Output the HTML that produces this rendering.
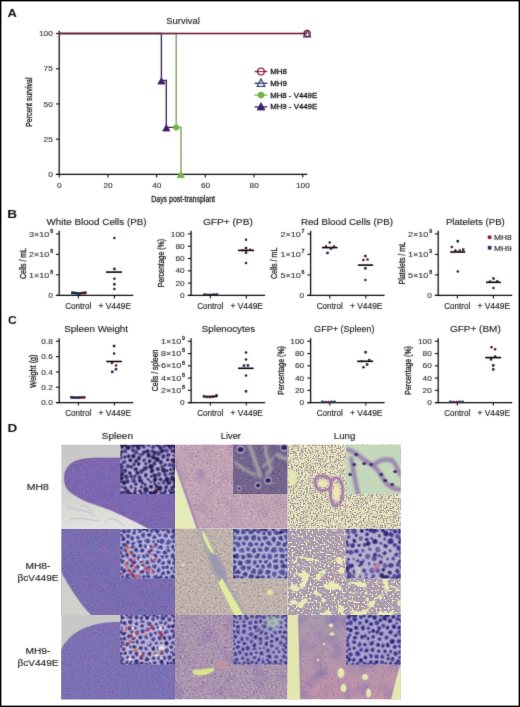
<!DOCTYPE html>
<html><head><meta charset="utf-8"><title>Figure</title>
<style>
html,body{margin:0;padding:0;background:#fff;}
body{width:520px;height:707px;overflow:hidden;}
svg{display:block;}
text{font-family:"Liberation Sans", Arial, Helvetica, sans-serif;}
</style></head><body>
<svg width="520" height="707" viewBox="0 0 520 707">
<defs>
<filter id="glob" x="0" y="0" width="520" height="707" filterUnits="userSpaceOnUse"><feConvolveMatrix order="3" kernelMatrix="0.0100 0.0800 0.0100 0.0800 0.6400 0.0800 0.0100 0.0800 0.0100" edgeMode="none"/></filter>
<clipPath id="t00"><rect x="61.2" y="444.5" width="113.80" height="84.30"/></clipPath>
<clipPath id="i00"><rect x="120.40" y="444.5" width="54.6" height="49.6"/></clipPath>
<clipPath id="t01"><rect x="175.0" y="444.5" width="112.70" height="84.30"/></clipPath>
<clipPath id="i01"><rect x="233.10" y="444.5" width="54.6" height="49.6"/></clipPath>
<clipPath id="t02"><rect x="287.7" y="444.5" width="113.10" height="84.30"/></clipPath>
<clipPath id="i02"><rect x="346.20" y="444.5" width="54.6" height="49.6"/></clipPath>
<clipPath id="t10"><rect x="61.2" y="528.8" width="113.80" height="86.20"/></clipPath>
<clipPath id="i10"><rect x="120.40" y="528.8" width="54.6" height="49.6"/></clipPath>
<clipPath id="t11"><rect x="175.0" y="528.8" width="112.70" height="86.20"/></clipPath>
<clipPath id="i11"><rect x="233.10" y="528.8" width="54.6" height="49.6"/></clipPath>
<clipPath id="t12"><rect x="287.7" y="528.8" width="113.10" height="86.20"/></clipPath>
<clipPath id="i12"><rect x="346.20" y="528.8" width="54.6" height="49.6"/></clipPath>
<clipPath id="t20"><rect x="61.2" y="615.0" width="113.80" height="84.40"/></clipPath>
<clipPath id="i20"><rect x="120.40" y="615.0" width="54.6" height="49.6"/></clipPath>
<clipPath id="t21"><rect x="175.0" y="615.0" width="112.70" height="84.40"/></clipPath>
<clipPath id="i21"><rect x="233.10" y="615.0" width="54.6" height="49.6"/></clipPath>
<clipPath id="t22"><rect x="287.7" y="615.0" width="113.10" height="84.40"/></clipPath>
<clipPath id="i22"><rect x="346.20" y="615.0" width="54.6" height="49.6"/></clipPath>
<filter id="b3" x="-10%" y="-10%" width="120%" height="120%"><feConvolveMatrix order="3" kernelMatrix="0.0064 0.0672 0.0064 0.0672 0.7056 0.0672 0.0064 0.0672 0.0064" edgeMode="duplicate"/></filter>
<filter id="b4" x="-10%" y="-10%" width="120%" height="120%"><feConvolveMatrix order="3" kernelMatrix="0.0144 0.0912 0.0144 0.0912 0.5776 0.0912 0.0144 0.0912 0.0144" edgeMode="duplicate"/></filter>
<filter id="b5" x="-10%" y="-10%" width="120%" height="120%"><feConvolveMatrix order="3" kernelMatrix="0.0256 0.1088 0.0256 0.1088 0.4624 0.1088 0.0256 0.1088 0.0256" edgeMode="duplicate"/></filter>
<filter id="b6" x="-10%" y="-10%" width="120%" height="120%"><feConvolveMatrix order="3" kernelMatrix="0.0400 0.1200 0.0400 0.1200 0.3600 0.1200 0.0400 0.1200 0.0400" edgeMode="duplicate"/></filter>
<filter id="b8" x="-10%" y="-10%" width="120%" height="120%"><feGaussianBlur stdDeviation="0.8"/></filter>
<filter id="b10" x="-10%" y="-10%" width="120%" height="120%"><feGaussianBlur stdDeviation="1.0"/></filter>
<filter id="b15" x="-10%" y="-10%" width="120%" height="120%"><feGaussianBlur stdDeviation="1.5"/></filter>
<filter id="b20" x="-10%" y="-10%" width="120%" height="120%"><feGaussianBlur stdDeviation="2.0"/></filter>
<filter id="b30" x="-10%" y="-10%" width="120%" height="120%"><feGaussianBlur stdDeviation="3.0"/></filter>
<clipPath id="tongue"><path d="M64.5,478 C64.5,470 69,464.5 75,461.5 C81,459 88,458.5 96,458.3 L176,458 L176,529 L150,529 C146,527 140,523.5 131,519.2 C124,516 118,513 111,510 C104,507.2 98,505 92,503.3 C84,500.5 76,496 70,491.5 C66,488 64.5,483 64.5,478 Z"/></clipPath>
<linearGradient id="g00" x1="0" y1="0" x2="0.3" y2="1"><stop offset="0" stop-color="#c6c6c6"/><stop offset="0.5" stop-color="#cfcfcd"/><stop offset="1" stop-color="#e2e2de"/></linearGradient>
<filter id="fin01a" x="0%" y="0%" width="100%" height="100%" color-interpolation-filters="sRGB"><feTurbulence type="fractalNoise" baseFrequency="0.4" numOctaves="2" seed="51"/><feColorMatrix type="matrix" values="0 0 0 0 0.369 0 0 0 0 0.298 0 0 0 0 0.518 2.6 0 0 0 -1.35"/><feGaussianBlur stdDeviation="0.45"/></filter>
<filter id="fin01b" x="0%" y="0%" width="100%" height="100%" color-interpolation-filters="sRGB"><feTurbulence type="fractalNoise" baseFrequency="0.4" numOctaves="2" seed="52"/><feColorMatrix type="matrix" values="0 0 0 0 0.659 0 0 0 0 0.620 0 0 0 0 0.722 1.8 0 0 0 -1.0"/><feGaussianBlur stdDeviation="0.45"/></filter>
<clipPath id="lowlung"><path d="M287,560 L300,556 L330,562 L345,552 L402,560 L402,616 L287,616 Z"/></clipPath>
<clipPath id="disc"><path d="M60,652 C63,644 69,637 77,632 C85,627 95,624 105,622.8 C111,622.2 117,622 123,621.8 L176,621.5 L176,700 L60,700 Z"/></clipPath>
<linearGradient id="g22" x1="0" y1="0" x2="0" y2="1"><stop offset="0" stop-color="#aa9aae"/><stop offset="1" stop-color="#c294aa"/></linearGradient>
<filter id="msp_p" x="0%" y="0%" width="100%" height="100%" color-interpolation-filters="sRGB"><feTurbulence type="fractalNoise" baseFrequency="0.09" numOctaves="3" seed="21"/><feColorMatrix type="matrix" values="0 0 0 0 0.565 0 0 0 0 0.439 0 0 0 0 0.690 1.6 0 0 0 -0.8"/><feGaussianBlur stdDeviation="1.0"/></filter>
<filter id="msp_b" x="0%" y="0%" width="100%" height="100%" color-interpolation-filters="sRGB"><feTurbulence type="fractalNoise" baseFrequency="0.1" numOctaves="3" seed="22"/><feColorMatrix type="matrix" values="0 0 0 0 0.416 0 0 0 0 0.455 0 0 0 0 0.737 1.6 0 0 0 -0.8"/><feGaussianBlur stdDeviation="1.0"/></filter>
<filter id="fsp_l" x="0%" y="0%" width="100%" height="100%" color-interpolation-filters="sRGB"><feTurbulence type="fractalNoise" baseFrequency="0.5" numOctaves="2" seed="41"/><feColorMatrix type="matrix" values="0 0 0 0 0.643 0 0 0 0 0.533 0 0 0 0 0.784 1.6 0 0 0 -0.9"/><feGaussianBlur stdDeviation="0.4"/></filter>
<filter id="fsp_d" x="0%" y="0%" width="100%" height="100%" color-interpolation-filters="sRGB"><feTurbulence type="fractalNoise" baseFrequency="0.5" numOctaves="2" seed="42"/><feColorMatrix type="matrix" values="0 0 0 0 0.329 0 0 0 0 0.267 0 0 0 0 0.557 1.6 0 0 0 -0.9"/><feGaussianBlur stdDeviation="0.4"/></filter>
<filter id="mliv0" x="0%" y="0%" width="100%" height="100%" color-interpolation-filters="sRGB"><feTurbulence type="fractalNoise" baseFrequency="0.07" numOctaves="3" seed="24"/><feColorMatrix type="matrix" values="0 0 0 0 0.690 0 0 0 0 0.541 0 0 0 0 0.675 2.0 0 0 0 -1.0"/><feGaussianBlur stdDeviation="1.5"/></filter>
<filter id="fliv0" x="0%" y="0%" width="100%" height="100%" color-interpolation-filters="sRGB"><feTurbulence type="fractalNoise" baseFrequency="0.45" numOctaves="2" seed="25"/><feColorMatrix type="matrix" values="0 0 0 0 0.549 0 0 0 0 0.424 0 0 0 0 0.573 1.6 0 0 0 -0.85"/><feGaussianBlur stdDeviation="0.45"/></filter>
<filter id="fliv0b" x="0%" y="0%" width="100%" height="100%" color-interpolation-filters="sRGB"><feTurbulence type="fractalNoise" baseFrequency="0.45" numOctaves="2" seed="26"/><feColorMatrix type="matrix" values="0 0 0 0 0.894 0 0 0 0 0.839 0 0 0 0 0.871 1.6 0 0 0 -0.85"/><feGaussianBlur stdDeviation="0.45"/></filter>
<filter id="fliv1" x="0%" y="0%" width="100%" height="100%" color-interpolation-filters="sRGB"><feTurbulence type="fractalNoise" baseFrequency="0.45" numOctaves="2" seed="27"/><feColorMatrix type="matrix" values="0 0 0 0 0.522 0 0 0 0 0.455 0 0 0 0 0.502 1.7 0 0 0 -0.85"/><feGaussianBlur stdDeviation="0.45"/></filter>
<filter id="fliv1b" x="0%" y="0%" width="100%" height="100%" color-interpolation-filters="sRGB"><feTurbulence type="fractalNoise" baseFrequency="0.45" numOctaves="2" seed="28"/><feColorMatrix type="matrix" values="0 0 0 0 0.902 0 0 0 0 0.871 0 0 0 0 0.831 1.6 0 0 0 -0.85"/><feGaussianBlur stdDeviation="0.45"/></filter>
<filter id="mliv2" x="0%" y="0%" width="100%" height="100%" color-interpolation-filters="sRGB"><feTurbulence type="fractalNoise" baseFrequency="0.06" numOctaves="3" seed="29"/><feColorMatrix type="matrix" values="0 0 0 0 0.541 0 0 0 0 0.447 0 0 0 0 0.690 1.8 0 0 0 -0.9"/><feGaussianBlur stdDeviation="1.5"/></filter>
<filter id="fliv2" x="0%" y="0%" width="100%" height="100%" color-interpolation-filters="sRGB"><feTurbulence type="fractalNoise" baseFrequency="0.45" numOctaves="2" seed="30"/><feColorMatrix type="matrix" values="0 0 0 0 0.431 0 0 0 0 0.353 0 0 0 0 0.533 1.7 0 0 0 -0.85"/><feGaussianBlur stdDeviation="0.45"/></filter>
<filter id="fliv2b" x="0%" y="0%" width="100%" height="100%" color-interpolation-filters="sRGB"><feTurbulence type="fractalNoise" baseFrequency="0.45" numOctaves="2" seed="31"/><feColorMatrix type="matrix" values="0 0 0 0 0.863 0 0 0 0 0.784 0 0 0 0 0.847 1.6 0 0 0 -0.85"/><feGaussianBlur stdDeviation="0.45"/></filter>
<filter id="flung0" x="0%" y="0%" width="100%" height="100%" color-interpolation-filters="sRGB"><feTurbulence type="fractalNoise" baseFrequency="0.6" numOctaves="2" seed="32"/><feColorMatrix type="matrix" values="0 0 0 0 0.675 0 0 0 0 0.612 0 0 0 0 0.643 8.0 0 0 0 -3.9"/><feGaussianBlur stdDeviation="0.35"/></filter>
<filter id="flung0b" x="0%" y="0%" width="100%" height="100%" color-interpolation-filters="sRGB"><feTurbulence type="fractalNoise" baseFrequency="0.13" numOctaves="2" seed="33"/><feColorMatrix type="matrix" values="0 0 0 0 0.706 0 0 0 0 0.627 0 0 0 0 0.659 2.0 0 0 0 -1.1"/><feGaussianBlur stdDeviation="1.0"/></filter>
<filter id="fl1a" x="0%" y="0%" width="100%" height="100%" color-interpolation-filters="sRGB"><feTurbulence type="fractalNoise" baseFrequency="0.11" numOctaves="3" seed="34"/><feColorMatrix type="matrix" values="0 0 0 0 0.910 0 0 0 0 0.918 0 0 0 0 0.706 9.0 0 0 0 -5.05"/><feGaussianBlur stdDeviation="0.5"/></filter>
<filter id="fl1b" x="0%" y="0%" width="100%" height="100%" color-interpolation-filters="sRGB"><feTurbulence type="fractalNoise" baseFrequency="0.5" numOctaves="2" seed="35"/><feColorMatrix type="matrix" values="0 0 0 0 0.925 0 0 0 0 0.922 0 0 0 0 0.753 7.0 0 0 0 -3.75"/><feGaussianBlur stdDeviation="0.35"/></filter>
<filter id="fl1c" x="0%" y="0%" width="100%" height="100%" color-interpolation-filters="sRGB"><feTurbulence type="fractalNoise" baseFrequency="0.07" numOctaves="2" seed="36"/><feColorMatrix type="matrix" values="0 0 0 0 0.722 0 0 0 0 0.565 0 0 0 0 0.659 1.6 0 0 0 -0.8"/><feGaussianBlur stdDeviation="1.5"/></filter>
<filter id="mlung2" x="0%" y="0%" width="100%" height="100%" color-interpolation-filters="sRGB"><feTurbulence type="fractalNoise" baseFrequency="0.07" numOctaves="3" seed="37"/><feColorMatrix type="matrix" values="0 0 0 0 0.541 0 0 0 0 0.471 0 0 0 0 0.690 2.4 0 0 0 -1.1"/><feGaussianBlur stdDeviation="1.5"/></filter>
<filter id="flung2" x="0%" y="0%" width="100%" height="100%" color-interpolation-filters="sRGB"><feTurbulence type="fractalNoise" baseFrequency="0.45" numOctaves="2" seed="38"/><feColorMatrix type="matrix" values="0 0 0 0 0.541 0 0 0 0 0.416 0 0 0 0 0.596 1.6 0 0 0 -0.85"/><feGaussianBlur stdDeviation="0.45"/></filter>
</defs>
<rect x="0" y="0" width="520" height="707" fill="#fff"/>
<g filter="url(#glob)">
<text x="7.41" y="17.30" font-size="11.5" textLength="9.35" lengthAdjust="spacingAndGlyphs" fill="#111" font-weight="bold">A</text>
<text x="166.35" y="24.40" font-size="9.1" textLength="33.41" lengthAdjust="spacingAndGlyphs" fill="#1e1e1e" stroke="#1e1e1e" stroke-width="0.14">Survival</text>
<line x1="59.20" y1="30.70" x2="59.20" y2="175.00" stroke="#111" stroke-width="1.3"/>
<line x1="55.90" y1="174.40" x2="307.30" y2="174.40" stroke="#111" stroke-width="1.3"/>
<line x1="55.90" y1="33.50" x2="59.20" y2="33.50" stroke="#111" stroke-width="1.1"/>
<text x="38.95" y="36.10" font-size="7.4" textLength="13.80" lengthAdjust="spacingAndGlyphs" fill="#333333" stroke="#333333" stroke-width="0.12">100</text>
<line x1="55.90" y1="68.72" x2="59.20" y2="68.72" stroke="#111" stroke-width="1.1"/>
<text x="43.55" y="71.32" font-size="7.4" textLength="9.20" lengthAdjust="spacingAndGlyphs" fill="#333333" stroke="#333333" stroke-width="0.12">75</text>
<line x1="55.90" y1="103.95" x2="59.20" y2="103.95" stroke="#111" stroke-width="1.1"/>
<text x="43.55" y="106.55" font-size="7.4" textLength="9.20" lengthAdjust="spacingAndGlyphs" fill="#333333" stroke="#333333" stroke-width="0.12">50</text>
<line x1="55.90" y1="139.18" x2="59.20" y2="139.18" stroke="#111" stroke-width="1.1"/>
<text x="43.55" y="141.78" font-size="7.4" textLength="9.20" lengthAdjust="spacingAndGlyphs" fill="#333333" stroke="#333333" stroke-width="0.12">25</text>
<line x1="55.90" y1="174.40" x2="59.20" y2="174.40" stroke="#111" stroke-width="1.1"/>
<text x="48.15" y="177.00" font-size="7.4" textLength="4.60" lengthAdjust="spacingAndGlyphs" fill="#333333" stroke="#333333" stroke-width="0.12">0</text>
<line x1="59.20" y1="174.40" x2="59.20" y2="177.40" stroke="#111" stroke-width="1.1"/>
<text x="57.10" y="188.00" font-size="7.4" textLength="4.60" lengthAdjust="spacingAndGlyphs" fill="#333333" stroke="#333333" stroke-width="0.12">0</text>
<line x1="107.90" y1="174.40" x2="107.90" y2="177.40" stroke="#111" stroke-width="1.1"/>
<text x="103.50" y="188.00" font-size="7.4" textLength="9.20" lengthAdjust="spacingAndGlyphs" fill="#333333" stroke="#333333" stroke-width="0.12">20</text>
<line x1="156.60" y1="174.40" x2="156.60" y2="177.40" stroke="#111" stroke-width="1.1"/>
<text x="152.20" y="188.00" font-size="7.4" textLength="9.20" lengthAdjust="spacingAndGlyphs" fill="#333333" stroke="#333333" stroke-width="0.12">40</text>
<line x1="205.30" y1="174.40" x2="205.30" y2="177.40" stroke="#111" stroke-width="1.1"/>
<text x="200.90" y="188.00" font-size="7.4" textLength="9.20" lengthAdjust="spacingAndGlyphs" fill="#333333" stroke="#333333" stroke-width="0.12">60</text>
<line x1="254.00" y1="174.40" x2="254.00" y2="177.40" stroke="#111" stroke-width="1.1"/>
<text x="249.60" y="188.00" font-size="7.4" textLength="9.20" lengthAdjust="spacingAndGlyphs" fill="#333333" stroke="#333333" stroke-width="0.12">80</text>
<line x1="302.70" y1="174.40" x2="302.70" y2="177.40" stroke="#111" stroke-width="1.1"/>
<text x="296.00" y="188.00" font-size="7.4" textLength="13.80" lengthAdjust="spacingAndGlyphs" fill="#333333" stroke="#333333" stroke-width="0.12">100</text>
<text x="151.26" y="201.80" font-size="9" textLength="63.80" lengthAdjust="spacingAndGlyphs" fill="#1e1e1e" stroke="#1e1e1e" stroke-width="0.3">Days post-transplant</text>
<text transform="translate(32.39,102.20) rotate(-90)" x="0" y="0" font-size="8.6" text-anchor="middle" textLength="49.29" lengthAdjust="spacingAndGlyphs" fill="#1e1e1e" stroke="#1e1e1e" stroke-width="0.3">Percent survival</text>
<polyline points="59.2,33.5 161.4,33.5 161.4,80.47 166.3,80.47 166.3,127.43 176,127.43" fill="none" stroke="#3a2858" stroke-width="1.35"/>
<polyline points="59.2,33.5 176.2,33.5 176.2,127.43 181,127.43 181,174.4" fill="none" stroke="#7ca26a" stroke-width="1.4"/>
<line x1="59.20" y1="33.50" x2="307.10" y2="33.50" stroke="#6a1530" stroke-width="1.6"/>
<polygon points="157.90,83.97 164.90,83.97 161.40,77.97" fill="#3c1e6c" stroke="#3c1e6c" stroke-width="1.0" stroke-linejoin="miter"/>
<polygon points="162.80,130.93 169.80,130.93 166.30,124.93" fill="#3c1e6c" stroke="#3c1e6c" stroke-width="1.0" stroke-linejoin="miter"/>
<circle cx="176.2" cy="127.43" r="3" fill="#74b24a"/>
<polygon points="177.30,177.60 184.30,177.60 180.80,171.60" fill="#74b24a" stroke="#74b24a" stroke-width="1.0" stroke-linejoin="miter"/>
<polygon points="303.60,37.00 310.60,37.00 307.10,30.50" fill="none" stroke="#22356a" stroke-width="1.1" stroke-linejoin="miter"/>
<circle cx="307.1" cy="33.5" r="3.1" fill="none" stroke="#861636" stroke-width="1.3"/>
<circle cx="261" cy="71.5" r="3.3" fill="#fff" stroke="#861636" stroke-width="1.3"/>
<line x1="254.60" y1="71.50" x2="267.30" y2="71.50" stroke="#861636" stroke-width="1.3"/>
<text x="270.15" y="73.90" font-size="7.5" textLength="16.75" lengthAdjust="spacingAndGlyphs" fill="#141414" stroke="#141414" stroke-width="0.28">MH8</text>
<polygon points="257.20,86.30 264.80,86.30 261.00,79.10" fill="#fff" stroke="#22356a" stroke-width="1.2" stroke-linejoin="miter"/>
<line x1="254.60" y1="83.30" x2="267.30" y2="83.30" stroke="#22356a" stroke-width="1.3"/>
<text x="270.15" y="85.70" font-size="7.5" textLength="16.75" lengthAdjust="spacingAndGlyphs" fill="#141414" stroke="#141414" stroke-width="0.28">MH9</text>
<circle cx="261" cy="95.1" r="3.3" fill="#74b24a"/>
<line x1="254.60" y1="95.10" x2="267.30" y2="95.10" stroke="#74b24a" stroke-width="1.3"/>
<text x="270.15" y="97.50" font-size="7.5" textLength="47.05" lengthAdjust="spacingAndGlyphs" fill="#141414" stroke="#141414" stroke-width="0.28">MH8 - V449E</text>
<polygon points="257.20,109.90 264.80,109.90 261.00,102.70" fill="#3c1e6c" stroke="#3c1e6c" stroke-width="1.0" stroke-linejoin="miter"/>
<line x1="254.60" y1="106.90" x2="267.30" y2="106.90" stroke="#3c1e6c" stroke-width="1.3"/>
<text x="270.15" y="109.30" font-size="7.5" textLength="47.05" lengthAdjust="spacingAndGlyphs" fill="#141414" stroke="#141414" stroke-width="0.28">MH9 - V449E</text>
<text x="7.31" y="217.50" font-size="11.5" textLength="9.85" lengthAdjust="spacingAndGlyphs" fill="#111" font-weight="bold">B</text>
<text x="7.91" y="324.40" font-size="11.5" textLength="8.75" lengthAdjust="spacingAndGlyphs" fill="#111" font-weight="bold">C</text>
<line x1="59.20" y1="230.80" x2="59.20" y2="296.00" stroke="#111" stroke-width="1.3"/>
<line x1="55.90" y1="295.40" x2="133.20" y2="295.40" stroke="#111" stroke-width="1.3"/>
<line x1="55.90" y1="295.40" x2="59.20" y2="295.40" stroke="#111" stroke-width="1.1"/>
<text x="48.15" y="298.00" font-size="7.4" textLength="4.60" lengthAdjust="spacingAndGlyphs" fill="#333333" stroke="#333333" stroke-width="0.12">0</text>
<line x1="55.90" y1="274.90" x2="59.20" y2="274.90" stroke="#111" stroke-width="1.1"/>
<text x="29.00" y="277.50" font-size="7.4" textLength="20.30" lengthAdjust="spacingAndGlyphs" fill="#333333" stroke="#333333" stroke-width="0.12">1×10</text>
<text x="50.20" y="273.70" font-size="5.3" fill="#333333" stroke="#333333" stroke-width="0.3">8</text>
<line x1="55.90" y1="254.40" x2="59.20" y2="254.40" stroke="#111" stroke-width="1.1"/>
<text x="29.00" y="257.00" font-size="7.4" textLength="20.30" lengthAdjust="spacingAndGlyphs" fill="#333333" stroke="#333333" stroke-width="0.12">2×10</text>
<text x="50.20" y="253.20" font-size="5.3" fill="#333333" stroke="#333333" stroke-width="0.3">8</text>
<line x1="55.90" y1="233.90" x2="59.20" y2="233.90" stroke="#111" stroke-width="1.1"/>
<text x="29.00" y="236.50" font-size="7.4" textLength="20.30" lengthAdjust="spacingAndGlyphs" fill="#333333" stroke="#333333" stroke-width="0.12">3×10</text>
<text x="50.20" y="232.70" font-size="5.3" fill="#333333" stroke="#333333" stroke-width="0.3">8</text>
<line x1="78.40" y1="295.40" x2="78.40" y2="298.40" stroke="#111" stroke-width="1.1"/>
<line x1="114.40" y1="295.40" x2="114.40" y2="298.40" stroke="#111" stroke-width="1.1"/>
<text x="65.31" y="308.80" font-size="8.2" textLength="26.02" lengthAdjust="spacingAndGlyphs" fill="#1e1e1e" stroke="#1e1e1e" stroke-width="0.14">Control</text>
<text x="98.51" y="308.80" font-size="8.2" textLength="32.52" lengthAdjust="spacingAndGlyphs" fill="#1e1e1e" stroke="#1e1e1e" stroke-width="0.14">+ V449E</text>
<text x="46.52" y="225.10" font-size="9.7" textLength="100.07" lengthAdjust="spacingAndGlyphs" fill="#1e1e1e" stroke="#1e1e1e" stroke-width="0.14">White Blood Cells (PB)</text>
<text transform="translate(25.62,263.55) rotate(-90)" x="0" y="0" font-size="8.5" text-anchor="middle" textLength="30.78" lengthAdjust="spacingAndGlyphs" fill="#1e1e1e" stroke="#1e1e1e" stroke-width="0.3">Cells / mL</text>
<line x1="106.10" y1="272.10" x2="122.00" y2="272.10" stroke="#000" stroke-width="1.6"/>
<line x1="71.00" y1="293.40" x2="86.00" y2="293.40" stroke="#000" stroke-width="1.6"/>
<circle cx="114.4" cy="238.1" r="1.25" fill="#4c0a22"/>
<rect x="113.15" y="267.65" width="2.50" height="2.50" fill="#142848"/>
<circle cx="114.4" cy="278.7" r="1.25" fill="#4c0a22"/>
<rect x="113.15" y="283.05" width="2.50" height="2.50" fill="#142848"/>
<circle cx="114.4" cy="289.1" r="1.25" fill="#4c0a22"/>
<rect x="71.25" y="291.35" width="2.50" height="2.50" fill="#142848"/>
<rect x="73.55" y="291.65" width="2.50" height="2.50" fill="#142848"/>
<rect x="75.75" y="292.05" width="2.50" height="2.50" fill="#142848"/>
<rect x="77.95" y="292.35" width="2.50" height="2.50" fill="#142848"/>
<circle cx="81.4" cy="293.1" r="1.25" fill="#4c0a22"/>
<circle cx="83.6" cy="292.8" r="1.25" fill="#4c0a22"/>
<circle cx="85.6" cy="292.6" r="1.25" fill="#4c0a22"/>
<line x1="191.10" y1="230.80" x2="191.10" y2="296.00" stroke="#111" stroke-width="1.3"/>
<line x1="187.80" y1="295.40" x2="265.10" y2="295.40" stroke="#111" stroke-width="1.3"/>
<line x1="187.80" y1="295.40" x2="191.10" y2="295.40" stroke="#111" stroke-width="1.1"/>
<text x="180.05" y="298.00" font-size="7.4" textLength="4.60" lengthAdjust="spacingAndGlyphs" fill="#333333" stroke="#333333" stroke-width="0.12">0</text>
<line x1="187.80" y1="283.10" x2="191.10" y2="283.10" stroke="#111" stroke-width="1.1"/>
<text x="175.45" y="285.70" font-size="7.4" textLength="9.20" lengthAdjust="spacingAndGlyphs" fill="#333333" stroke="#333333" stroke-width="0.12">20</text>
<line x1="187.80" y1="270.80" x2="191.10" y2="270.80" stroke="#111" stroke-width="1.1"/>
<text x="175.45" y="273.40" font-size="7.4" textLength="9.20" lengthAdjust="spacingAndGlyphs" fill="#333333" stroke="#333333" stroke-width="0.12">40</text>
<line x1="187.80" y1="258.50" x2="191.10" y2="258.50" stroke="#111" stroke-width="1.1"/>
<text x="175.45" y="261.10" font-size="7.4" textLength="9.20" lengthAdjust="spacingAndGlyphs" fill="#333333" stroke="#333333" stroke-width="0.12">60</text>
<line x1="187.80" y1="246.20" x2="191.10" y2="246.20" stroke="#111" stroke-width="1.1"/>
<text x="175.45" y="248.80" font-size="7.4" textLength="9.20" lengthAdjust="spacingAndGlyphs" fill="#333333" stroke="#333333" stroke-width="0.12">80</text>
<line x1="187.80" y1="233.90" x2="191.10" y2="233.90" stroke="#111" stroke-width="1.1"/>
<text x="170.85" y="236.50" font-size="7.4" textLength="13.80" lengthAdjust="spacingAndGlyphs" fill="#333333" stroke="#333333" stroke-width="0.12">100</text>
<line x1="210.30" y1="295.40" x2="210.30" y2="298.40" stroke="#111" stroke-width="1.1"/>
<line x1="246.30" y1="295.40" x2="246.30" y2="298.40" stroke="#111" stroke-width="1.1"/>
<text x="197.21" y="308.80" font-size="8.2" textLength="26.02" lengthAdjust="spacingAndGlyphs" fill="#1e1e1e" stroke="#1e1e1e" stroke-width="0.14">Control</text>
<text x="230.41" y="308.80" font-size="8.2" textLength="32.52" lengthAdjust="spacingAndGlyphs" fill="#1e1e1e" stroke="#1e1e1e" stroke-width="0.14">+ V449E</text>
<text x="202.92" y="225.10" font-size="9.7" textLength="49.87" lengthAdjust="spacingAndGlyphs" fill="#1e1e1e" stroke="#1e1e1e" stroke-width="0.14">GFP+ (PB)</text>
<text transform="translate(164.02,263.15) rotate(-90)" x="0" y="0" font-size="8.5" text-anchor="middle" textLength="48.18" lengthAdjust="spacingAndGlyphs" fill="#1e1e1e" stroke="#1e1e1e" stroke-width="0.3">Percentage (%)</text>
<line x1="238.00" y1="250.40" x2="254.00" y2="250.40" stroke="#000" stroke-width="1.6"/>
<line x1="203.00" y1="295.00" x2="218.00" y2="295.00" stroke="#000" stroke-width="1.6"/>
<circle cx="246" cy="239.7" r="1.25" fill="#4c0a22"/>
<rect x="244.75" y="246.85" width="2.50" height="2.50" fill="#142848"/>
<circle cx="242.3" cy="250.2" r="1.25" fill="#4c0a22"/>
<circle cx="250.2" cy="249.8" r="1.25" fill="#4c0a22"/>
<rect x="244.75" y="251.35" width="2.50" height="2.50" fill="#142848"/>
<circle cx="246" cy="263.1" r="1.25" fill="#4c0a22"/>
<rect x="203.75" y="293.35" width="2.50" height="2.50" fill="#142848"/>
<circle cx="208" cy="294.8" r="1.25" fill="#4c0a22"/>
<circle cx="211" cy="294.8" r="1.25" fill="#4c0a22"/>
<rect x="212.75" y="293.35" width="2.50" height="2.50" fill="#142848"/>
<rect x="215.75" y="293.35" width="2.50" height="2.50" fill="#142848"/>
<line x1="310.60" y1="230.80" x2="310.60" y2="296.00" stroke="#111" stroke-width="1.3"/>
<line x1="307.30" y1="295.40" x2="384.60" y2="295.40" stroke="#111" stroke-width="1.3"/>
<line x1="307.30" y1="295.40" x2="310.60" y2="295.40" stroke="#111" stroke-width="1.1"/>
<text x="299.55" y="298.00" font-size="7.4" textLength="4.60" lengthAdjust="spacingAndGlyphs" fill="#333333" stroke="#333333" stroke-width="0.12">0</text>
<line x1="307.30" y1="274.90" x2="310.60" y2="274.90" stroke="#111" stroke-width="1.1"/>
<text x="280.40" y="277.50" font-size="7.4" textLength="20.30" lengthAdjust="spacingAndGlyphs" fill="#333333" stroke="#333333" stroke-width="0.12">5×10</text>
<text x="301.60" y="273.70" font-size="5.3" fill="#333333" stroke="#333333" stroke-width="0.3">6</text>
<line x1="307.30" y1="254.40" x2="310.60" y2="254.40" stroke="#111" stroke-width="1.1"/>
<text x="280.40" y="257.00" font-size="7.4" textLength="20.30" lengthAdjust="spacingAndGlyphs" fill="#333333" stroke="#333333" stroke-width="0.12">1×10</text>
<text x="301.60" y="253.20" font-size="5.3" fill="#333333" stroke="#333333" stroke-width="0.3">7</text>
<line x1="307.30" y1="233.90" x2="310.60" y2="233.90" stroke="#111" stroke-width="1.1"/>
<text x="280.40" y="236.50" font-size="7.4" textLength="20.30" lengthAdjust="spacingAndGlyphs" fill="#333333" stroke="#333333" stroke-width="0.12">2×10</text>
<text x="301.60" y="232.70" font-size="5.3" fill="#333333" stroke="#333333" stroke-width="0.3">7</text>
<line x1="329.80" y1="295.40" x2="329.80" y2="298.40" stroke="#111" stroke-width="1.1"/>
<line x1="365.80" y1="295.40" x2="365.80" y2="298.40" stroke="#111" stroke-width="1.1"/>
<text x="316.71" y="308.80" font-size="8.2" textLength="26.02" lengthAdjust="spacingAndGlyphs" fill="#1e1e1e" stroke="#1e1e1e" stroke-width="0.14">Control</text>
<text x="349.91" y="308.80" font-size="8.2" textLength="32.52" lengthAdjust="spacingAndGlyphs" fill="#1e1e1e" stroke="#1e1e1e" stroke-width="0.14">+ V449E</text>
<text x="300.92" y="225.10" font-size="9.7" textLength="91.97" lengthAdjust="spacingAndGlyphs" fill="#1e1e1e" stroke="#1e1e1e" stroke-width="0.14">Red Blood Cells (PB)</text>
<text transform="translate(277.02,263.38) rotate(-90)" x="0" y="0" font-size="8.5" text-anchor="middle" textLength="31.43" lengthAdjust="spacingAndGlyphs" fill="#1e1e1e" stroke="#1e1e1e" stroke-width="0.3">Cells / mL</text>
<line x1="321.90" y1="247.60" x2="337.50" y2="247.60" stroke="#000" stroke-width="1.6"/>
<line x1="357.90" y1="265.10" x2="373.10" y2="265.10" stroke="#000" stroke-width="1.6"/>
<circle cx="329.7" cy="242.5" r="1.25" fill="#4c0a22"/>
<circle cx="326" cy="246.6" r="1.25" fill="#4c0a22"/>
<circle cx="334" cy="246.6" r="1.25" fill="#4c0a22"/>
<rect x="329.75" y="247.35" width="2.50" height="2.50" fill="#142848"/>
<rect x="326.25" y="251.65" width="2.50" height="2.50" fill="#142848"/>
<rect x="364.15" y="254.75" width="2.50" height="2.50" fill="#142848"/>
<circle cx="363.4" cy="260.1" r="1.25" fill="#4c0a22"/>
<circle cx="367.5" cy="259.6" r="1.25" fill="#4c0a22"/>
<rect x="364.15" y="267.05" width="2.50" height="2.50" fill="#142848"/>
<circle cx="365.4" cy="280" r="1.25" fill="#4c0a22"/>
<line x1="438.20" y1="230.80" x2="438.20" y2="296.00" stroke="#111" stroke-width="1.3"/>
<line x1="434.90" y1="295.40" x2="512.20" y2="295.40" stroke="#111" stroke-width="1.3"/>
<line x1="434.90" y1="295.40" x2="438.20" y2="295.40" stroke="#111" stroke-width="1.1"/>
<text x="427.15" y="298.00" font-size="7.4" textLength="4.60" lengthAdjust="spacingAndGlyphs" fill="#333333" stroke="#333333" stroke-width="0.12">0</text>
<line x1="434.90" y1="274.90" x2="438.20" y2="274.90" stroke="#111" stroke-width="1.1"/>
<text x="408.00" y="277.50" font-size="7.4" textLength="20.30" lengthAdjust="spacingAndGlyphs" fill="#333333" stroke="#333333" stroke-width="0.12">5×10</text>
<text x="429.20" y="273.70" font-size="5.3" fill="#333333" stroke="#333333" stroke-width="0.3">8</text>
<line x1="434.90" y1="254.40" x2="438.20" y2="254.40" stroke="#111" stroke-width="1.1"/>
<text x="408.00" y="257.00" font-size="7.4" textLength="20.30" lengthAdjust="spacingAndGlyphs" fill="#333333" stroke="#333333" stroke-width="0.12">1×10</text>
<text x="429.20" y="253.20" font-size="5.3" fill="#333333" stroke="#333333" stroke-width="0.3">9</text>
<line x1="434.90" y1="233.90" x2="438.20" y2="233.90" stroke="#111" stroke-width="1.1"/>
<text x="408.00" y="236.50" font-size="7.4" textLength="20.30" lengthAdjust="spacingAndGlyphs" fill="#333333" stroke="#333333" stroke-width="0.12">2×10</text>
<text x="429.20" y="232.70" font-size="5.3" fill="#333333" stroke="#333333" stroke-width="0.3">9</text>
<line x1="457.40" y1="295.40" x2="457.40" y2="298.40" stroke="#111" stroke-width="1.1"/>
<line x1="493.40" y1="295.40" x2="493.40" y2="298.40" stroke="#111" stroke-width="1.1"/>
<text x="444.31" y="308.80" font-size="8.2" textLength="26.02" lengthAdjust="spacingAndGlyphs" fill="#1e1e1e" stroke="#1e1e1e" stroke-width="0.14">Control</text>
<text x="477.51" y="308.80" font-size="8.2" textLength="32.52" lengthAdjust="spacingAndGlyphs" fill="#1e1e1e" stroke="#1e1e1e" stroke-width="0.14">+ V449E</text>
<text x="445.92" y="225.10" font-size="9.7" textLength="58.87" lengthAdjust="spacingAndGlyphs" fill="#1e1e1e" stroke="#1e1e1e" stroke-width="0.14">Platelets (PB)</text>
<text transform="translate(404.52,263.25) rotate(-90)" x="0" y="0" font-size="8.5" text-anchor="middle" textLength="42.58" lengthAdjust="spacingAndGlyphs" fill="#1e1e1e" stroke="#1e1e1e" stroke-width="0.3">Platelets / mL</text>
<line x1="450.20" y1="252.00" x2="465.20" y2="252.00" stroke="#000" stroke-width="1.6"/>
<line x1="486.00" y1="282.30" x2="500.90" y2="282.30" stroke="#000" stroke-width="1.6"/>
<rect x="456.55" y="239.95" width="2.50" height="2.50" fill="#142848"/>
<circle cx="451.8" cy="247.1" r="1.25" fill="#4c0a22"/>
<circle cx="455.4" cy="250.6" r="1.25" fill="#4c0a22"/>
<circle cx="459.7" cy="250.6" r="1.25" fill="#4c0a22"/>
<rect x="461.95" y="248.35" width="2.50" height="2.50" fill="#142848"/>
<circle cx="457.8" cy="271.6" r="1.25" fill="#4c0a22"/>
<rect x="492.25" y="277.25" width="2.50" height="2.50" fill="#142848"/>
<circle cx="490" cy="281.4" r="1.25" fill="#4c0a22"/>
<circle cx="497.2" cy="281.2" r="1.25" fill="#4c0a22"/>
<circle cx="493.5" cy="288.1" r="1.25" fill="#4c0a22"/>
<circle cx="489.6" cy="237.3" r="2" fill="#861636"/>
<rect x="487.8" y="245.9" width="3.7" height="3.7" fill="#22356a"/>
<text x="493.94" y="240.20" font-size="7.6" textLength="17.66" lengthAdjust="spacingAndGlyphs" fill="#1e1e1e" stroke="#1e1e1e" stroke-width="0.14">MH8</text>
<text x="493.94" y="250.70" font-size="7.6" textLength="17.66" lengthAdjust="spacingAndGlyphs" fill="#1e1e1e" stroke="#1e1e1e" stroke-width="0.14">MH9</text>
<line x1="59.20" y1="338.20" x2="59.20" y2="403.20" stroke="#111" stroke-width="1.3"/>
<line x1="55.90" y1="402.60" x2="133.20" y2="402.60" stroke="#111" stroke-width="1.3"/>
<line x1="55.90" y1="402.60" x2="59.20" y2="402.60" stroke="#111" stroke-width="1.1"/>
<text x="41.25" y="405.20" font-size="7.4" textLength="11.50" lengthAdjust="spacingAndGlyphs" fill="#333333" stroke="#333333" stroke-width="0.12">0.0</text>
<line x1="55.90" y1="387.28" x2="59.20" y2="387.28" stroke="#111" stroke-width="1.1"/>
<text x="41.25" y="389.88" font-size="7.4" textLength="11.50" lengthAdjust="spacingAndGlyphs" fill="#333333" stroke="#333333" stroke-width="0.12">0.2</text>
<line x1="55.90" y1="371.95" x2="59.20" y2="371.95" stroke="#111" stroke-width="1.1"/>
<text x="41.25" y="374.55" font-size="7.4" textLength="11.50" lengthAdjust="spacingAndGlyphs" fill="#333333" stroke="#333333" stroke-width="0.12">0.4</text>
<line x1="55.90" y1="356.62" x2="59.20" y2="356.62" stroke="#111" stroke-width="1.1"/>
<text x="41.25" y="359.23" font-size="7.4" textLength="11.50" lengthAdjust="spacingAndGlyphs" fill="#333333" stroke="#333333" stroke-width="0.12">0.6</text>
<line x1="55.90" y1="341.30" x2="59.20" y2="341.30" stroke="#111" stroke-width="1.1"/>
<text x="41.25" y="343.90" font-size="7.4" textLength="11.50" lengthAdjust="spacingAndGlyphs" fill="#333333" stroke="#333333" stroke-width="0.12">0.8</text>
<line x1="78.40" y1="402.60" x2="78.40" y2="405.60" stroke="#111" stroke-width="1.1"/>
<line x1="114.40" y1="402.60" x2="114.40" y2="405.60" stroke="#111" stroke-width="1.1"/>
<text x="65.31" y="416.00" font-size="8.2" textLength="26.02" lengthAdjust="spacingAndGlyphs" fill="#1e1e1e" stroke="#1e1e1e" stroke-width="0.14">Control</text>
<text x="98.51" y="416.00" font-size="8.2" textLength="32.52" lengthAdjust="spacingAndGlyphs" fill="#1e1e1e" stroke="#1e1e1e" stroke-width="0.14">+ V449E</text>
<text x="64.32" y="332.40" font-size="9.7" textLength="63.77" lengthAdjust="spacingAndGlyphs" fill="#1e1e1e" stroke="#1e1e1e" stroke-width="0.14">Spleen Weight</text>
<text transform="translate(35.52,371.15) rotate(-90)" x="0" y="0" font-size="8.5" text-anchor="middle" textLength="33.38" lengthAdjust="spacingAndGlyphs" fill="#1e1e1e" stroke="#1e1e1e" stroke-width="0.3">Weight (g)</text>
<line x1="106.30" y1="361.50" x2="121.90" y2="361.50" stroke="#000" stroke-width="1.6"/>
<line x1="70.50" y1="397.50" x2="85.50" y2="397.50" stroke="#000" stroke-width="1.6"/>
<rect x="112.85" y="344.75" width="2.50" height="2.50" fill="#142848"/>
<circle cx="114.1" cy="353.5" r="1.25" fill="#4c0a22"/>
<circle cx="112" cy="363.1" r="1.25" fill="#4c0a22"/>
<circle cx="116" cy="365.4" r="1.25" fill="#4c0a22"/>
<rect x="114.75" y="368.05" width="2.50" height="2.50" fill="#142848"/>
<rect x="111.05" y="370.55" width="2.50" height="2.50" fill="#142848"/>
<rect x="70.25" y="396.05" width="2.50" height="2.50" fill="#142848"/>
<rect x="72.75" y="396.35" width="2.50" height="2.50" fill="#142848"/>
<circle cx="76.5" cy="397.8" r="1.25" fill="#4c0a22"/>
<rect x="77.75" y="396.35" width="2.50" height="2.50" fill="#142848"/>
<circle cx="81.5" cy="397.4" r="1.25" fill="#4c0a22"/>
<circle cx="84" cy="397.2" r="1.25" fill="#4c0a22"/>
<line x1="191.10" y1="338.20" x2="191.10" y2="403.20" stroke="#111" stroke-width="1.3"/>
<line x1="187.80" y1="402.60" x2="265.10" y2="402.60" stroke="#111" stroke-width="1.3"/>
<line x1="187.80" y1="402.60" x2="191.10" y2="402.60" stroke="#111" stroke-width="1.1"/>
<text x="180.05" y="405.20" font-size="7.4" textLength="4.60" lengthAdjust="spacingAndGlyphs" fill="#333333" stroke="#333333" stroke-width="0.12">0</text>
<line x1="187.80" y1="390.34" x2="191.10" y2="390.34" stroke="#111" stroke-width="1.1"/>
<text x="160.90" y="392.94" font-size="7.4" textLength="20.30" lengthAdjust="spacingAndGlyphs" fill="#333333" stroke="#333333" stroke-width="0.12">2×10</text>
<text x="182.10" y="389.14" font-size="5.3" fill="#333333" stroke="#333333" stroke-width="0.3">8</text>
<line x1="187.80" y1="378.08" x2="191.10" y2="378.08" stroke="#111" stroke-width="1.1"/>
<text x="160.90" y="380.68" font-size="7.4" textLength="20.30" lengthAdjust="spacingAndGlyphs" fill="#333333" stroke="#333333" stroke-width="0.12">4×10</text>
<text x="182.10" y="376.88" font-size="5.3" fill="#333333" stroke="#333333" stroke-width="0.3">8</text>
<line x1="187.80" y1="365.82" x2="191.10" y2="365.82" stroke="#111" stroke-width="1.1"/>
<text x="160.90" y="368.42" font-size="7.4" textLength="20.30" lengthAdjust="spacingAndGlyphs" fill="#333333" stroke="#333333" stroke-width="0.12">6×10</text>
<text x="182.10" y="364.62" font-size="5.3" fill="#333333" stroke="#333333" stroke-width="0.3">8</text>
<line x1="187.80" y1="353.56" x2="191.10" y2="353.56" stroke="#111" stroke-width="1.1"/>
<text x="160.90" y="356.16" font-size="7.4" textLength="20.30" lengthAdjust="spacingAndGlyphs" fill="#333333" stroke="#333333" stroke-width="0.12">8×10</text>
<text x="182.10" y="352.36" font-size="5.3" fill="#333333" stroke="#333333" stroke-width="0.3">8</text>
<line x1="187.80" y1="341.30" x2="191.10" y2="341.30" stroke="#111" stroke-width="1.1"/>
<text x="160.90" y="343.90" font-size="7.4" textLength="20.30" lengthAdjust="spacingAndGlyphs" fill="#333333" stroke="#333333" stroke-width="0.12">1×10</text>
<text x="182.10" y="340.10" font-size="5.3" fill="#333333" stroke="#333333" stroke-width="0.3">9</text>
<line x1="210.30" y1="402.60" x2="210.30" y2="405.60" stroke="#111" stroke-width="1.1"/>
<line x1="246.30" y1="402.60" x2="246.30" y2="405.60" stroke="#111" stroke-width="1.1"/>
<text x="197.21" y="416.00" font-size="8.2" textLength="26.02" lengthAdjust="spacingAndGlyphs" fill="#1e1e1e" stroke="#1e1e1e" stroke-width="0.14">Control</text>
<text x="230.41" y="416.00" font-size="8.2" textLength="32.52" lengthAdjust="spacingAndGlyphs" fill="#1e1e1e" stroke="#1e1e1e" stroke-width="0.14">+ V449E</text>
<text x="201.72" y="332.40" font-size="9.7" textLength="53.37" lengthAdjust="spacingAndGlyphs" fill="#1e1e1e" stroke="#1e1e1e" stroke-width="0.14">Splenocytes</text>
<text transform="translate(157.52,370.40) rotate(-90)" x="0" y="0" font-size="8.5" text-anchor="middle" textLength="41.68" lengthAdjust="spacingAndGlyphs" fill="#1e1e1e" stroke="#1e1e1e" stroke-width="0.3">Cells / spleen</text>
<line x1="238.00" y1="368.30" x2="253.60" y2="368.30" stroke="#000" stroke-width="1.6"/>
<line x1="203.00" y1="396.50" x2="217.50" y2="396.50" stroke="#000" stroke-width="1.6"/>
<circle cx="246" cy="352.6" r="1.25" fill="#4c0a22"/>
<circle cx="246" cy="359.4" r="1.25" fill="#4c0a22"/>
<rect x="242.75" y="364.35" width="2.50" height="2.50" fill="#142848"/>
<rect x="246.65" y="364.15" width="2.50" height="2.50" fill="#142848"/>
<circle cx="246" cy="375.4" r="1.25" fill="#4c0a22"/>
<rect x="244.75" y="390.05" width="2.50" height="2.50" fill="#142848"/>
<rect x="202.75" y="395.15" width="2.50" height="2.50" fill="#142848"/>
<circle cx="207" cy="396.9" r="1.25" fill="#4c0a22"/>
<circle cx="210" cy="397.2" r="1.25" fill="#4c0a22"/>
<rect x="211.75" y="395.35" width="2.50" height="2.50" fill="#142848"/>
<circle cx="216.5" cy="395.2" r="1.25" fill="#4c0a22"/>
<line x1="310.60" y1="338.20" x2="310.60" y2="403.20" stroke="#111" stroke-width="1.3"/>
<line x1="307.30" y1="402.60" x2="384.60" y2="402.60" stroke="#111" stroke-width="1.3"/>
<line x1="307.30" y1="402.60" x2="310.60" y2="402.60" stroke="#111" stroke-width="1.1"/>
<text x="299.55" y="405.20" font-size="7.4" textLength="4.60" lengthAdjust="spacingAndGlyphs" fill="#333333" stroke="#333333" stroke-width="0.12">0</text>
<line x1="307.30" y1="390.34" x2="310.60" y2="390.34" stroke="#111" stroke-width="1.1"/>
<text x="294.95" y="392.94" font-size="7.4" textLength="9.20" lengthAdjust="spacingAndGlyphs" fill="#333333" stroke="#333333" stroke-width="0.12">20</text>
<line x1="307.30" y1="378.08" x2="310.60" y2="378.08" stroke="#111" stroke-width="1.1"/>
<text x="294.95" y="380.68" font-size="7.4" textLength="9.20" lengthAdjust="spacingAndGlyphs" fill="#333333" stroke="#333333" stroke-width="0.12">40</text>
<line x1="307.30" y1="365.82" x2="310.60" y2="365.82" stroke="#111" stroke-width="1.1"/>
<text x="294.95" y="368.42" font-size="7.4" textLength="9.20" lengthAdjust="spacingAndGlyphs" fill="#333333" stroke="#333333" stroke-width="0.12">60</text>
<line x1="307.30" y1="353.56" x2="310.60" y2="353.56" stroke="#111" stroke-width="1.1"/>
<text x="294.95" y="356.16" font-size="7.4" textLength="9.20" lengthAdjust="spacingAndGlyphs" fill="#333333" stroke="#333333" stroke-width="0.12">80</text>
<line x1="307.30" y1="341.30" x2="310.60" y2="341.30" stroke="#111" stroke-width="1.1"/>
<text x="290.35" y="343.90" font-size="7.4" textLength="13.80" lengthAdjust="spacingAndGlyphs" fill="#333333" stroke="#333333" stroke-width="0.12">100</text>
<line x1="329.80" y1="402.60" x2="329.80" y2="405.60" stroke="#111" stroke-width="1.1"/>
<line x1="365.80" y1="402.60" x2="365.80" y2="405.60" stroke="#111" stroke-width="1.1"/>
<text x="316.71" y="416.00" font-size="8.2" textLength="26.02" lengthAdjust="spacingAndGlyphs" fill="#1e1e1e" stroke="#1e1e1e" stroke-width="0.14">Control</text>
<text x="349.91" y="416.00" font-size="8.2" textLength="32.52" lengthAdjust="spacingAndGlyphs" fill="#1e1e1e" stroke="#1e1e1e" stroke-width="0.14">+ V449E</text>
<text x="314.12" y="332.40" font-size="9.7" textLength="60.47" lengthAdjust="spacingAndGlyphs" fill="#1e1e1e" stroke="#1e1e1e" stroke-width="0.14">GFP+ (Spleen)</text>
<text transform="translate(283.52,370.40) rotate(-90)" x="0" y="0" font-size="8.5" text-anchor="middle" textLength="48.68" lengthAdjust="spacingAndGlyphs" fill="#1e1e1e" stroke="#1e1e1e" stroke-width="0.3">Percentage (%)</text>
<line x1="357.20" y1="361.30" x2="373.10" y2="361.30" stroke="#000" stroke-width="1.6"/>
<rect x="364.35" y="350.95" width="2.50" height="2.50" fill="#142848"/>
<circle cx="361.8" cy="361.3" r="1.25" fill="#4c0a22"/>
<circle cx="369.2" cy="359.9" r="1.25" fill="#4c0a22"/>
<rect x="365.85" y="363.25" width="2.50" height="2.50" fill="#142848"/>
<circle cx="363.5" cy="367.2" r="1.25" fill="#4c0a22"/>
<rect x="321.25" y="400.65" width="2.50" height="2.50" fill="#142848"/>
<circle cx="325.5" cy="402" r="1.25" fill="#4c0a22"/>
<circle cx="328.5" cy="402" r="1.25" fill="#4c0a22"/>
<rect x="330.25" y="400.65" width="2.50" height="2.50" fill="#142848"/>
<rect x="333.25" y="400.65" width="2.50" height="2.50" fill="#142848"/>
<line x1="438.20" y1="338.20" x2="438.20" y2="403.20" stroke="#111" stroke-width="1.3"/>
<line x1="434.90" y1="402.60" x2="512.20" y2="402.60" stroke="#111" stroke-width="1.3"/>
<line x1="434.90" y1="402.60" x2="438.20" y2="402.60" stroke="#111" stroke-width="1.1"/>
<text x="427.15" y="405.20" font-size="7.4" textLength="4.60" lengthAdjust="spacingAndGlyphs" fill="#333333" stroke="#333333" stroke-width="0.12">0</text>
<line x1="434.90" y1="390.34" x2="438.20" y2="390.34" stroke="#111" stroke-width="1.1"/>
<text x="422.55" y="392.94" font-size="7.4" textLength="9.20" lengthAdjust="spacingAndGlyphs" fill="#333333" stroke="#333333" stroke-width="0.12">20</text>
<line x1="434.90" y1="378.08" x2="438.20" y2="378.08" stroke="#111" stroke-width="1.1"/>
<text x="422.55" y="380.68" font-size="7.4" textLength="9.20" lengthAdjust="spacingAndGlyphs" fill="#333333" stroke="#333333" stroke-width="0.12">40</text>
<line x1="434.90" y1="365.82" x2="438.20" y2="365.82" stroke="#111" stroke-width="1.1"/>
<text x="422.55" y="368.42" font-size="7.4" textLength="9.20" lengthAdjust="spacingAndGlyphs" fill="#333333" stroke="#333333" stroke-width="0.12">60</text>
<line x1="434.90" y1="353.56" x2="438.20" y2="353.56" stroke="#111" stroke-width="1.1"/>
<text x="422.55" y="356.16" font-size="7.4" textLength="9.20" lengthAdjust="spacingAndGlyphs" fill="#333333" stroke="#333333" stroke-width="0.12">80</text>
<line x1="434.90" y1="341.30" x2="438.20" y2="341.30" stroke="#111" stroke-width="1.1"/>
<text x="417.95" y="343.90" font-size="7.4" textLength="13.80" lengthAdjust="spacingAndGlyphs" fill="#333333" stroke="#333333" stroke-width="0.12">100</text>
<line x1="457.40" y1="402.60" x2="457.40" y2="405.60" stroke="#111" stroke-width="1.1"/>
<line x1="493.40" y1="402.60" x2="493.40" y2="405.60" stroke="#111" stroke-width="1.1"/>
<text x="444.31" y="416.00" font-size="8.2" textLength="26.02" lengthAdjust="spacingAndGlyphs" fill="#1e1e1e" stroke="#1e1e1e" stroke-width="0.14">Control</text>
<text x="477.51" y="416.00" font-size="8.2" textLength="32.52" lengthAdjust="spacingAndGlyphs" fill="#1e1e1e" stroke="#1e1e1e" stroke-width="0.14">+ V449E</text>
<text x="449.92" y="332.40" font-size="9.7" textLength="50.87" lengthAdjust="spacingAndGlyphs" fill="#1e1e1e" stroke="#1e1e1e" stroke-width="0.14">GFP+ (BM)</text>
<text transform="translate(411.02,370.40) rotate(-90)" x="0" y="0" font-size="8.5" text-anchor="middle" textLength="48.68" lengthAdjust="spacingAndGlyphs" fill="#1e1e1e" stroke="#1e1e1e" stroke-width="0.3">Percentage (%)</text>
<line x1="485.20" y1="357.60" x2="501.10" y2="357.60" stroke="#000" stroke-width="1.6"/>
<circle cx="491.5" cy="347.2" r="1.25" fill="#4c0a22"/>
<circle cx="495.1" cy="349.2" r="1.25" fill="#4c0a22"/>
<circle cx="495.1" cy="356.4" r="1.25" fill="#4c0a22"/>
<rect x="489.75" y="358.05" width="2.50" height="2.50" fill="#142848"/>
<rect x="492.05" y="364.15" width="2.50" height="2.50" fill="#142848"/>
<rect x="492.05" y="368.15" width="2.50" height="2.50" fill="#142848"/>
<rect x="449.25" y="400.65" width="2.50" height="2.50" fill="#142848"/>
<circle cx="453.5" cy="402" r="1.25" fill="#4c0a22"/>
<circle cx="456.5" cy="402" r="1.25" fill="#4c0a22"/>
<rect x="458.25" y="400.65" width="2.50" height="2.50" fill="#142848"/>
<rect x="461.25" y="400.65" width="2.50" height="2.50" fill="#142848"/>
<text x="7.41" y="431.50" font-size="11.5" textLength="9.75" lengthAdjust="spacingAndGlyphs" fill="#111" font-weight="bold">D</text>
<text x="101.72" y="439.40" font-size="9.6" textLength="31.36" lengthAdjust="spacingAndGlyphs" fill="#1e1e1e" stroke="#1e1e1e" stroke-width="0.14">Spleen</text>
<text x="220.72" y="439.40" font-size="9.6" textLength="20.26" lengthAdjust="spacingAndGlyphs" fill="#1e1e1e" stroke="#1e1e1e" stroke-width="0.14">Liver</text>
<text x="333.82" y="439.40" font-size="9.6" textLength="21.56" lengthAdjust="spacingAndGlyphs" fill="#1e1e1e" stroke="#1e1e1e" stroke-width="0.14">Lung</text>
<text x="26.67" y="490.20" font-size="9.6" textLength="22.21" lengthAdjust="spacingAndGlyphs" fill="#1e1e1e" stroke="#1e1e1e" stroke-width="0.14">MH8</text>
<text x="25.42" y="568.75" font-size="9.6" textLength="24.96" lengthAdjust="spacingAndGlyphs" fill="#1e1e1e" stroke="#1e1e1e" stroke-width="0.14">MH8-</text>
<text x="17.52" y="580.90" font-size="9.6" textLength="40.96" lengthAdjust="spacingAndGlyphs" fill="#1e1e1e" stroke="#1e1e1e" stroke-width="0.14">βcV449E</text>
<text x="25.42" y="654.00" font-size="9.6" textLength="24.96" lengthAdjust="spacingAndGlyphs" fill="#1e1e1e" stroke="#1e1e1e" stroke-width="0.14">MH9-</text>
<text x="17.52" y="666.25" font-size="9.6" textLength="40.96" lengthAdjust="spacingAndGlyphs" fill="#1e1e1e" stroke="#1e1e1e" stroke-width="0.14">βcV449E</text>
</g>
<g clip-path="url(#t00)">
<rect x="61.20" y="444.50" width="113.80" height="84.30" fill="url(#g00)"/>
<g filter="url(#b4)">
<path d="M64.5,478 C64.5,470 69,464.5 75,461.5 C81,459 88,458.5 96,458.3 L176,458 L176,529 L150,529 C146,527 140,523.5 131,519.2 C124,516 118,513 111,510 C104,507.2 98,505 92,503.3 C84,500.5 76,496 70,491.5 C66,488 64.5,483 64.5,478 Z" fill="#7e66b0"/>
</g>
<g clip-path="url(#tongue)">
<rect x="61.20" y="444.50" width="113.80" height="84.30" fill="#000" filter="url(#msp_p)"/>
</g>
<g clip-path="url(#tongue)">
<rect x="61.20" y="444.50" width="113.80" height="84.30" fill="#000" filter="url(#msp_b)"/>
</g>
<g clip-path="url(#tongue)">
<rect x="61.20" y="444.50" width="113.80" height="84.30" fill="#000" filter="url(#fsp_l)"/>
</g>
<g clip-path="url(#tongue)">
<rect x="61.20" y="444.50" width="113.80" height="84.30" fill="#000" filter="url(#fsp_d)"/>
</g>
<path d="M64.5,478 C64.5,470 69,464.5 75,461.5 C81,459 88,458.5 96,458.3 L176,458 L176,529 L150,529 C146,527 140,523.5 131,519.2 C124,516 118,513 111,510 C104,507.2 98,505 92,503.3 C84,500.5 76,496 70,491.5 C66,488 64.5,483 64.5,478 Z" fill="none" stroke="#6a4ea0" stroke-width="1.2" opacity="0.6" filter="url(#b5)"/>
<path d="M66,505 C75,512 85,508 95,516 M70,520 C80,515 90,522 100,520 M105,522 C110,515 118,520 125,527 M80,507 C84,503 88,506 92,512" stroke="#b4aec4" stroke-width="0.8" fill="none" opacity="0.8" filter="url(#b3)"/>
<g clip-path="url(#i00)"><g filter="url(#b6)">
<rect x="119.40" y="443.50" width="56.60" height="51.60" fill="#c0b8e2"/>
<path d="M125.4,446.0 L127.6,444.0 L122.0,444.0Z" fill="#8a80c2" stroke="#c0b8e2" stroke-width="1.1"/>
<path d="M136.2,445.7 L140.5,444.8 L140.8,444.3 L140.7,444.0 L134.8,444.0Z" fill="#8a80c2" stroke="#c0b8e2" stroke-width="1.1"/>
<path d="M140.8,444.3 L141.6,444.0 L140.7,444.0Z" fill="#8a80c2" stroke="#c0b8e2" stroke-width="1.1"/>
<path d="M146.4,445.2 L149.5,444.0 L145.8,444.0Z" fill="#8a80c2" stroke="#c0b8e2" stroke-width="1.1"/>
<path d="M156.9,448.0 L161.0,444.0 L153.8,444.0Z" fill="#8a80c2" stroke="#c0b8e2" stroke-width="1.1"/>
<path d="M167.5,446.3 L170.5,445.8 L170.3,444.0 L166.4,444.0Z" fill="#8a80c2" stroke="#c0b8e2" stroke-width="1.1"/>
<path d="M170.5,445.8 L172.5,446.3 L174.6,444.0 L170.3,444.0Z" fill="#8a80c2" stroke="#c0b8e2" stroke-width="1.1"/>
<path d="M121.1,444.0 L119.9,444.0 L119.9,448.2Z" fill="#8a80c2" stroke="#c0b8e2" stroke-width="1.1"/>
<path d="M125.4,446.0 L122.0,444.0 L121.1,444.0 L119.9,448.2 L119.9,448.8 L122.9,449.3 L125.3,447.7Z" fill="#8a80c2" stroke="#c0b8e2" stroke-width="1.1"/>
<path d="M125.4,446.0 L125.3,447.7 L129.3,452.4 L129.5,452.4 L131.2,447.8 L130.1,444.0 L127.6,444.0Z" fill="#8a80c2" stroke="#c0b8e2" stroke-width="1.1"/>
<path d="M131.2,447.8 L135.6,447.6 L136.2,445.7 L134.8,444.0 L130.1,444.0Z" fill="#8a80c2" stroke="#c0b8e2" stroke-width="1.1"/>
<path d="M136.2,445.7 L135.6,447.6 L136.0,449.9 L139.6,450.9 L140.0,450.8 L140.5,450.6 L141.9,449.1 L140.5,444.8Z" fill="#8a80c2" stroke="#c0b8e2" stroke-width="1.1"/>
<path d="M146.4,445.2 L145.8,444.0 L141.6,444.0 L140.8,444.3 L140.5,444.8 L141.9,449.1 L144.9,449.6 L147.2,447.8Z" fill="#8a80c2" stroke="#c0b8e2" stroke-width="1.1"/>
<path d="M146.4,445.2 L147.2,447.8 L148.6,448.0 L152.7,444.0 L149.5,444.0Z" fill="#8a80c2" stroke="#c0b8e2" stroke-width="1.1"/>
<path d="M148.6,448.0 L149.7,449.2 L155.1,449.5 L156.9,448.6 L156.9,448.0 L153.8,444.0 L152.7,444.0Z" fill="#8a80c2" stroke="#c0b8e2" stroke-width="1.1"/>
<path d="M156.9,448.0 L156.9,448.6 L157.5,449.3 L158.0,449.5 L164.3,448.0 L161.1,444.0 L161.0,444.0Z" fill="#8a80c2" stroke="#c0b8e2" stroke-width="1.1"/>
<path d="M164.3,448.0 L165.4,448.4 L166.5,447.8 L167.5,446.3 L166.4,444.0 L161.1,444.0Z" fill="#8a80c2" stroke="#c0b8e2" stroke-width="1.1"/>
<path d="M169.5,451.3 L172.8,447.3 L172.5,446.3 L170.5,445.8 L167.5,446.3 L166.5,447.8Z" fill="#8a80c2" stroke="#c0b8e2" stroke-width="1.1"/>
<path d="M172.5,446.3 L172.8,447.3 L175.0,450.0 L175.5,449.9 L175.5,444.0 L174.6,444.0Z" fill="#8a80c2" stroke="#c0b8e2" stroke-width="1.1"/>
<path d="M119.9,448.8 L119.9,454.9 L120.0,454.9 L121.3,455.1 L122.3,454.4 L122.9,449.3Z" fill="#8a80c2" stroke="#c0b8e2" stroke-width="1.1"/>
<path d="M122.9,449.3 L122.3,454.4 L127.2,454.3 L129.3,452.4 L125.3,447.7Z" fill="#8a80c2" stroke="#c0b8e2" stroke-width="1.1"/>
<path d="M131.1,453.1 L133.1,453.2 L136.0,449.9 L135.6,447.6 L131.2,447.8 L129.5,452.4Z" fill="#8a80c2" stroke="#c0b8e2" stroke-width="1.1"/>
<path d="M135.8,456.2 L137.1,455.7 L139.6,450.9 L136.0,449.9 L133.1,453.2Z" fill="#8a80c2" stroke="#c0b8e2" stroke-width="1.1"/>
<path d="M141.9,449.1 L140.5,450.6 L145.1,456.6 L145.7,456.5 L146.1,455.1 L144.9,449.6Z" fill="#8a80c2" stroke="#c0b8e2" stroke-width="1.1"/>
<path d="M147.2,447.8 L144.9,449.6 L146.1,455.1 L150.0,452.3 L149.7,449.2 L148.6,448.0Z" fill="#8a80c2" stroke="#c0b8e2" stroke-width="1.1"/>
<path d="M149.7,449.2 L150.0,452.3 L152.3,453.4 L155.1,449.5Z" fill="#8a80c2" stroke="#c0b8e2" stroke-width="1.1"/>
<path d="M155.1,449.5 L152.3,453.4 L152.5,454.0 L156.1,456.5 L157.5,449.3 L156.9,448.6Z" fill="#8a80c2" stroke="#c0b8e2" stroke-width="1.1"/>
<path d="M161.8,453.0 L164.2,452.7 L165.4,448.4 L164.3,448.0 L158.0,449.5Z" fill="#8a80c2" stroke="#c0b8e2" stroke-width="1.1"/>
<path d="M169.7,452.4 L169.5,451.3 L166.5,447.8 L165.4,448.4 L164.2,452.7 L165.3,453.7Z" fill="#8a80c2" stroke="#c0b8e2" stroke-width="1.1"/>
<path d="M174.5,452.6 L175.0,450.0 L172.8,447.3 L169.5,451.3 L169.7,452.4 L172.2,454.5Z" fill="#8a80c2" stroke="#c0b8e2" stroke-width="1.1"/>
<path d="M175.0,450.0 L174.5,452.6 L175.5,453.1 L175.5,449.9Z" fill="#8a80c2" stroke="#c0b8e2" stroke-width="1.1"/>
<path d="M120.0,454.9 L119.9,454.9 L119.9,455.1Z" fill="#8a80c2" stroke="#c0b8e2" stroke-width="1.1"/>
<path d="M122.3,454.4 L121.3,455.1 L122.9,459.5 L127.1,460.2 L127.2,454.3Z" fill="#8a80c2" stroke="#c0b8e2" stroke-width="1.1"/>
<path d="M127.2,454.3 L127.1,460.2 L127.2,460.4 L130.9,457.6 L131.1,453.1 L129.5,452.4 L129.3,452.4Z" fill="#8a80c2" stroke="#c0b8e2" stroke-width="1.1"/>
<path d="M131.1,453.1 L130.9,457.6 L133.8,460.2 L135.5,458.5 L135.8,456.2 L133.1,453.2Z" fill="#8a80c2" stroke="#c0b8e2" stroke-width="1.1"/>
<path d="M139.6,450.9 L137.1,455.7 L140.8,456.1 L140.0,450.8Z" fill="#8a80c2" stroke="#c0b8e2" stroke-width="1.1"/>
<path d="M140.8,456.1 L143.1,457.5 L145.1,456.6 L140.5,450.6 L140.0,450.8Z" fill="#8a80c2" stroke="#c0b8e2" stroke-width="1.1"/>
<path d="M146.1,455.1 L145.7,456.5 L147.3,457.9 L149.3,457.9 L152.5,454.0 L152.3,453.4 L150.0,452.3Z" fill="#8a80c2" stroke="#c0b8e2" stroke-width="1.1"/>
<path d="M156.1,456.5 L152.5,454.0 L149.3,457.9 L153.4,459.9 L154.1,459.7 L156.3,456.9Z" fill="#8a80c2" stroke="#c0b8e2" stroke-width="1.1"/>
<path d="M159.6,457.4 L161.8,453.0 L158.0,449.5 L157.5,449.3 L156.1,456.5 L156.3,456.9Z" fill="#8a80c2" stroke="#c0b8e2" stroke-width="1.1"/>
<path d="M160.9,458.9 L164.3,460.1 L166.2,457.7 L165.3,453.7 L164.2,452.7 L161.8,453.0 L159.6,457.4Z" fill="#8a80c2" stroke="#c0b8e2" stroke-width="1.1"/>
<path d="M172.2,454.5 L169.7,452.4 L165.3,453.7 L166.2,457.7 L170.7,457.4 L171.9,456.9Z" fill="#8a80c2" stroke="#c0b8e2" stroke-width="1.1"/>
<path d="M174.5,452.6 L172.2,454.5 L171.9,456.9 L174.0,458.7 L175.5,458.4 L175.5,453.1Z" fill="#8a80c2" stroke="#c0b8e2" stroke-width="1.1"/>
<path d="M122.9,459.5 L121.3,455.1 L120.0,454.9 L119.9,455.1 L119.9,462.7 L119.9,462.7Z" fill="#8a80c2" stroke="#c0b8e2" stroke-width="1.1"/>
<path d="M124.8,465.1 L128.2,462.6 L127.2,460.4 L127.1,460.2 L122.9,459.5 L119.9,462.7 L120.9,463.6Z" fill="#8a80c2" stroke="#c0b8e2" stroke-width="1.1"/>
<path d="M127.2,460.4 L128.2,462.6 L130.1,463.4 L130.2,463.4 L133.2,461.4 L133.8,460.2 L130.9,457.6Z" fill="#8a80c2" stroke="#c0b8e2" stroke-width="1.1"/>
<path d="M133.2,461.4 L136.0,463.5 L138.4,460.4 L135.5,458.5 L133.8,460.2Z" fill="#8a80c2" stroke="#c0b8e2" stroke-width="1.1"/>
<path d="M140.8,456.1 L137.1,455.7 L135.8,456.2 L135.5,458.5 L138.4,460.4 L141.0,461.3 L143.1,457.5Z" fill="#8a80c2" stroke="#c0b8e2" stroke-width="1.1"/>
<path d="M145.7,456.5 L145.1,456.6 L143.1,457.5 L141.0,461.3 L141.5,464.3 L147.4,460.7 L147.3,457.9Z" fill="#8a80c2" stroke="#c0b8e2" stroke-width="1.1"/>
<path d="M147.4,460.7 L148.5,464.3 L151.5,464.1 L153.4,459.9 L149.3,457.9 L147.3,457.9Z" fill="#8a80c2" stroke="#c0b8e2" stroke-width="1.1"/>
<path d="M154.1,459.7 L157.7,463.8 L160.9,458.9 L159.6,457.4 L156.3,456.9Z" fill="#8a80c2" stroke="#c0b8e2" stroke-width="1.1"/>
<path d="M157.7,463.8 L157.9,465.0 L158.1,465.1 L162.7,464.6 L164.5,460.9 L164.3,460.1 L160.9,458.9Z" fill="#8a80c2" stroke="#c0b8e2" stroke-width="1.1"/>
<path d="M169.5,462.2 L170.7,457.4 L166.2,457.7 L164.3,460.1 L164.5,460.9 L167.0,462.6Z" fill="#8a80c2" stroke="#c0b8e2" stroke-width="1.1"/>
<path d="M174.2,462.4 L174.0,458.7 L171.9,456.9 L170.7,457.4 L169.5,462.2 L171.9,463.6Z" fill="#8a80c2" stroke="#c0b8e2" stroke-width="1.1"/>
<path d="M174.0,458.7 L174.2,462.4 L175.5,463.3 L175.5,458.4Z" fill="#8a80c2" stroke="#c0b8e2" stroke-width="1.1"/>
<path d="M121.1,468.3 L120.9,463.6 L119.9,462.7 L119.9,462.7 L119.9,468.0Z" fill="#8a80c2" stroke="#c0b8e2" stroke-width="1.1"/>
<path d="M121.1,468.3 L122.4,469.5 L124.6,468.1 L124.8,465.1 L120.9,463.6Z" fill="#8a80c2" stroke="#c0b8e2" stroke-width="1.1"/>
<path d="M129.9,470.2 L130.1,463.4 L128.2,462.6 L124.8,465.1 L124.6,468.1 L128.7,470.6Z" fill="#8a80c2" stroke="#c0b8e2" stroke-width="1.1"/>
<path d="M136.0,463.5 L133.2,461.4 L130.2,463.4 L134.6,466.5 L137.9,466.5Z" fill="#8a80c2" stroke="#c0b8e2" stroke-width="1.1"/>
<path d="M139.5,467.2 L139.9,467.1 L140.8,466.3 L141.5,465.4 L141.5,464.3 L141.0,461.3 L138.4,460.4 L136.0,463.5 L137.9,466.5Z" fill="#8a80c2" stroke="#c0b8e2" stroke-width="1.1"/>
<path d="M141.5,464.3 L141.5,465.4 L147.6,465.3 L148.5,464.3 L147.4,460.7Z" fill="#8a80c2" stroke="#c0b8e2" stroke-width="1.1"/>
<path d="M148.5,464.3 L147.6,465.3 L148.7,470.4 L154.6,467.5 L151.5,464.1Z" fill="#8a80c2" stroke="#c0b8e2" stroke-width="1.1"/>
<path d="M153.4,459.9 L151.5,464.1 L154.6,467.5 L154.8,467.5 L157.9,465.0 L157.7,463.8 L154.1,459.7Z" fill="#8a80c2" stroke="#c0b8e2" stroke-width="1.1"/>
<path d="M164.0,467.4 L162.7,464.6 L158.1,465.1 L161.2,469.7Z" fill="#8a80c2" stroke="#c0b8e2" stroke-width="1.1"/>
<path d="M167.0,462.6 L164.5,460.9 L162.7,464.6 L164.0,467.4 L166.6,468.2 L168.1,467.9Z" fill="#8a80c2" stroke="#c0b8e2" stroke-width="1.1"/>
<path d="M169.5,462.2 L167.0,462.6 L168.1,467.9 L168.2,467.9 L170.6,467.2 L171.9,463.6Z" fill="#8a80c2" stroke="#c0b8e2" stroke-width="1.1"/>
<path d="M174.2,462.4 L171.9,463.6 L170.6,467.2 L172.9,468.3 L175.5,465.9 L175.5,463.3Z" fill="#8a80c2" stroke="#c0b8e2" stroke-width="1.1"/>
<path d="M120.6,471.3 L122.2,470.1 L122.4,469.5 L121.1,468.3 L119.9,468.0 L119.9,471.3Z" fill="#8a80c2" stroke="#c0b8e2" stroke-width="1.1"/>
<path d="M124.6,468.1 L122.4,469.5 L122.2,470.1 L125.0,474.1 L127.1,473.1 L128.7,470.6Z" fill="#8a80c2" stroke="#c0b8e2" stroke-width="1.1"/>
<path d="M130.2,463.4 L130.1,463.4 L129.9,470.2 L131.4,470.8 L134.6,466.5Z" fill="#8a80c2" stroke="#c0b8e2" stroke-width="1.1"/>
<path d="M138.2,470.4 L139.5,467.2 L137.9,466.5 L134.6,466.5 L131.4,470.8 L133.3,472.4Z" fill="#8a80c2" stroke="#c0b8e2" stroke-width="1.1"/>
<path d="M140.8,466.3 L139.9,467.1 L144.4,473.7 L147.4,471.6Z" fill="#8a80c2" stroke="#c0b8e2" stroke-width="1.1"/>
<path d="M148.7,470.4 L147.6,465.3 L141.5,465.4 L140.8,466.3 L147.4,471.6 L148.2,471.5Z" fill="#8a80c2" stroke="#c0b8e2" stroke-width="1.1"/>
<path d="M154.8,467.5 L154.6,467.5 L148.7,470.4 L148.2,471.5 L149.7,473.3 L152.2,474.4 L156.1,471.7 L156.2,471.5Z" fill="#8a80c2" stroke="#c0b8e2" stroke-width="1.1"/>
<path d="M158.1,465.1 L157.9,465.0 L154.8,467.5 L156.2,471.5 L160.6,471.6 L161.2,469.7Z" fill="#8a80c2" stroke="#c0b8e2" stroke-width="1.1"/>
<path d="M164.0,467.4 L161.2,469.7 L160.6,471.6 L162.2,473.6 L165.2,471.6 L166.6,468.2Z" fill="#8a80c2" stroke="#c0b8e2" stroke-width="1.1"/>
<path d="M168.1,467.9 L166.6,468.2 L165.2,471.6 L168.1,473.7 L169.1,470.8 L168.2,467.9Z" fill="#8a80c2" stroke="#c0b8e2" stroke-width="1.1"/>
<path d="M172.9,468.3 L170.6,467.2 L168.2,467.9 L169.1,470.8 L171.6,472.0 L174.0,470.1Z" fill="#8a80c2" stroke="#c0b8e2" stroke-width="1.1"/>
<path d="M172.9,468.3 L174.0,470.1 L175.5,470.9 L175.5,465.9Z" fill="#8a80c2" stroke="#c0b8e2" stroke-width="1.1"/>
<path d="M119.9,471.3 L119.9,476.5 L120.0,476.5 L121.3,476.5 L120.6,471.3Z" fill="#8a80c2" stroke="#c0b8e2" stroke-width="1.1"/>
<path d="M120.6,471.3 L121.3,476.5 L122.9,477.2 L125.0,474.1 L122.2,470.1Z" fill="#8a80c2" stroke="#c0b8e2" stroke-width="1.1"/>
<path d="M133.3,472.4 L131.4,470.8 L129.9,470.2 L128.7,470.6 L127.1,473.1 L129.3,476.6 L133.1,473.6 L133.3,472.4Z" fill="#8a80c2" stroke="#c0b8e2" stroke-width="1.1"/>
<path d="M133.1,473.6 L133.9,477.7 L136.4,478.4 L137.5,476.0 L133.3,472.4Z" fill="#8a80c2" stroke="#c0b8e2" stroke-width="1.1"/>
<path d="M137.5,476.0 L140.0,474.2 L138.2,470.4 L133.3,472.4 L133.3,472.4Z" fill="#8a80c2" stroke="#c0b8e2" stroke-width="1.1"/>
<path d="M140.0,474.2 L142.9,475.8 L144.4,473.7 L139.9,467.1 L139.5,467.2 L138.2,470.4Z" fill="#8a80c2" stroke="#c0b8e2" stroke-width="1.1"/>
<path d="M148.3,476.5 L149.7,473.3 L148.2,471.5 L147.4,471.6 L144.4,473.7 L142.9,475.8 L143.3,477.7 L144.6,479.1Z" fill="#8a80c2" stroke="#c0b8e2" stroke-width="1.1"/>
<path d="M157.9,477.5 L156.1,471.7 L152.2,474.4 L153.0,477.5Z" fill="#8a80c2" stroke="#c0b8e2" stroke-width="1.1"/>
<path d="M156.2,471.5 L156.1,471.7 L157.9,477.5 L158.3,477.7 L162.7,476.6 L162.2,473.6 L160.6,471.6Z" fill="#8a80c2" stroke="#c0b8e2" stroke-width="1.1"/>
<path d="M165.2,471.6 L162.2,473.6 L162.7,476.6 L163.5,477.2 L163.6,477.2 L168.7,476.7 L168.1,473.7Z" fill="#8a80c2" stroke="#c0b8e2" stroke-width="1.1"/>
<path d="M169.1,470.8 L168.1,473.7 L168.7,476.7 L169.7,477.2 L171.4,475.8 L171.6,472.0Z" fill="#8a80c2" stroke="#c0b8e2" stroke-width="1.1"/>
<path d="M174.0,470.1 L171.6,472.0 L171.4,475.8 L175.5,474.6 L175.5,470.9Z" fill="#8a80c2" stroke="#c0b8e2" stroke-width="1.1"/>
<path d="M120.0,476.5 L119.9,476.5 L119.9,476.7Z" fill="#8a80c2" stroke="#c0b8e2" stroke-width="1.1"/>
<path d="M122.2,480.1 L123.5,478.4 L122.9,477.2 L121.3,476.5 L120.0,476.5 L119.9,476.7 L119.9,480.8Z" fill="#8a80c2" stroke="#c0b8e2" stroke-width="1.1"/>
<path d="M129.3,476.6 L127.1,473.1 L125.0,474.1 L122.9,477.2 L123.5,478.4 L123.9,478.7 L129.2,478.4Z" fill="#8a80c2" stroke="#c0b8e2" stroke-width="1.1"/>
<path d="M130.7,479.9 L133.9,477.7 L133.1,473.6 L129.3,476.6 L129.2,478.4Z" fill="#8a80c2" stroke="#c0b8e2" stroke-width="1.1"/>
<path d="M131.0,482.8 L132.6,483.2 L137.3,482.1 L137.6,480.2 L136.4,478.4 L133.9,477.7 L130.7,479.9Z" fill="#8a80c2" stroke="#c0b8e2" stroke-width="1.1"/>
<path d="M136.4,478.4 L137.6,480.2 L143.3,477.7 L142.9,475.8 L140.0,474.2 L137.5,476.0Z" fill="#8a80c2" stroke="#c0b8e2" stroke-width="1.1"/>
<path d="M144.9,480.0 L145.9,481.1 L147.4,481.9 L151.7,479.8 L148.3,476.5 L144.6,479.1Z" fill="#8a80c2" stroke="#c0b8e2" stroke-width="1.1"/>
<path d="M148.3,476.5 L151.7,479.8 L152.0,479.7 L153.0,477.5 L152.2,474.4 L149.7,473.3Z" fill="#8a80c2" stroke="#c0b8e2" stroke-width="1.1"/>
<path d="M153.5,481.4 L156.4,481.8 L157.7,480.8 L158.3,477.7 L157.9,477.5 L153.0,477.5 L152.0,479.7Z" fill="#8a80c2" stroke="#c0b8e2" stroke-width="1.1"/>
<path d="M163.5,477.2 L162.7,476.6 L158.3,477.7 L157.7,480.8 L161.1,483.0Z" fill="#8a80c2" stroke="#c0b8e2" stroke-width="1.1"/>
<path d="M168.7,476.7 L163.6,477.2 L165.7,482.7 L170.2,478.5 L169.7,477.2Z" fill="#8a80c2" stroke="#c0b8e2" stroke-width="1.1"/>
<path d="M171.4,475.8 L169.7,477.2 L170.2,478.5 L172.6,481.9 L174.1,481.0 L175.5,477.6 L175.5,474.6Z" fill="#8a80c2" stroke="#c0b8e2" stroke-width="1.1"/>
<path d="M174.1,481.0 L175.5,480.8 L175.5,477.6Z" fill="#8a80c2" stroke="#c0b8e2" stroke-width="1.1"/>
<path d="M121.3,484.5 L122.2,480.1 L119.9,480.8 L119.9,484.3Z" fill="#8a80c2" stroke="#c0b8e2" stroke-width="1.1"/>
<path d="M123.9,478.7 L123.5,478.4 L122.2,480.1 L121.3,484.5 L122.9,486.1 L127.0,485.3Z" fill="#8a80c2" stroke="#c0b8e2" stroke-width="1.1"/>
<path d="M123.9,478.7 L127.0,485.3 L128.0,485.6 L131.0,482.8 L130.7,479.9 L129.2,478.4Z" fill="#8a80c2" stroke="#c0b8e2" stroke-width="1.1"/>
<path d="M138.9,484.3 L137.3,482.1 L132.6,483.2 L134.3,486.4 L138.4,486.6 L139.1,485.1Z" fill="#8a80c2" stroke="#c0b8e2" stroke-width="1.1"/>
<path d="M143.3,477.7 L137.6,480.2 L137.3,482.1 L138.9,484.3 L144.9,480.0 L144.6,479.1Z" fill="#8a80c2" stroke="#c0b8e2" stroke-width="1.1"/>
<path d="M142.9,485.9 L145.9,481.1 L144.9,480.0 L138.9,484.3 L139.1,485.1Z" fill="#8a80c2" stroke="#c0b8e2" stroke-width="1.1"/>
<path d="M147.9,483.3 L152.9,485.1 L153.5,481.4 L152.0,479.7 L151.7,479.8 L147.4,481.9Z" fill="#8a80c2" stroke="#c0b8e2" stroke-width="1.1"/>
<path d="M156.7,483.8 L156.4,481.8 L153.5,481.4 L152.9,485.1 L153.7,487.2Z" fill="#8a80c2" stroke="#c0b8e2" stroke-width="1.1"/>
<path d="M161.1,483.0 L157.7,480.8 L156.4,481.8 L156.7,483.8 L159.7,485.4 L161.6,484.8Z" fill="#8a80c2" stroke="#c0b8e2" stroke-width="1.1"/>
<path d="M163.4,485.9 L165.6,485.1 L165.7,482.7 L163.6,477.2 L163.5,477.2 L161.1,483.0 L161.6,484.8Z" fill="#8a80c2" stroke="#c0b8e2" stroke-width="1.1"/>
<path d="M170.2,478.5 L165.7,482.7 L165.6,485.1 L169.5,486.0 L172.2,484.2 L172.4,484.0 L172.6,481.9Z" fill="#8a80c2" stroke="#c0b8e2" stroke-width="1.1"/>
<path d="M172.4,484.0 L175.5,484.8 L175.5,480.8 L174.1,481.0 L172.6,481.9Z" fill="#8a80c2" stroke="#c0b8e2" stroke-width="1.1"/>
<path d="M120.5,490.5 L121.3,489.7 L122.9,486.1 L121.3,484.5 L119.9,484.3 L119.9,490.5Z" fill="#8a80c2" stroke="#c0b8e2" stroke-width="1.1"/>
<path d="M122.9,486.1 L121.3,489.7 L126.1,490.3 L129.0,488.7 L128.0,485.6 L127.0,485.3Z" fill="#8a80c2" stroke="#c0b8e2" stroke-width="1.1"/>
<path d="M134.3,486.4 L132.6,483.2 L131.0,482.8 L128.0,485.6 L129.0,488.7 L130.8,490.8 L132.9,489.5Z" fill="#8a80c2" stroke="#c0b8e2" stroke-width="1.1"/>
<path d="M138.4,487.9 L138.4,486.6 L134.3,486.4 L132.9,489.5 L137.7,489.3Z" fill="#8a80c2" stroke="#c0b8e2" stroke-width="1.1"/>
<path d="M144.2,487.7 L142.9,485.9 L139.1,485.1 L138.4,486.6 L138.4,487.9 L143.1,490.1Z" fill="#8a80c2" stroke="#c0b8e2" stroke-width="1.1"/>
<path d="M147.9,483.3 L147.4,481.9 L145.9,481.1 L142.9,485.9 L144.2,487.7 L147.7,487.3Z" fill="#8a80c2" stroke="#c0b8e2" stroke-width="1.1"/>
<path d="M152.4,490.1 L153.7,489.3 L153.7,487.2 L152.9,485.1 L147.9,483.3 L147.7,487.3 L150.2,489.9 L151.0,490.1Z" fill="#8a80c2" stroke="#c0b8e2" stroke-width="1.1"/>
<path d="M153.7,489.3 L156.0,489.6 L159.7,485.4 L156.7,483.8 L153.7,487.2Z" fill="#8a80c2" stroke="#c0b8e2" stroke-width="1.1"/>
<path d="M159.7,485.4 L156.0,489.6 L158.0,491.1 L162.3,490.3 L163.1,488.5 L163.4,485.9 L161.6,484.8Z" fill="#8a80c2" stroke="#c0b8e2" stroke-width="1.1"/>
<path d="M163.4,485.9 L163.1,488.5 L167.5,490.4 L169.4,486.3 L169.5,486.0 L165.6,485.1Z" fill="#8a80c2" stroke="#c0b8e2" stroke-width="1.1"/>
<path d="M175.0,490.1 L172.2,484.2 L169.5,486.0 L169.4,486.3 L171.7,491.7 L173.1,492.0Z" fill="#8a80c2" stroke="#c0b8e2" stroke-width="1.1"/>
<path d="M172.4,484.0 L172.2,484.2 L175.0,490.1 L175.5,490.1 L175.5,484.8Z" fill="#8a80c2" stroke="#c0b8e2" stroke-width="1.1"/>
<path d="M122.5,493.9 L120.5,490.5 L119.9,490.5 L119.9,494.6 L121.3,494.6Z" fill="#8a80c2" stroke="#c0b8e2" stroke-width="1.1"/>
<path d="M126.1,490.3 L121.3,489.7 L120.5,490.5 L122.5,493.9 L123.5,494.6 L124.0,494.6Z" fill="#8a80c2" stroke="#c0b8e2" stroke-width="1.1"/>
<path d="M128.4,493.9 L130.8,491.3 L130.8,490.8 L129.0,488.7 L126.1,490.3 L124.0,494.6 L124.8,494.6Z" fill="#8a80c2" stroke="#c0b8e2" stroke-width="1.1"/>
<path d="M137.7,489.3 L132.9,489.5 L130.8,490.8 L130.8,491.3 L131.7,492.1 L138.2,493.1Z" fill="#8a80c2" stroke="#c0b8e2" stroke-width="1.1"/>
<path d="M138.7,493.8 L143.3,492.7 L143.1,490.1 L138.4,487.9 L137.7,489.3 L138.2,493.1Z" fill="#8a80c2" stroke="#c0b8e2" stroke-width="1.1"/>
<path d="M150.2,489.9 L147.7,487.3 L144.2,487.7 L143.1,490.1 L143.3,492.7 L143.4,492.7 L146.6,492.1Z" fill="#8a80c2" stroke="#c0b8e2" stroke-width="1.1"/>
<path d="M151.0,490.1 L150.2,489.9 L146.6,492.1 L147.6,494.6 L149.4,494.6Z" fill="#8a80c2" stroke="#c0b8e2" stroke-width="1.1"/>
<path d="M155.2,494.6 L158.5,494.6 L158.0,491.1 L156.0,489.6 L153.7,489.3 L152.4,490.1 L153.2,493.8Z" fill="#8a80c2" stroke="#c0b8e2" stroke-width="1.1"/>
<path d="M158.0,491.1 L158.5,494.6 L162.3,494.6 L164.0,493.1 L162.3,490.3Z" fill="#8a80c2" stroke="#c0b8e2" stroke-width="1.1"/>
<path d="M164.0,493.1 L166.0,493.8 L167.6,493.5 L167.5,490.4 L163.1,488.5 L162.3,490.3Z" fill="#8a80c2" stroke="#c0b8e2" stroke-width="1.1"/>
<path d="M169.4,486.3 L167.5,490.4 L167.6,493.5 L167.6,493.5 L171.7,491.7Z" fill="#8a80c2" stroke="#c0b8e2" stroke-width="1.1"/>
<path d="M175.0,490.1 L173.1,492.0 L173.9,494.6 L175.5,494.6 L175.5,490.1Z" fill="#8a80c2" stroke="#c0b8e2" stroke-width="1.1"/>
<path d="M122.5,493.9 L121.3,494.6 L123.5,494.6Z" fill="#8a80c2" stroke="#c0b8e2" stroke-width="1.1"/>
<path d="M128.4,493.9 L124.8,494.6 L128.5,494.6Z" fill="#8a80c2" stroke="#c0b8e2" stroke-width="1.1"/>
<path d="M130.8,491.3 L128.4,493.9 L128.5,494.6 L132.4,494.6 L131.7,492.1Z" fill="#8a80c2" stroke="#c0b8e2" stroke-width="1.1"/>
<path d="M131.7,492.1 L132.4,494.6 L138.5,494.6 L138.7,493.8 L138.2,493.1Z" fill="#8a80c2" stroke="#c0b8e2" stroke-width="1.1"/>
<path d="M143.4,492.7 L143.3,492.7 L138.7,493.8 L138.5,494.6 L144.1,494.6Z" fill="#8a80c2" stroke="#c0b8e2" stroke-width="1.1"/>
<path d="M146.6,492.1 L143.4,492.7 L144.1,494.6 L147.6,494.6Z" fill="#8a80c2" stroke="#c0b8e2" stroke-width="1.1"/>
<path d="M153.2,493.8 L152.4,490.1 L151.0,490.1 L149.4,494.6 L153.1,494.6Z" fill="#8a80c2" stroke="#c0b8e2" stroke-width="1.1"/>
<path d="M153.2,493.8 L153.1,494.6 L155.2,494.6Z" fill="#8a80c2" stroke="#c0b8e2" stroke-width="1.1"/>
<path d="M166.0,493.8 L164.0,493.1 L162.3,494.6 L165.8,494.6Z" fill="#8a80c2" stroke="#c0b8e2" stroke-width="1.1"/>
<path d="M173.1,492.0 L171.7,491.7 L167.6,493.5 L168.3,494.6 L173.9,494.6Z" fill="#8a80c2" stroke="#c0b8e2" stroke-width="1.1"/>
<ellipse cx="124.7" cy="444.6" rx="2.4" ry="2.3" fill="#2e2058" transform="rotate(57 125.0 444.7)"/>
<ellipse cx="137.8" cy="445.0" rx="2.4" ry="2.8" fill="#362866" transform="rotate(70 137.7 444.6)"/>
<ellipse cx="140.6" cy="443.7" rx="2.6" ry="2.6" fill="#2e2058" transform="rotate(94 141.0 444.1)"/>
<ellipse cx="147.0" cy="444.6" rx="1.3" ry="1.4" fill="#2e2058" transform="rotate(95 147.2 444.4)"/>
<ellipse cx="157.3" cy="445.7" rx="1.8" ry="2.1" fill="#3e2e72" transform="rotate(131 157.2 445.3)"/>
<ellipse cx="168.2" cy="444.9" rx="2.2" ry="2.6" fill="#2e2058" transform="rotate(13 168.6 445.0)"/>
<ellipse cx="172.3" cy="444.8" rx="2.2" ry="2.1" fill="#3e2e72" transform="rotate(42 172.1 444.9)"/>
<ellipse cx="120.3" cy="445.0" rx="2.2" ry="1.9" fill="#261a4e" transform="rotate(25 120.3 445.4)"/>
<ellipse cx="123.0" cy="446.5" rx="1.8" ry="2.0" fill="#261a4e" transform="rotate(168 122.5 446.8)"/>
<ellipse cx="128.4" cy="448.0" rx="2.4" ry="2.8" fill="#261a4e" transform="rotate(97 128.4 447.6)"/>
<ellipse cx="133.0" cy="446.2" rx="2.5" ry="2.4" fill="#3e2e72" transform="rotate(159 133.1 445.8)"/>
<ellipse cx="138.3" cy="448.0" rx="2.6" ry="2.4" fill="#2e2058" transform="rotate(30 138.7 447.9)"/>
<ellipse cx="143.6" cy="446.8" rx="2.3" ry="1.8" fill="#362866" transform="rotate(48 143.8 446.6)"/>
<ellipse cx="148.6" cy="445.8" rx="1.7" ry="1.8" fill="#4c3c86" transform="rotate(66 149.0 445.7)"/>
<ellipse cx="152.6" cy="446.9" rx="1.9" ry="1.7" fill="#362866" transform="rotate(64 152.9 447.2)"/>
<ellipse cx="160.7" cy="447.5" rx="2.3" ry="2.8" fill="#3e2e72" transform="rotate(139 160.4 447.2)"/>
<ellipse cx="165.1" cy="446.1" rx="1.8" ry="1.8" fill="#3e2e72" transform="rotate(98 164.7 445.8)"/>
<ellipse cx="170.1" cy="447.5" rx="1.7" ry="1.7" fill="#261a4e" transform="rotate(3 169.7 448.0)"/>
<ellipse cx="174.0" cy="446.7" rx="2.2" ry="2.5" fill="#2e2058" transform="rotate(111 174.4 446.8)"/>
<ellipse cx="121.5" cy="451.7" rx="2.2" ry="1.8" fill="#362866" transform="rotate(115 121.2 451.9)"/>
<ellipse cx="125.2" cy="451.9" rx="2.0" ry="2.1" fill="#4c3c86" transform="rotate(126 125.3 451.6)"/>
<ellipse cx="132.7" cy="450.3" rx="1.8" ry="2.1" fill="#3e2e72" transform="rotate(162 132.8 450.3)"/>
<ellipse cx="136.0" cy="453.3" rx="2.2" ry="2.3" fill="#4c3c86" transform="rotate(132 136.3 452.8)"/>
<ellipse cx="143.9" cy="452.3" rx="2.0" ry="2.1" fill="#362866" transform="rotate(50 143.7 452.3)"/>
<ellipse cx="147.6" cy="451.1" rx="2.0" ry="2.4" fill="#261a4e" transform="rotate(86 147.5 451.1)"/>
<ellipse cx="152.4" cy="451.1" rx="1.9" ry="2.3" fill="#4c3c86" transform="rotate(17 152.0 450.9)"/>
<ellipse cx="155.4" cy="452.6" rx="2.1" ry="2.1" fill="#2e2058" transform="rotate(104 155.2 452.5)"/>
<ellipse cx="162.4" cy="450.8" rx="2.3" ry="2.5" fill="#2e2058" transform="rotate(45 162.3 450.4)"/>
<ellipse cx="166.2" cy="451.5" rx="2.2" ry="2.4" fill="#4c3c86" transform="rotate(105 166.7 451.1)"/>
<ellipse cx="172.2" cy="451.0" rx="2.5" ry="2.1" fill="#4c3c86" transform="rotate(43 172.4 451.1)"/>
<ellipse cx="174.9" cy="451.2" rx="2.1" ry="2.2" fill="#261a4e" transform="rotate(17 175.1 451.6)"/>
<ellipse cx="119.5" cy="455.0" rx="1.9" ry="2.2" fill="#3e2e72" transform="rotate(176 119.9 455.0)"/>
<ellipse cx="124.8" cy="456.7" rx="1.8" ry="1.5" fill="#362866" transform="rotate(85 124.7 457.0)"/>
<ellipse cx="129.2" cy="456.5" rx="1.9" ry="2.0" fill="#261a4e" transform="rotate(119 129.0 456.1)"/>
<ellipse cx="132.8" cy="456.6" rx="2.2" ry="2.3" fill="#261a4e" transform="rotate(142 133.2 456.5)"/>
<ellipse cx="139.5" cy="454.0" rx="1.3" ry="1.2" fill="#4c3c86" transform="rotate(123 139.3 454.1)"/>
<ellipse cx="142.0" cy="454.4" rx="1.9" ry="2.3" fill="#4c3c86" transform="rotate(62 142.1 454.6)"/>
<ellipse cx="149.4" cy="455.6" rx="2.4" ry="2.3" fill="#261a4e" transform="rotate(110 149.0 455.3)"/>
<ellipse cx="153.2" cy="456.8" rx="2.5" ry="2.6" fill="#2e2058" transform="rotate(42 152.9 457.1)"/>
<ellipse cx="158.6" cy="454.2" rx="2.5" ry="2.7" fill="#4c3c86" transform="rotate(155 158.7 453.8)"/>
<ellipse cx="163.1" cy="456.0" rx="2.6" ry="2.1" fill="#3e2e72" transform="rotate(112 163.1 456.4)"/>
<ellipse cx="168.5" cy="455.5" rx="2.0" ry="2.2" fill="#3e2e72" transform="rotate(78 168.7 455.2)"/>
<ellipse cx="173.9" cy="455.7" rx="1.7" ry="1.4" fill="#2e2058" transform="rotate(47 174.0 455.7)"/>
<ellipse cx="120.5" cy="458.8" rx="1.7" ry="1.8" fill="#4c3c86" transform="rotate(126 121.0 458.5)"/>
<ellipse cx="124.2" cy="462.4" rx="2.4" ry="2.1" fill="#4c3c86" transform="rotate(156 124.2 462.2)"/>
<ellipse cx="130.2" cy="460.4" rx="2.2" ry="2.1" fill="#261a4e" transform="rotate(43 130.4 460.6)"/>
<ellipse cx="136.0" cy="460.9" rx="2.0" ry="2.0" fill="#2e2058" transform="rotate(54 135.7 460.9)"/>
<ellipse cx="139.0" cy="458.3" rx="2.1" ry="2.5" fill="#362866" transform="rotate(20 139.2 458.2)"/>
<ellipse cx="144.5" cy="459.9" rx="1.7" ry="1.6" fill="#261a4e" transform="rotate(148 144.2 460.1)"/>
<ellipse cx="149.8" cy="461.4" rx="2.0" ry="2.1" fill="#2e2058" transform="rotate(38 149.9 461.0)"/>
<ellipse cx="157.0" cy="459.4" rx="2.5" ry="2.6" fill="#261a4e" transform="rotate(14 157.5 459.8)"/>
<ellipse cx="160.8" cy="462.2" rx="2.2" ry="2.5" fill="#362866" transform="rotate(3 161.2 462.3)"/>
<ellipse cx="167.6" cy="459.5" rx="1.7" ry="1.9" fill="#261a4e" transform="rotate(30 167.6 459.9)"/>
<ellipse cx="171.5" cy="460.5" rx="2.0" ry="2.2" fill="#2e2058" transform="rotate(175 172.0 460.4)"/>
<ellipse cx="175.0" cy="460.5" rx="2.5" ry="2.6" fill="#2e2058" transform="rotate(66 174.8 460.6)"/>
<ellipse cx="120.2" cy="465.8" rx="2.3" ry="2.6" fill="#2e2058" transform="rotate(44 120.4 465.7)"/>
<ellipse cx="122.9" cy="466.7" rx="1.7" ry="2.0" fill="#4c3c86" transform="rotate(90 122.7 466.5)"/>
<ellipse cx="127.4" cy="467.0" rx="2.2" ry="2.1" fill="#4c3c86" transform="rotate(169 127.7 466.6)"/>
<ellipse cx="134.4" cy="464.4" rx="1.6" ry="1.7" fill="#362866" transform="rotate(64 134.1 464.2)"/>
<ellipse cx="138.7" cy="464.2" rx="1.8" ry="2.1" fill="#261a4e" transform="rotate(11 139.1 463.8)"/>
<ellipse cx="145.8" cy="463.7" rx="1.6" ry="1.5" fill="#261a4e" transform="rotate(25 145.4 463.7)"/>
<ellipse cx="150.2" cy="466.4" rx="2.7" ry="2.8" fill="#261a4e" transform="rotate(101 150.5 466.9)"/>
<ellipse cx="154.2" cy="463.8" rx="2.4" ry="1.9" fill="#3e2e72" transform="rotate(83 154.6 463.7)"/>
<ellipse cx="161.7" cy="466.3" rx="1.5" ry="1.3" fill="#261a4e" transform="rotate(33 161.3 466.7)"/>
<ellipse cx="165.7" cy="465.3" rx="1.9" ry="1.7" fill="#3e2e72" transform="rotate(108 165.4 464.9)"/>
<ellipse cx="169.4" cy="464.6" rx="2.2" ry="2.0" fill="#4c3c86" transform="rotate(100 169.3 464.8)"/>
<ellipse cx="173.3" cy="465.0" rx="2.4" ry="2.7" fill="#4c3c86" transform="rotate(134 173.3 465.3)"/>
<ellipse cx="121.1" cy="469.7" rx="2.3" ry="2.7" fill="#4c3c86" transform="rotate(74 120.9 469.7)"/>
<ellipse cx="125.2" cy="471.0" rx="2.3" ry="1.8" fill="#2e2058" transform="rotate(88 125.3 471.0)"/>
<ellipse cx="131.2" cy="467.5" rx="1.6" ry="1.7" fill="#261a4e" transform="rotate(80 131.6 467.2)"/>
<ellipse cx="135.4" cy="469.0" rx="2.1" ry="2.3" fill="#362866" transform="rotate(128 135.5 469.2)"/>
<ellipse cx="143.2" cy="470.6" rx="1.5" ry="1.3" fill="#261a4e" transform="rotate(83 143.6 470.2)"/>
<ellipse cx="146.0" cy="467.8" rx="2.2" ry="2.6" fill="#3e2e72" transform="rotate(97 145.5 467.8)"/>
<ellipse cx="152.8" cy="471.4" rx="2.5" ry="2.0" fill="#261a4e" transform="rotate(134 152.4 471.1)"/>
<ellipse cx="158.3" cy="469.0" rx="2.2" ry="2.3" fill="#362866" transform="rotate(92 158.0 468.8)"/>
<ellipse cx="163.4" cy="470.3" rx="2.5" ry="3.0" fill="#362866" transform="rotate(136 163.5 470.3)"/>
<ellipse cx="167.0" cy="470.8" rx="1.6" ry="1.6" fill="#261a4e" transform="rotate(28 167.3 470.7)"/>
<ellipse cx="171.4" cy="469.6" rx="1.6" ry="1.8" fill="#3e2e72" transform="rotate(139 171.0 469.5)"/>
<ellipse cx="174.3" cy="468.2" rx="2.4" ry="2.4" fill="#261a4e" transform="rotate(164 174.6 468.6)"/>
<ellipse cx="120.7" cy="473.9" rx="1.6" ry="1.8" fill="#261a4e" transform="rotate(130 120.4 474.2)"/>
<ellipse cx="122.6" cy="474.2" rx="2.2" ry="2.1" fill="#261a4e" transform="rotate(72 122.5 473.8)"/>
<ellipse cx="130.2" cy="473.5" rx="1.8" ry="2.1" fill="#2e2058" transform="rotate(108 130.2 473.1)"/>
<ellipse cx="135.1" cy="476.3" rx="1.6" ry="1.8" fill="#362866" transform="rotate(18 135.0 475.8)"/>
<ellipse cx="137.0" cy="472.6" rx="2.2" ry="2.2" fill="#362866" transform="rotate(97 137.1 473.1)"/>
<ellipse cx="140.6" cy="471.9" rx="2.2" ry="2.1" fill="#3e2e72" transform="rotate(148 141.1 471.8)"/>
<ellipse cx="146.1" cy="475.7" rx="2.3" ry="1.7" fill="#261a4e" transform="rotate(76 146.2 475.2)"/>
<ellipse cx="155.1" cy="475.6" rx="2.2" ry="2.2" fill="#261a4e" transform="rotate(80 155.0 475.2)"/>
<ellipse cx="159.6" cy="474.9" rx="2.6" ry="2.3" fill="#4c3c86" transform="rotate(105 159.4 474.4)"/>
<ellipse cx="165.3" cy="474.9" rx="2.2" ry="2.0" fill="#4c3c86" transform="rotate(77 165.4 474.8)"/>
<ellipse cx="170.0" cy="474.0" rx="1.5" ry="1.7" fill="#3e2e72" transform="rotate(41 169.9 474.0)"/>
<ellipse cx="174.0" cy="473.3" rx="1.9" ry="1.9" fill="#261a4e" transform="rotate(94 173.5 473.0)"/>
<ellipse cx="120.4" cy="477.0" rx="2.1" ry="2.2" fill="#362866" transform="rotate(23 119.9 476.6)"/>
<ellipse cx="121.2" cy="478.5" rx="2.3" ry="2.5" fill="#261a4e" transform="rotate(95 121.3 478.5)"/>
<ellipse cx="126.6" cy="476.3" rx="2.3" ry="2.6" fill="#3e2e72" transform="rotate(123 126.3 476.4)"/>
<ellipse cx="131.2" cy="477.5" rx="1.7" ry="1.9" fill="#3e2e72" transform="rotate(94 131.6 477.0)"/>
<ellipse cx="134.4" cy="481.0" rx="2.5" ry="2.4" fill="#4c3c86" transform="rotate(131 134.1 480.6)"/>
<ellipse cx="139.9" cy="477.1" rx="2.0" ry="2.1" fill="#3e2e72" transform="rotate(124 139.7 477.2)"/>
<ellipse cx="148.3" cy="479.3" rx="1.7" ry="1.6" fill="#3e2e72" transform="rotate(16 147.9 479.4)"/>
<ellipse cx="150.6" cy="475.9" rx="1.6" ry="1.3" fill="#2e2058" transform="rotate(122 150.8 476.4)"/>
<ellipse cx="155.2" cy="479.7" rx="2.3" ry="2.6" fill="#261a4e" transform="rotate(22 155.3 479.4)"/>
<ellipse cx="160.5" cy="479.5" rx="2.0" ry="1.8" fill="#261a4e" transform="rotate(166 160.5 479.4)"/>
<ellipse cx="167.1" cy="479.2" rx="2.5" ry="2.8" fill="#261a4e" transform="rotate(30 166.8 479.0)"/>
<ellipse cx="172.6" cy="478.3" rx="2.7" ry="2.8" fill="#362866" transform="rotate(12 173.0 478.0)"/>
<ellipse cx="175.4" cy="479.4" rx="2.2" ry="2.1" fill="#261a4e" transform="rotate(174 175.0 479.8)"/>
<ellipse cx="120.5" cy="482.6" rx="1.8" ry="1.5" fill="#3e2e72" transform="rotate(98 120.9 482.3)"/>
<ellipse cx="123.5" cy="482.7" rx="2.3" ry="2.5" fill="#2e2058" transform="rotate(137 123.8 482.9)"/>
<ellipse cx="128.0" cy="481.8" rx="2.0" ry="2.3" fill="#3e2e72" transform="rotate(159 127.8 481.5)"/>
<ellipse cx="135.7" cy="484.7" rx="1.8" ry="2.0" fill="#3e2e72" transform="rotate(88 136.1 484.5)"/>
<ellipse cx="140.4" cy="480.9" rx="2.6" ry="2.3" fill="#362866" transform="rotate(25 140.8 480.8)"/>
<ellipse cx="142.3" cy="483.1" rx="1.7" ry="1.4" fill="#362866" transform="rotate(65 142.6 483.3)"/>
<ellipse cx="151.0" cy="482.8" rx="1.7" ry="1.3" fill="#4c3c86" transform="rotate(155 150.9 482.3)"/>
<ellipse cx="154.4" cy="483.8" rx="1.7" ry="1.5" fill="#3e2e72" transform="rotate(125 154.6 483.8)"/>
<ellipse cx="159.0" cy="483.0" rx="1.4" ry="1.2" fill="#362866" transform="rotate(46 158.9 483.2)"/>
<ellipse cx="163.7" cy="482.4" rx="2.4" ry="1.9" fill="#4c3c86" transform="rotate(83 163.5 482.3)"/>
<ellipse cx="169.4" cy="483.1" rx="2.2" ry="2.5" fill="#2e2058" transform="rotate(80 169.2 482.7)"/>
<ellipse cx="174.0" cy="482.4" rx="2.3" ry="1.9" fill="#3e2e72" transform="rotate(65 174.2 482.8)"/>
<ellipse cx="121.3" cy="486.7" rx="1.8" ry="1.5" fill="#4c3c86" transform="rotate(29 121.0 487.2)"/>
<ellipse cx="125.3" cy="488.1" rx="1.9" ry="1.7" fill="#2e2058" transform="rotate(83 125.3 487.9)"/>
<ellipse cx="131.5" cy="487.0" rx="1.7" ry="1.4" fill="#261a4e" transform="rotate(57 131.2 486.6)"/>
<ellipse cx="135.6" cy="488.2" rx="1.4" ry="1.3" fill="#362866" transform="rotate(31 135.8 487.9)"/>
<ellipse cx="140.9" cy="487.8" rx="1.7" ry="1.4" fill="#2e2058" transform="rotate(146 141.3 487.4)"/>
<ellipse cx="145.4" cy="485.3" rx="1.6" ry="1.4" fill="#261a4e" transform="rotate(63 145.8 484.8)"/>
<ellipse cx="150.5" cy="486.5" rx="1.9" ry="2.3" fill="#261a4e" transform="rotate(95 150.7 486.9)"/>
<ellipse cx="155.9" cy="486.6" rx="2.3" ry="1.7" fill="#2e2058" transform="rotate(82 156.3 486.8)"/>
<ellipse cx="160.0" cy="488.5" rx="2.6" ry="2.7" fill="#261a4e" transform="rotate(32 160.2 488.2)"/>
<ellipse cx="166.1" cy="487.6" rx="2.2" ry="2.2" fill="#362866" transform="rotate(135 166.2 487.4)"/>
<ellipse cx="172.2" cy="488.2" rx="2.1" ry="2.5" fill="#3e2e72" transform="rotate(161 172.2 488.3)"/>
<ellipse cx="173.9" cy="486.5" rx="1.9" ry="1.6" fill="#2e2058" transform="rotate(55 174.4 486.5)"/>
<ellipse cx="120.9" cy="492.6" rx="2.6" ry="2.2" fill="#362866" transform="rotate(135 120.8 492.9)"/>
<ellipse cx="123.2" cy="491.4" rx="1.6" ry="1.4" fill="#2e2058" transform="rotate(167 123.3 491.8)"/>
<ellipse cx="127.6" cy="492.2" rx="2.5" ry="2.7" fill="#362866" transform="rotate(175 127.6 491.9)"/>
<ellipse cx="134.7" cy="491.3" rx="2.1" ry="1.7" fill="#4c3c86" transform="rotate(148 134.9 491.1)"/>
<ellipse cx="140.3" cy="491.4" rx="1.7" ry="1.9" fill="#2e2058" transform="rotate(93 140.3 491.1)"/>
<ellipse cx="145.8" cy="490.2" rx="2.6" ry="2.9" fill="#2e2058" transform="rotate(103 146.1 489.9)"/>
<ellipse cx="148.4" cy="492.2" rx="1.4" ry="1.4" fill="#4c3c86" transform="rotate(163 148.8 492.4)"/>
<ellipse cx="155.4" cy="491.6" rx="2.3" ry="2.5" fill="#261a4e" transform="rotate(33 155.4 492.1)"/>
<ellipse cx="161.2" cy="492.2" rx="2.1" ry="1.6" fill="#4c3c86" transform="rotate(110 160.8 492.6)"/>
<ellipse cx="164.9" cy="491.1" rx="2.0" ry="1.8" fill="#3e2e72" transform="rotate(118 165.1 491.3)"/>
<ellipse cx="169.6" cy="490.6" rx="1.4" ry="1.5" fill="#3e2e72" transform="rotate(10 169.3 490.4)"/>
<ellipse cx="174.2" cy="492.6" rx="2.3" ry="2.1" fill="#4c3c86" transform="rotate(69 174.6 492.6)"/>
<ellipse cx="122.8" cy="494.5" rx="2.5" ry="2.7" fill="#4c3c86" transform="rotate(178 122.4 494.4)"/>
<ellipse cx="127.0" cy="494.4" rx="1.9" ry="1.7" fill="#4c3c86" transform="rotate(40 127.3 494.4)"/>
<ellipse cx="130.9" cy="493.2" rx="1.8" ry="2.0" fill="#261a4e" transform="rotate(88 130.5 493.4)"/>
<ellipse cx="135.1" cy="493.5" rx="1.9" ry="1.8" fill="#261a4e" transform="rotate(87 135.0 493.6)"/>
<ellipse cx="141.7" cy="493.9" rx="2.1" ry="1.6" fill="#2e2058" transform="rotate(172 141.6 493.9)"/>
<ellipse cx="145.2" cy="493.6" rx="1.8" ry="1.7" fill="#4c3c86" transform="rotate(87 145.5 493.5)"/>
<ellipse cx="152.0" cy="492.2" rx="2.4" ry="2.8" fill="#261a4e" transform="rotate(98 151.5 492.7)"/>
<ellipse cx="153.7" cy="494.1" rx="2.3" ry="2.0" fill="#2e2058" transform="rotate(84 153.8 494.3)"/>
<ellipse cx="164.6" cy="493.9" rx="2.3" ry="2.4" fill="#3e2e72" transform="rotate(169 164.3 494.0)"/>
<ellipse cx="171.0" cy="493.3" rx="2.4" ry="1.9" fill="#2e2058" transform="rotate(124 171.0 493.4)"/>
</g></g>
</g>
<g clip-path="url(#t01)">
<rect x="175.00" y="444.50" width="112.70" height="84.30" fill="#c2a4b4"/>
<g>
<rect x="175.00" y="444.50" width="112.70" height="84.30" fill="#000" filter="url(#mliv0)"/>
</g>
<g>
<rect x="175.00" y="444.50" width="112.70" height="84.30" fill="#000" filter="url(#fliv0)"/>
</g>
<g>
<rect x="175.00" y="444.50" width="112.70" height="84.30" fill="#000" filter="url(#fliv0b)"/>
</g>
<g filter="url(#b5)">
<path d="M174,463.5 L197,529.5 L174,529.5 Z" fill="#e4eab8"/>
<path d="M175.6,464.5 L198.2,529.5" stroke="#a888b4" stroke-width="2.2" fill="none"/>
</g>
<ellipse cx="201" cy="474" rx="3" ry="5" fill="#a07cab" opacity="0.6" filter="url(#b10)"/>
<g clip-path="url(#i01)">
<rect x="233.10" y="444.50" width="54.60" height="49.60" fill="#74648c"/>
<rect x="233.10" y="444.5" width="54.6" height="49.6" filter="url(#fin01a)"/>
<rect x="233.10" y="444.5" width="54.6" height="49.6" filter="url(#fin01b)"/>
<g opacity="0.75" filter="url(#b10)" fill="none" stroke="#aab4a8" stroke-linecap="round"><path d="M249.1,442.5 C252.1,454.5 257.1,464.5 260.1,476.5" stroke-width="4"/><path d="M266.1,442.5 C264.1,452.5 268.1,460.5 271.1,468.5 L267.1,474.5" stroke-width="3.5"/><path d="M235.1,462.5 C241.1,466.5 247.1,472.5 255.1,474.5" stroke-width="3"/><path d="M277.1,454.5 C281.1,456.5 285.1,460.5 289.1,458.5" stroke-width="4"/><path d="M263.1,466.5 L273.1,458.5" stroke-width="2.5"/></g>
<g filter="url(#b4)">
<circle cx="240.6" cy="449.5" r="4.2" fill="#a69cbc"/>
<ellipse cx="240.6" cy="449.5" rx="3.0" ry="2.5" fill="#2e2060"/>
<circle cx="284.1" cy="447.5" r="4.2" fill="#a69cbc"/>
<ellipse cx="284.1" cy="447.5" rx="3.0" ry="2.5" fill="#2e2060"/>
<circle cx="268.1" cy="480.5" r="3.9000000000000004" fill="#a69cbc"/>
<ellipse cx="268.1" cy="480.5" rx="2.7" ry="2.3" fill="#2e2060"/>
<circle cx="258.1" cy="485.5" r="3.4000000000000004" fill="#a69cbc"/>
<ellipse cx="258.1" cy="485.5" rx="2.2" ry="1.9" fill="#2e2060"/>
<circle cx="239.1" cy="488.5" r="2.7" fill="#a69cbc"/>
<ellipse cx="239.1" cy="488.5" rx="1.5" ry="1.3" fill="#2e2060"/>
</g></g>
</g>
<g clip-path="url(#t02)">
<rect x="287.70" y="444.50" width="113.10" height="84.30" fill="#e6e6bc"/>
<g>
<rect x="287.70" y="444.50" width="113.10" height="84.30" fill="#000" filter="url(#flung0)"/>
</g>
<g>
<rect x="287.70" y="444.50" width="113.10" height="84.30" fill="#000" filter="url(#flung0b)"/>
</g>
<g filter="url(#b6)" fill="none" stroke-linecap="round">
<ellipse cx="323" cy="483.5" rx="5" ry="3.6" fill="#eaeab0" stroke="none"/>
<ellipse cx="336.5" cy="493" rx="3.2" ry="7.5" fill="#eaeab0" stroke="none"/>
<path d="M315,483 C314,478 319,475 323,476 C327,476.5 330,478 331,482 C332,487 328,490.5 323,490.5 C318,490.5 315.5,487 315,483 Z" stroke="#a87aa8" stroke-width="2.8"/>
<path d="M331,484 C331,478 336,476 339.5,479 C343,483 343,492 342,498 C341,503 338,506.5 335,505.5 C331.5,504 330,498 330.5,492 C330.7,489 331,486 331,484 Z" stroke="#a87aa8" stroke-width="2.8"/>
<ellipse cx="292.5" cy="478" rx="4" ry="8" fill="#e4e8b0" stroke="none"/>
</g>
<g clip-path="url(#i02)">
<rect x="346.20" y="444.50" width="54.60" height="49.60" fill="#c4d8bc"/>
<g fill="none" stroke="#9c88b0" stroke-width="4.5" stroke-linecap="round" stroke-linejoin="round" filter="url(#b8)"><path d="M347.2,449.5 C354.2,450.5 360.2,457.5 368.2,462.5 C376.2,466.5 380.2,472.5 384.2,480.5 C388.2,486.5 394.2,489.5 401.2,489.5"/><path d="M374.2,464.5 C380.2,459.5 386.2,458.5 392.2,460.5 C396.2,464.5 398.2,470.5 400.2,474.5"/><path d="M351.2,458.5 C353.2,468.5 354.2,478.5 358.2,494.5"/></g>
<g filter="url(#b5)">
<ellipse cx="356.2" cy="454.5" rx="1.9" ry="1.6" fill="#3a2868"/>
<ellipse cx="354.2" cy="464.5" rx="1.9" ry="1.6" fill="#3a2868"/>
<ellipse cx="371.2" cy="464.5" rx="1.9" ry="1.6" fill="#3a2868"/>
<ellipse cx="381.2" cy="474.5" rx="1.9" ry="1.6" fill="#3a2868"/>
<ellipse cx="385.2" cy="480.5" rx="1.9" ry="1.6" fill="#3a2868"/>
<ellipse cx="395.2" cy="471.5" rx="1.9" ry="1.6" fill="#3a2868"/>
<ellipse cx="392.2" cy="484.5" rx="1.9" ry="1.6" fill="#3a2868"/>
<ellipse cx="350.2" cy="474.5" rx="1.9" ry="1.6" fill="#3a2868"/>
<ellipse cx="364.2" cy="463.5" rx="1.9" ry="1.6" fill="#3a2868"/>
<rect x="346.2" y="444.5" width="54.6" height="49.6" fill="none"/>
</g>
</g>
</g>
<g clip-path="url(#t10)">
<rect x="61.20" y="528.80" width="113.80" height="86.20" fill="#7a6cb0"/>
<g>
<rect x="61.20" y="528.80" width="113.80" height="86.20" fill="#000" filter="url(#msp_p)"/>
</g>
<g>
<rect x="61.20" y="528.80" width="113.80" height="86.20" fill="#000" filter="url(#msp_b)"/>
</g>
<g>
<rect x="61.20" y="528.80" width="113.80" height="86.20" fill="#000" filter="url(#fsp_l)"/>
</g>
<g>
<rect x="61.20" y="528.80" width="113.80" height="86.20" fill="#000" filter="url(#fsp_d)"/>
</g>
<g filter="url(#b4)">
<path d="M60,570 C66,581 74,594 81,603.5 C85,608.5 88.5,612.5 92,616 L60,616 Z" fill="#d0d0cc"/>
</g>
<g clip-path="url(#i10)"><g filter="url(#b5)">
<rect x="119.40" y="527.80" width="56.60" height="51.60" fill="#c4c0e4"/>
<path d="M132.5,530.3 L136.7,530.1 L137.5,528.9 L137.1,528.3 L131.4,528.3Z" fill="#7470b6" stroke="#c4c0e4" stroke-width="1.2"/>
<path d="M139.5,528.3 L137.1,528.3 L137.5,528.9Z" fill="#7470b6" stroke="#c4c0e4" stroke-width="1.2"/>
<path d="M146.7,528.3 L142.0,528.3 L144.2,530.8Z" fill="#6a66ae" stroke="#c4c0e4" stroke-width="1.2"/>
<path d="M149.7,528.6 L154.8,530.7 L155.0,530.4 L153.9,528.3 L149.6,528.3Z" fill="#7470b6" stroke="#c4c0e4" stroke-width="1.2"/>
<path d="M155.0,530.4 L158.1,528.3 L153.9,528.3Z" fill="#6a66ae" stroke="#c4c0e4" stroke-width="1.2"/>
<path d="M160.1,528.8 L161.9,528.3 L158.7,528.3Z" fill="#6a66ae" stroke="#c4c0e4" stroke-width="1.2"/>
<path d="M165.7,528.8 L166.6,528.3 L164.7,528.3Z" fill="#7470b6" stroke="#c4c0e4" stroke-width="1.2"/>
<path d="M175.5,529.9 L175.5,528.3 L172.5,528.3Z" fill="#6a66ae" stroke="#c4c0e4" stroke-width="1.2"/>
<path d="M121.3,533.3 L121.4,528.3 L119.9,528.3 L119.9,532.9Z" fill="#7470b6" stroke="#c4c0e4" stroke-width="1.2"/>
<path d="M126.4,528.3 L121.4,528.3 L121.3,533.3 L123.1,534.9 L124.2,534.8 L126.1,533.4Z" fill="#6a66ae" stroke="#c4c0e4" stroke-width="1.2"/>
<path d="M126.1,533.4 L130.6,534.2 L132.5,530.3 L131.4,528.3 L126.4,528.3Z" fill="#7470b6" stroke="#c4c0e4" stroke-width="1.2"/>
<path d="M132.5,530.3 L130.6,534.2 L130.8,534.5 L134.8,536.3 L137.4,534.3 L136.7,530.1Z" fill="#7e7abc" stroke="#c4c0e4" stroke-width="1.2"/>
<path d="M137.4,534.3 L139.4,534.8 L144.2,530.8 L144.2,530.8 L142.0,528.3 L139.5,528.3 L137.5,528.9 L136.7,530.1Z" fill="#7e7abc" stroke="#c4c0e4" stroke-width="1.2"/>
<path d="M144.2,530.8 L145.8,532.5 L148.6,532.1 L149.7,528.6 L149.6,528.3 L146.7,528.3 L144.2,530.8Z" fill="#6a66ae" stroke="#c4c0e4" stroke-width="1.2"/>
<path d="M149.7,528.6 L148.6,532.1 L154.1,533.4 L154.3,533.3 L154.8,530.7Z" fill="#7470b6" stroke="#c4c0e4" stroke-width="1.2"/>
<path d="M155.0,530.4 L154.8,530.7 L154.3,533.3 L156.0,534.5 L161.4,532.3 L160.1,528.8 L158.7,528.3 L158.1,528.3Z" fill="#7e7abc" stroke="#c4c0e4" stroke-width="1.2"/>
<path d="M160.1,528.8 L161.4,532.3 L162.7,533.2 L165.3,531.9 L165.7,528.8 L164.7,528.3 L161.9,528.3Z" fill="#6a66ae" stroke="#c4c0e4" stroke-width="1.2"/>
<path d="M169.3,535.7 L170.2,534.5 L171.5,528.3 L166.6,528.3 L165.7,528.8 L165.3,531.9Z" fill="#7470b6" stroke="#c4c0e4" stroke-width="1.2"/>
<path d="M170.2,534.5 L175.2,533.7 L175.5,533.2 L175.5,529.9 L172.5,528.3 L171.5,528.3Z" fill="#7470b6" stroke="#c4c0e4" stroke-width="1.2"/>
<path d="M123.1,534.9 L121.3,533.3 L119.9,532.9 L119.9,539.3Z" fill="#7470b6" stroke="#c4c0e4" stroke-width="1.2"/>
<path d="M124.2,534.8 L126.4,539.0 L129.5,540.2 L130.8,534.5 L130.6,534.2 L126.1,533.4Z" fill="#7e7abc" stroke="#c4c0e4" stroke-width="1.2"/>
<path d="M130.6,541.9 L135.1,540.1 L134.8,536.3 L130.8,534.5 L129.5,540.2Z" fill="#6a66ae" stroke="#c4c0e4" stroke-width="1.2"/>
<path d="M139.4,534.8 L137.4,534.3 L134.8,536.3 L135.1,540.1 L135.3,540.2 L142.3,539.1Z" fill="#7470b6" stroke="#c4c0e4" stroke-width="1.2"/>
<path d="M143.3,539.6 L146.0,537.3 L145.8,532.5 L144.2,530.8 L139.4,534.8 L142.3,539.1Z" fill="#6a66ae" stroke="#c4c0e4" stroke-width="1.2"/>
<path d="M150.7,538.3 L154.1,533.4 L148.6,532.1 L145.8,532.5 L146.0,537.3Z" fill="#7470b6" stroke="#c4c0e4" stroke-width="1.2"/>
<path d="M154.3,533.3 L154.1,533.4 L150.7,538.3 L151.2,539.8 L155.6,539.9 L158.3,537.4 L156.0,534.5Z" fill="#7e7abc" stroke="#c4c0e4" stroke-width="1.2"/>
<path d="M158.3,537.4 L159.4,537.9 L162.0,537.4 L162.7,533.2 L161.4,532.3 L156.0,534.5Z" fill="#6a66ae" stroke="#c4c0e4" stroke-width="1.2"/>
<path d="M162.0,537.4 L166.1,539.3 L169.0,537.9 L169.3,535.7 L165.3,531.9 L162.7,533.2Z" fill="#7470b6" stroke="#c4c0e4" stroke-width="1.2"/>
<path d="M175.2,533.7 L170.2,534.5 L169.3,535.7 L169.0,537.9 L172.4,540.3 L175.5,538.6 L175.5,534.6Z" fill="#7e7abc" stroke="#c4c0e4" stroke-width="1.2"/>
<path d="M175.2,533.7 L175.5,534.6 L175.5,533.2Z" fill="#6a66ae" stroke="#c4c0e4" stroke-width="1.2"/>
<path d="M123.1,534.9 L119.9,539.3 L119.9,542.5 L124.7,542.0 L126.4,539.0 L124.2,534.8Z" fill="#7e7abc" stroke="#c4c0e4" stroke-width="1.2"/>
<path d="M124.7,542.0 L129.2,545.7 L129.3,545.6 L130.6,541.9 L129.5,540.2 L126.4,539.0Z" fill="#7470b6" stroke="#c4c0e4" stroke-width="1.2"/>
<path d="M130.6,541.9 L129.3,545.6 L136.9,545.0 L137.1,544.4 L135.3,540.2 L135.1,540.1Z" fill="#7e7abc" stroke="#c4c0e4" stroke-width="1.2"/>
<path d="M135.3,540.2 L137.1,544.4 L143.5,542.8 L143.3,539.6 L142.3,539.1Z" fill="#6a66ae" stroke="#c4c0e4" stroke-width="1.2"/>
<path d="M143.5,542.8 L143.6,542.9 L148.3,544.7 L151.1,543.5 L151.2,539.8 L150.7,538.3 L146.0,537.3 L143.3,539.6Z" fill="#7470b6" stroke="#c4c0e4" stroke-width="1.2"/>
<path d="M155.6,539.9 L151.2,539.8 L151.1,543.5 L151.3,543.6 L155.9,542.7Z" fill="#6a66ae" stroke="#c4c0e4" stroke-width="1.2"/>
<path d="M155.6,539.9 L155.9,542.7 L159.1,544.3 L159.3,544.2 L159.4,537.9 L158.3,537.4Z" fill="#7470b6" stroke="#c4c0e4" stroke-width="1.2"/>
<path d="M159.3,544.2 L164.0,545.6 L166.1,539.3 L162.0,537.4 L159.4,537.9Z" fill="#6a66ae" stroke="#c4c0e4" stroke-width="1.2"/>
<path d="M169.0,537.9 L166.1,539.3 L164.0,545.6 L164.2,545.9 L169.5,545.8 L172.9,542.9 L172.4,540.3Z" fill="#7470b6" stroke="#c4c0e4" stroke-width="1.2"/>
<path d="M172.4,540.3 L172.9,542.9 L175.5,545.3 L175.5,538.6Z" fill="#7470b6" stroke="#c4c0e4" stroke-width="1.2"/>
<path d="M120.9,552.4 L121.6,552.2 L122.6,547.4 L119.9,543.5 L119.9,551.9Z" fill="#7470b6" stroke="#c4c0e4" stroke-width="1.2"/>
<path d="M122.6,547.4 L129.1,546.3 L129.2,545.7 L124.7,542.0 L119.9,542.5 L119.9,543.5Z" fill="#7470b6" stroke="#c4c0e4" stroke-width="1.2"/>
<path d="M131.9,549.9 L137.1,546.6 L136.9,545.0 L129.3,545.6 L129.2,545.7 L129.1,546.3 L130.0,549.2Z" fill="#7470b6" stroke="#c4c0e4" stroke-width="1.2"/>
<path d="M143.5,542.8 L137.1,544.4 L136.9,545.0 L137.1,546.6 L139.1,549.3 L142.7,547.0 L143.6,542.9Z" fill="#7470b6" stroke="#c4c0e4" stroke-width="1.2"/>
<path d="M148.0,548.3 L148.3,544.7 L143.6,542.9 L142.7,547.0 L145.8,550.5 L147.3,549.6Z" fill="#7470b6" stroke="#c4c0e4" stroke-width="1.2"/>
<path d="M148.3,544.7 L148.0,548.3 L154.8,549.7 L155.0,549.1 L151.3,543.6 L151.1,543.5Z" fill="#6a66ae" stroke="#c4c0e4" stroke-width="1.2"/>
<path d="M151.3,543.6 L155.0,549.1 L155.3,549.0 L159.1,544.3 L155.9,542.7Z" fill="#6a66ae" stroke="#c4c0e4" stroke-width="1.2"/>
<path d="M159.3,544.2 L159.1,544.3 L155.3,549.0 L162.4,550.8 L164.0,549.2 L164.2,547.3 L164.2,545.9 L164.0,545.6Z" fill="#6a66ae" stroke="#c4c0e4" stroke-width="1.2"/>
<path d="M164.2,547.3 L171.0,549.6 L169.5,545.8 L164.2,545.9Z" fill="#7e7abc" stroke="#c4c0e4" stroke-width="1.2"/>
<path d="M172.9,542.9 L169.5,545.8 L171.0,549.6 L172.4,552.0 L173.3,551.8 L175.5,545.9 L175.5,545.3Z" fill="#7e7abc" stroke="#c4c0e4" stroke-width="1.2"/>
<path d="M120.9,552.4 L119.9,551.9 L119.9,554.1Z" fill="#7470b6" stroke="#c4c0e4" stroke-width="1.2"/>
<path d="M128.3,551.6 L130.0,549.2 L129.1,546.3 L122.6,547.4 L121.6,552.2 L124.3,553.4Z" fill="#7470b6" stroke="#c4c0e4" stroke-width="1.2"/>
<path d="M130.3,555.9 L134.7,552.8 L131.9,549.9 L130.0,549.2 L128.3,551.6Z" fill="#7470b6" stroke="#c4c0e4" stroke-width="1.2"/>
<path d="M138.9,553.0 L139.1,549.3 L137.1,546.6 L131.9,549.9 L134.7,552.8 L137.1,553.9Z" fill="#7470b6" stroke="#c4c0e4" stroke-width="1.2"/>
<path d="M145.8,550.5 L142.7,547.0 L139.1,549.3 L138.9,553.0 L140.4,553.6 L143.9,553.1 L145.4,551.6Z" fill="#7e7abc" stroke="#c4c0e4" stroke-width="1.2"/>
<path d="M147.3,549.6 L145.8,550.5 L145.4,551.6 L151.4,555.7 L152.8,553.4Z" fill="#7470b6" stroke="#c4c0e4" stroke-width="1.2"/>
<path d="M154.2,552.2 L154.8,549.7 L148.0,548.3 L147.3,549.6 L152.8,553.4Z" fill="#7e7abc" stroke="#c4c0e4" stroke-width="1.2"/>
<path d="M161.6,553.8 L162.4,550.8 L155.3,549.0 L155.0,549.1 L154.8,549.7 L154.2,552.2 L159.3,555.5Z" fill="#7e7abc" stroke="#c4c0e4" stroke-width="1.2"/>
<path d="M162.4,550.8 L161.6,553.8 L163.1,554.8 L169.6,554.6 L169.9,553.8 L164.0,549.2Z" fill="#6a66ae" stroke="#c4c0e4" stroke-width="1.2"/>
<path d="M171.0,549.6 L164.2,547.3 L164.0,549.2 L169.9,553.8 L172.4,552.0Z" fill="#7e7abc" stroke="#c4c0e4" stroke-width="1.2"/>
<path d="M173.3,551.8 L175.5,552.9 L175.5,545.9Z" fill="#6a66ae" stroke="#c4c0e4" stroke-width="1.2"/>
<path d="M121.0,559.1 L126.0,559.2 L124.3,553.4 L121.6,552.2 L120.9,552.4 L119.9,554.1 L119.9,558.3Z" fill="#7e7abc" stroke="#c4c0e4" stroke-width="1.2"/>
<path d="M126.5,559.7 L130.2,557.0 L130.3,555.9 L128.3,551.6 L124.3,553.4 L126.0,559.2 L126.4,559.7Z" fill="#7e7abc" stroke="#c4c0e4" stroke-width="1.2"/>
<path d="M130.2,557.0 L134.9,558.9 L135.6,558.8 L137.1,553.9 L134.7,552.8 L130.3,555.9Z" fill="#6a66ae" stroke="#c4c0e4" stroke-width="1.2"/>
<path d="M140.4,553.6 L138.9,553.0 L137.1,553.9 L135.6,558.8 L137.8,562.2 L142.1,559.0Z" fill="#7e7abc" stroke="#c4c0e4" stroke-width="1.2"/>
<path d="M147.4,558.9 L143.9,553.1 L140.4,553.6 L142.1,559.0 L145.5,559.7Z" fill="#7470b6" stroke="#c4c0e4" stroke-width="1.2"/>
<path d="M151.4,555.7 L145.4,551.6 L143.9,553.1 L147.4,558.9 L148.7,559.1 L151.3,555.9Z" fill="#6a66ae" stroke="#c4c0e4" stroke-width="1.2"/>
<path d="M159.3,555.5 L154.2,552.2 L152.8,553.4 L151.4,555.7 L151.3,555.9 L156.8,559.5 L159.2,556.7Z" fill="#7470b6" stroke="#c4c0e4" stroke-width="1.2"/>
<path d="M162.9,560.1 L165.5,560.0 L163.1,554.8 L161.6,553.8 L159.3,555.5 L159.2,556.7Z" fill="#6a66ae" stroke="#c4c0e4" stroke-width="1.2"/>
<path d="M163.1,554.8 L165.5,560.0 L166.1,560.1 L169.3,558.2 L169.6,554.6Z" fill="#7470b6" stroke="#c4c0e4" stroke-width="1.2"/>
<path d="M169.9,553.8 L169.6,554.6 L169.3,558.2 L171.9,560.0 L173.3,560.0 L175.5,556.6 L175.5,552.9 L173.3,551.8 L172.4,552.0Z" fill="#7e7abc" stroke="#c4c0e4" stroke-width="1.2"/>
<path d="M173.3,560.0 L175.5,560.9 L175.5,556.6Z" fill="#7e7abc" stroke="#c4c0e4" stroke-width="1.2"/>
<path d="M121.0,559.1 L119.9,558.3 L119.9,563.3Z" fill="#6a66ae" stroke="#c4c0e4" stroke-width="1.2"/>
<path d="M123.3,565.4 L126.4,559.7 L126.0,559.2 L121.0,559.1 L119.9,563.3 L119.9,564.7Z" fill="#6a66ae" stroke="#c4c0e4" stroke-width="1.2"/>
<path d="M129.9,562.7 L134.9,558.9 L130.2,557.0 L126.5,559.7Z" fill="#7e7abc" stroke="#c4c0e4" stroke-width="1.2"/>
<path d="M137.9,562.9 L137.8,562.2 L135.6,558.8 L134.9,558.9 L129.9,562.7 L130.3,563.7 L134.6,565.6Z" fill="#6a66ae" stroke="#c4c0e4" stroke-width="1.2"/>
<path d="M139.7,564.3 L144.2,562.8 L145.5,559.7 L142.1,559.0 L137.8,562.2 L137.9,562.9Z" fill="#7e7abc" stroke="#c4c0e4" stroke-width="1.2"/>
<path d="M147.4,558.9 L145.5,559.7 L144.2,562.8 L146.1,566.2 L151.1,564.2 L151.2,564.1 L148.7,559.1Z" fill="#6a66ae" stroke="#c4c0e4" stroke-width="1.2"/>
<path d="M156.8,559.5 L151.3,555.9 L148.7,559.1 L151.2,564.1 L156.4,563.5Z" fill="#7470b6" stroke="#c4c0e4" stroke-width="1.2"/>
<path d="M158.4,564.9 L162.9,560.1 L159.2,556.7 L156.8,559.5 L156.4,563.5Z" fill="#6a66ae" stroke="#c4c0e4" stroke-width="1.2"/>
<path d="M158.4,564.9 L159.2,565.5 L165.4,565.0 L166.2,564.1 L166.1,560.1 L165.5,560.0 L162.9,560.1 L158.4,564.9Z" fill="#7470b6" stroke="#c4c0e4" stroke-width="1.2"/>
<path d="M171.5,565.4 L171.9,560.0 L169.3,558.2 L166.1,560.1 L166.2,564.1 L170.4,565.8Z" fill="#6a66ae" stroke="#c4c0e4" stroke-width="1.2"/>
<path d="M173.3,560.0 L171.9,560.0 L171.5,565.4 L175.0,566.9 L175.5,566.4 L175.5,560.9Z" fill="#7470b6" stroke="#c4c0e4" stroke-width="1.2"/>
<path d="M120.6,572.9 L124.3,567.1 L123.3,565.4 L119.9,564.7 L119.9,571.5Z" fill="#6a66ae" stroke="#c4c0e4" stroke-width="1.2"/>
<path d="M128.0,567.4 L130.3,563.7 L129.9,562.7 L126.5,559.7 L126.4,559.7 L123.3,565.4 L124.3,567.1 L126.7,568.0Z" fill="#6a66ae" stroke="#c4c0e4" stroke-width="1.2"/>
<path d="M134.5,567.1 L134.6,565.6 L130.3,563.7 L128.0,567.4 L131.4,568.8Z" fill="#6a66ae" stroke="#c4c0e4" stroke-width="1.2"/>
<path d="M134.5,567.1 L137.5,573.1 L141.1,567.0 L139.7,564.3 L137.9,562.9 L134.6,565.6Z" fill="#7e7abc" stroke="#c4c0e4" stroke-width="1.2"/>
<path d="M144.8,567.9 L146.1,566.2 L144.2,562.8 L139.7,564.3 L141.1,567.0Z" fill="#6a66ae" stroke="#c4c0e4" stroke-width="1.2"/>
<path d="M150.5,569.6 L151.4,568.1 L151.1,564.2 L146.1,566.2 L144.8,567.9 L145.4,569.8Z" fill="#6a66ae" stroke="#c4c0e4" stroke-width="1.2"/>
<path d="M151.2,564.1 L151.1,564.2 L151.4,568.1 L155.7,570.7 L158.4,564.9 L158.4,564.9 L156.4,563.5Z" fill="#6a66ae" stroke="#c4c0e4" stroke-width="1.2"/>
<path d="M165.1,570.4 L165.5,570.1 L165.4,565.0 L159.2,565.5 L162.1,570.5Z" fill="#7e7abc" stroke="#c4c0e4" stroke-width="1.2"/>
<path d="M170.4,565.8 L166.2,564.1 L165.4,565.0 L165.5,570.1 L169.1,569.7Z" fill="#7e7abc" stroke="#c4c0e4" stroke-width="1.2"/>
<path d="M175.0,567.3 L175.0,566.9 L171.5,565.4 L170.4,565.8 L169.1,569.7 L171.5,571.9Z" fill="#6a66ae" stroke="#c4c0e4" stroke-width="1.2"/>
<path d="M175.0,566.9 L175.0,567.3 L175.5,568.1 L175.5,566.4Z" fill="#6a66ae" stroke="#c4c0e4" stroke-width="1.2"/>
<path d="M120.5,573.6 L120.6,572.9 L119.9,571.5 L119.9,573.9Z" fill="#6a66ae" stroke="#c4c0e4" stroke-width="1.2"/>
<path d="M126.7,568.0 L124.3,567.1 L120.6,572.9 L120.5,573.6 L124.3,575.0 L127.5,572.1Z" fill="#6a66ae" stroke="#c4c0e4" stroke-width="1.2"/>
<path d="M131.4,573.3 L131.4,568.8 L128.0,567.4 L126.7,568.0 L127.5,572.1Z" fill="#6a66ae" stroke="#c4c0e4" stroke-width="1.2"/>
<path d="M136.7,573.7 L137.5,573.3 L137.5,573.1 L134.5,567.1 L131.4,568.8 L131.4,573.3 L131.4,573.3Z" fill="#7470b6" stroke="#c4c0e4" stroke-width="1.2"/>
<path d="M144.8,573.9 L145.4,569.8 L144.8,567.9 L141.1,567.0 L137.5,573.1 L137.5,573.3 L141.6,575.1 L144.2,574.3Z" fill="#7e7abc" stroke="#c4c0e4" stroke-width="1.2"/>
<path d="M150.6,574.6 L150.5,569.6 L145.4,569.8 L144.8,573.9Z" fill="#7e7abc" stroke="#c4c0e4" stroke-width="1.2"/>
<path d="M155.7,570.7 L151.4,568.1 L150.5,569.6 L150.6,574.6 L151.9,575.6 L156.3,573.5Z" fill="#7e7abc" stroke="#c4c0e4" stroke-width="1.2"/>
<path d="M162.1,570.5 L159.2,565.5 L158.4,564.9 L155.7,570.7 L156.3,573.5 L158.9,574.4Z" fill="#6a66ae" stroke="#c4c0e4" stroke-width="1.2"/>
<path d="M163.9,576.6 L166.5,575.3 L165.1,570.4 L162.1,570.5 L158.9,574.4 L159.0,574.6Z" fill="#7470b6" stroke="#c4c0e4" stroke-width="1.2"/>
<path d="M168.6,576.1 L171.9,573.4 L171.5,571.9 L169.1,569.7 L165.5,570.1 L165.1,570.4 L166.5,575.3Z" fill="#7e7abc" stroke="#c4c0e4" stroke-width="1.2"/>
<path d="M171.9,573.4 L175.5,574.8 L175.5,568.1 L175.0,567.3 L171.5,571.9Z" fill="#7e7abc" stroke="#c4c0e4" stroke-width="1.2"/>
<path d="M125.9,578.6 L124.3,575.0 L120.5,573.6 L119.9,573.9 L119.9,578.9 L124.9,578.9Z" fill="#6a66ae" stroke="#c4c0e4" stroke-width="1.2"/>
<path d="M131.4,573.3 L127.5,572.1 L124.3,575.0 L125.9,578.6 L126.3,578.9 L127.1,578.9 L129.6,577.9 L131.4,573.3Z" fill="#6a66ae" stroke="#c4c0e4" stroke-width="1.2"/>
<path d="M135.7,576.4 L136.7,573.7 L131.4,573.3 L129.6,577.9 L131.8,578.9 L132.4,578.9Z" fill="#7470b6" stroke="#c4c0e4" stroke-width="1.2"/>
<path d="M141.6,575.1 L137.5,573.3 L136.7,573.7 L135.7,576.4 L136.3,578.9 L141.5,578.9Z" fill="#7e7abc" stroke="#c4c0e4" stroke-width="1.2"/>
<path d="M144.2,574.3 L141.6,575.1 L141.5,578.9 L146.6,578.9Z" fill="#7470b6" stroke="#c4c0e4" stroke-width="1.2"/>
<path d="M151.9,575.6 L150.6,574.6 L144.8,573.9 L144.2,574.3 L146.6,578.9 L151.8,578.9Z" fill="#7470b6" stroke="#c4c0e4" stroke-width="1.2"/>
<path d="M158.8,577.3 L159.0,574.6 L158.9,574.4 L156.3,573.5 L151.9,575.6 L151.8,578.9 L157.5,578.9Z" fill="#6a66ae" stroke="#c4c0e4" stroke-width="1.2"/>
<path d="M163.9,576.6 L159.0,574.6 L158.8,577.3 L159.9,578.9 L163.7,578.9Z" fill="#7470b6" stroke="#c4c0e4" stroke-width="1.2"/>
<path d="M163.7,578.9 L169.3,578.9 L168.6,576.1 L166.5,575.3 L163.9,576.6Z" fill="#6a66ae" stroke="#c4c0e4" stroke-width="1.2"/>
<path d="M168.6,576.1 L169.3,578.9 L174.2,578.9 L175.5,577.6 L175.5,574.8 L171.9,573.4Z" fill="#7470b6" stroke="#c4c0e4" stroke-width="1.2"/>
<path d="M125.9,578.6 L124.9,578.9 L126.3,578.9Z" fill="#6a66ae" stroke="#c4c0e4" stroke-width="1.2"/>
<path d="M129.6,577.9 L127.1,578.9 L131.8,578.9Z" fill="#6a66ae" stroke="#c4c0e4" stroke-width="1.2"/>
<path d="M135.7,576.4 L132.4,578.9 L136.3,578.9Z" fill="#7e7abc" stroke="#c4c0e4" stroke-width="1.2"/>
<path d="M158.8,577.3 L157.5,578.9 L159.9,578.9Z" fill="#7e7abc" stroke="#c4c0e4" stroke-width="1.2"/>
<path d="M174.2,578.9 L175.5,578.9 L175.5,577.6Z" fill="#6a66ae" stroke="#c4c0e4" stroke-width="1.2"/>
<ellipse cx="134.9" cy="529.5" rx="1.8" ry="1.5" fill="#4e4694" transform="rotate(61 134.5 529.2)"/>
<ellipse cx="137.7" cy="528.8" rx="1.8" ry="1.9" fill="#40408a" transform="rotate(140 138.0 528.5)"/>
<ellipse cx="143.8" cy="528.9" rx="2.1" ry="2.3" fill="#38347e" transform="rotate(52 144.3 529.1)"/>
<ellipse cx="152.4" cy="528.7" rx="1.6" ry="1.9" fill="#40408a" transform="rotate(73 152.7 529.1)"/>
<ellipse cx="155.9" cy="529.2" rx="2.1" ry="2.4" fill="#4a4692" transform="rotate(20 155.7 529.0)"/>
<ellipse cx="160.4" cy="528.5" rx="1.5" ry="1.5" fill="#40408a" transform="rotate(39 160.2 528.5)"/>
<ellipse cx="165.7" cy="528.3" rx="1.9" ry="1.6" fill="#4e4694" transform="rotate(65 165.6 528.5)"/>
<ellipse cx="174.9" cy="528.7" rx="1.8" ry="1.7" fill="#38347e" transform="rotate(108 174.5 528.8)"/>
<ellipse cx="120.4" cy="531.0" rx="1.6" ry="1.3" fill="#40408a" transform="rotate(29 120.6 530.7)"/>
<ellipse cx="123.5" cy="530.8" rx="2.0" ry="2.4" fill="#4a4692" transform="rotate(136 123.8 531.3)"/>
<ellipse cx="129.6" cy="531.2" rx="2.1" ry="2.4" fill="#4e4694" transform="rotate(178 129.1 531.0)"/>
<ellipse cx="134.6" cy="533.1" rx="1.8" ry="1.4" fill="#4a4692" transform="rotate(158 134.3 533.0)"/>
<ellipse cx="140.0" cy="530.7" rx="1.8" ry="1.8" fill="#4e4694" transform="rotate(65 139.9 531.2)"/>
<ellipse cx="147.4" cy="530.3" rx="1.6" ry="1.8" fill="#38347e" transform="rotate(21 147.1 530.3)"/>
<ellipse cx="151.9" cy="531.4" rx="1.6" ry="1.7" fill="#40408a" transform="rotate(134 151.7 531.2)"/>
<ellipse cx="158.2" cy="531.1" rx="2.0" ry="1.6" fill="#38347e" transform="rotate(132 157.7 531.4)"/>
<ellipse cx="162.6" cy="530.6" rx="1.7" ry="1.5" fill="#4a4692" transform="rotate(154 163.1 530.4)"/>
<ellipse cx="168.4" cy="531.6" rx="2.0" ry="2.2" fill="#40408a" transform="rotate(0 168.4 531.2)"/>
<ellipse cx="173.1" cy="531.1" rx="1.9" ry="2.1" fill="#38347e" transform="rotate(8 173.0 531.6)"/>
<ellipse cx="120.7" cy="535.3" rx="1.9" ry="2.0" fill="#4a4692" transform="rotate(88 121.0 535.6)"/>
<ellipse cx="127.3" cy="536.3" rx="2.0" ry="2.4" fill="#4e4694" transform="rotate(130 127.8 536.4)"/>
<ellipse cx="132.5" cy="538.6" rx="1.7" ry="1.6" fill="#38347e" transform="rotate(44 132.2 538.4)"/>
<ellipse cx="138.4" cy="537.3" rx="1.6" ry="1.8" fill="#4e4694" transform="rotate(104 138.0 537.5)"/>
<ellipse cx="143.1" cy="535.4" rx="2.1" ry="1.8" fill="#4e4694" transform="rotate(130 143.3 535.3)"/>
<ellipse cx="149.4" cy="535.2" rx="1.7" ry="1.7" fill="#38347e" transform="rotate(156 149.3 535.0)"/>
<ellipse cx="154.5" cy="537.4" rx="1.7" ry="2.0" fill="#4a4692" transform="rotate(64 154.4 537.2)"/>
<ellipse cx="160.1" cy="535.3" rx="1.5" ry="1.2" fill="#4e4694" transform="rotate(145 159.8 535.2)"/>
<ellipse cx="165.5" cy="535.4" rx="1.7" ry="1.9" fill="#4a4692" transform="rotate(80 165.5 535.8)"/>
<ellipse cx="172.9" cy="536.4" rx="2.1" ry="2.3" fill="#4a4692" transform="rotate(45 172.5 536.8)"/>
<ellipse cx="175.6" cy="533.6" rx="2.0" ry="2.0" fill="#4a4692" transform="rotate(161 175.4 533.9)"/>
<ellipse cx="123.5" cy="538.8" rx="2.0" ry="2.2" fill="#38347e" transform="rotate(12 123.0 539.1)"/>
<ellipse cx="128.0" cy="541.8" rx="1.8" ry="2.1" fill="#40408a" transform="rotate(171 127.9 542.1)"/>
<ellipse cx="133.6" cy="543.2" rx="1.6" ry="1.6" fill="#4a4692" transform="rotate(126 133.3 543.3)"/>
<ellipse cx="139.9" cy="541.9" rx="1.8" ry="1.9" fill="#4e4694" transform="rotate(9 139.6 541.6)"/>
<ellipse cx="147.2" cy="540.8" rx="1.7" ry="1.9" fill="#4a4692" transform="rotate(159 147.4 541.0)"/>
<ellipse cx="153.4" cy="541.2" rx="1.3" ry="1.1" fill="#38347e" transform="rotate(89 153.3 541.6)"/>
<ellipse cx="157.3" cy="540.5" rx="1.6" ry="1.5" fill="#4a4692" transform="rotate(176 157.8 540.9)"/>
<ellipse cx="162.7" cy="541.7" rx="1.8" ry="2.0" fill="#4e4694" transform="rotate(100 162.3 541.3)"/>
<ellipse cx="168.6" cy="542.2" rx="1.7" ry="1.3" fill="#4e4694" transform="rotate(178 168.5 542.3)"/>
<ellipse cx="174.0" cy="541.5" rx="1.9" ry="1.9" fill="#4e4694" transform="rotate(13 174.3 541.7)"/>
<ellipse cx="120.6" cy="548.6" rx="1.9" ry="1.9" fill="#40408a" transform="rotate(153 120.9 548.4)"/>
<ellipse cx="124.0" cy="544.4" rx="2.0" ry="2.0" fill="#40408a" transform="rotate(159 124.2 544.7)"/>
<ellipse cx="132.5" cy="547.3" rx="1.6" ry="1.5" fill="#38347e" transform="rotate(95 132.8 547.1)"/>
<ellipse cx="139.9" cy="545.6" rx="1.9" ry="1.9" fill="#38347e" transform="rotate(139 140.2 545.8)"/>
<ellipse cx="145.6" cy="546.9" rx="1.7" ry="1.4" fill="#4a4692" transform="rotate(160 145.6 546.6)"/>
<ellipse cx="150.7" cy="547.0" rx="1.6" ry="1.6" fill="#4a4692" transform="rotate(13 151.1 546.8)"/>
<ellipse cx="155.4" cy="544.8" rx="1.9" ry="2.1" fill="#40408a" transform="rotate(38 155.2 545.3)"/>
<ellipse cx="160.2" cy="548.0" rx="1.7" ry="1.5" fill="#40408a" transform="rotate(164 160.4 547.6)"/>
<ellipse cx="168.0" cy="547.1" rx="1.4" ry="1.3" fill="#40408a" transform="rotate(0 167.6 547.3)"/>
<ellipse cx="172.2" cy="547.1" rx="1.9" ry="1.5" fill="#38347e" transform="rotate(108 172.6 547.2)"/>
<ellipse cx="120.5" cy="552.5" rx="1.7" ry="2.0" fill="#4a4692" transform="rotate(20 120.2 552.8)"/>
<ellipse cx="126.2" cy="549.7" rx="1.6" ry="1.6" fill="#40408a" transform="rotate(16 125.7 549.7)"/>
<ellipse cx="131.3" cy="552.5" rx="1.6" ry="1.6" fill="#38347e" transform="rotate(140 131.2 552.4)"/>
<ellipse cx="135.8" cy="550.9" rx="2.0" ry="2.3" fill="#40408a" transform="rotate(132 136.2 550.4)"/>
<ellipse cx="141.7" cy="550.8" rx="1.9" ry="1.9" fill="#38347e" transform="rotate(159 142.1 550.7)"/>
<ellipse cx="148.8" cy="552.8" rx="1.5" ry="1.5" fill="#40408a" transform="rotate(108 149.1 552.5)"/>
<ellipse cx="151.4" cy="550.6" rx="1.6" ry="1.4" fill="#4a4692" transform="rotate(159 151.4 550.5)"/>
<ellipse cx="158.8" cy="552.1" rx="1.7" ry="1.3" fill="#4e4694" transform="rotate(142 158.3 552.0)"/>
<ellipse cx="165.6" cy="552.8" rx="2.0" ry="2.1" fill="#38347e" transform="rotate(178 165.2 552.7)"/>
<ellipse cx="168.1" cy="550.3" rx="1.9" ry="1.7" fill="#4a4692" transform="rotate(80 168.2 550.5)"/>
<ellipse cx="174.9" cy="550.0" rx="1.7" ry="2.0" fill="#4e4694" transform="rotate(42 174.8 550.2)"/>
<ellipse cx="122.8" cy="555.9" rx="1.7" ry="1.9" fill="#4a4692" transform="rotate(45 122.5 556.1)"/>
<ellipse cx="126.9" cy="555.0" rx="1.7" ry="1.9" fill="#38347e" transform="rotate(0 127.3 555.5)"/>
<ellipse cx="133.7" cy="555.7" rx="1.8" ry="2.1" fill="#4a4692" transform="rotate(100 134.0 555.9)"/>
<ellipse cx="139.2" cy="557.4" rx="1.8" ry="1.7" fill="#4e4694" transform="rotate(87 138.7 557.5)"/>
<ellipse cx="143.6" cy="556.4" rx="1.6" ry="1.3" fill="#40408a" transform="rotate(175 143.7 556.5)"/>
<ellipse cx="148.0" cy="555.2" rx="1.6" ry="1.4" fill="#4a4692" transform="rotate(174 147.5 555.4)"/>
<ellipse cx="155.0" cy="555.7" rx="1.6" ry="1.4" fill="#38347e" transform="rotate(90 155.4 555.8)"/>
<ellipse cx="162.1" cy="556.7" rx="1.6" ry="1.5" fill="#40408a" transform="rotate(53 162.2 557.1)"/>
<ellipse cx="166.3" cy="556.8" rx="1.5" ry="1.6" fill="#40408a" transform="rotate(104 166.7 556.8)"/>
<ellipse cx="172.9" cy="555.8" rx="1.8" ry="2.1" fill="#38347e" transform="rotate(26 172.5 555.9)"/>
<ellipse cx="175.0" cy="559.1" rx="1.9" ry="2.0" fill="#40408a" transform="rotate(58 174.8 559.2)"/>
<ellipse cx="120.7" cy="560.0" rx="1.8" ry="1.6" fill="#4a4692" transform="rotate(9 120.3 560.2)"/>
<ellipse cx="122.9" cy="562.2" rx="2.0" ry="1.7" fill="#4a4692" transform="rotate(132 122.7 561.9)"/>
<ellipse cx="130.4" cy="560.0" rx="1.8" ry="1.5" fill="#4e4694" transform="rotate(3 130.5 559.6)"/>
<ellipse cx="134.1" cy="562.6" rx="1.8" ry="1.6" fill="#38347e" transform="rotate(36 134.2 562.4)"/>
<ellipse cx="141.7" cy="562.1" rx="1.6" ry="1.9" fill="#38347e" transform="rotate(123 141.7 561.6)"/>
<ellipse cx="147.9" cy="562.8" rx="2.0" ry="1.8" fill="#4e4694" transform="rotate(130 147.5 562.5)"/>
<ellipse cx="152.6" cy="560.5" rx="2.0" ry="1.7" fill="#4e4694" transform="rotate(165 152.8 560.4)"/>
<ellipse cx="159.1" cy="561.0" rx="1.7" ry="1.7" fill="#40408a" transform="rotate(33 159.1 560.8)"/>
<ellipse cx="163.3" cy="562.7" rx="1.6" ry="1.8" fill="#4a4692" transform="rotate(115 163.1 563.0)"/>
<ellipse cx="169.2" cy="561.6" rx="1.7" ry="1.4" fill="#40408a" transform="rotate(163 169.1 562.1)"/>
<ellipse cx="173.7" cy="563.0" rx="1.7" ry="1.5" fill="#40408a" transform="rotate(49 173.6 563.3)"/>
<ellipse cx="122.0" cy="568.1" rx="2.0" ry="1.8" fill="#4a4692" transform="rotate(67 121.5 568.1)"/>
<ellipse cx="127.0" cy="564.6" rx="1.8" ry="1.7" fill="#4a4692" transform="rotate(162 126.8 564.2)"/>
<ellipse cx="131.2" cy="566.0" rx="1.4" ry="1.6" fill="#38347e" transform="rotate(14 131.4 566.4)"/>
<ellipse cx="137.2" cy="567.6" rx="1.7" ry="1.5" fill="#4a4692" transform="rotate(163 137.7 567.4)"/>
<ellipse cx="143.3" cy="565.7" rx="1.7" ry="1.8" fill="#4a4692" transform="rotate(109 143.1 565.4)"/>
<ellipse cx="148.1" cy="567.0" rx="1.9" ry="1.9" fill="#40408a" transform="rotate(136 148.4 567.5)"/>
<ellipse cx="154.4" cy="566.6" rx="1.9" ry="1.6" fill="#4e4694" transform="rotate(163 154.6 566.5)"/>
<ellipse cx="162.8" cy="567.8" rx="1.6" ry="1.5" fill="#40408a" transform="rotate(179 163.0 567.6)"/>
<ellipse cx="167.1" cy="567.5" rx="1.7" ry="2.0" fill="#40408a" transform="rotate(41 167.5 567.2)"/>
<ellipse cx="171.9" cy="568.4" rx="1.7" ry="1.4" fill="#4a4692" transform="rotate(18 171.8 568.3)"/>
<ellipse cx="174.8" cy="567.2" rx="1.7" ry="1.8" fill="#38347e" transform="rotate(165 175.3 567.2)"/>
<ellipse cx="120.5" cy="573.2" rx="1.6" ry="1.3" fill="#38347e" transform="rotate(65 120.2 572.9)"/>
<ellipse cx="123.8" cy="571.2" rx="1.8" ry="1.9" fill="#38347e" transform="rotate(41 124.3 571.3)"/>
<ellipse cx="129.7" cy="570.5" rx="1.5" ry="1.7" fill="#38347e" transform="rotate(125 129.2 570.2)"/>
<ellipse cx="133.8" cy="570.5" rx="1.6" ry="1.4" fill="#4a4692" transform="rotate(137 134.0 570.9)"/>
<ellipse cx="141.6" cy="570.9" rx="2.1" ry="1.9" fill="#38347e" transform="rotate(131 141.9 571.3)"/>
<ellipse cx="147.8" cy="572.5" rx="1.8" ry="2.2" fill="#4e4694" transform="rotate(19 147.9 572.0)"/>
<ellipse cx="152.6" cy="572.2" rx="1.8" ry="1.6" fill="#38347e" transform="rotate(112 152.9 572.0)"/>
<ellipse cx="158.9" cy="570.1" rx="1.9" ry="1.6" fill="#4e4694" transform="rotate(139 158.7 570.1)"/>
<ellipse cx="162.8" cy="573.5" rx="1.9" ry="1.6" fill="#40408a" transform="rotate(98 163.1 573.5)"/>
<ellipse cx="168.1" cy="572.4" rx="1.7" ry="1.7" fill="#38347e" transform="rotate(48 168.4 572.6)"/>
<ellipse cx="173.8" cy="571.2" rx="1.9" ry="1.8" fill="#4e4694" transform="rotate(178 174.0 571.5)"/>
<ellipse cx="122.7" cy="576.7" rx="1.7" ry="1.8" fill="#40408a" transform="rotate(8 122.4 576.7)"/>
<ellipse cx="128.1" cy="575.9" rx="1.9" ry="1.5" fill="#38347e" transform="rotate(95 127.8 575.4)"/>
<ellipse cx="132.9" cy="575.7" rx="1.8" ry="1.7" fill="#4e4694" transform="rotate(93 133.0 575.9)"/>
<ellipse cx="138.9" cy="576.1" rx="1.9" ry="1.8" fill="#4e4694" transform="rotate(64 138.7 576.5)"/>
<ellipse cx="143.6" cy="576.9" rx="2.0" ry="2.0" fill="#4e4694" transform="rotate(46 143.6 577.0)"/>
<ellipse cx="148.0" cy="576.6" rx="1.8" ry="2.0" fill="#4a4692" transform="rotate(9 148.4 576.5)"/>
<ellipse cx="156.0" cy="576.0" rx="2.0" ry="1.8" fill="#4a4692" transform="rotate(127 155.5 576.5)"/>
<ellipse cx="160.8" cy="577.5" rx="1.8" ry="2.1" fill="#40408a" transform="rotate(70 161.2 577.1)"/>
<ellipse cx="166.6" cy="577.2" rx="1.9" ry="2.0" fill="#40408a" transform="rotate(112 166.4 577.4)"/>
<ellipse cx="172.0" cy="576.3" rx="2.1" ry="1.9" fill="#38347e" transform="rotate(146 172.2 576.5)"/>
<ellipse cx="125.8" cy="578.5" rx="1.7" ry="1.4" fill="#38347e" transform="rotate(126 125.7 578.8)"/>
<ellipse cx="130.0" cy="578.5" rx="1.8" ry="1.7" fill="#40408a" transform="rotate(161 129.5 578.6)"/>
<ellipse cx="135.0" cy="578.0" rx="1.6" ry="1.4" fill="#4a4692" transform="rotate(89 134.8 578.1)"/>
<ellipse cx="158.7" cy="578.4" rx="1.8" ry="1.8" fill="#40408a" transform="rotate(134 158.7 578.4)"/>
<ellipse cx="174.8" cy="578.4" rx="1.7" ry="1.7" fill="#4e4694" transform="rotate(15 175.1 578.5)"/>
<ellipse cx="132.5" cy="564.7" rx="1.2" ry="1.6" fill="#8e2c52" opacity="0.9"/>
<ellipse cx="126.2" cy="552.3" rx="1.2" ry="0.8" fill="#8e2c52" opacity="0.9"/>
<ellipse cx="153.4" cy="558.3" rx="1.3" ry="1.5" fill="#f0e8f0" opacity="0.9"/>
<ellipse cx="127.2" cy="567.6" rx="1.1" ry="1.0" fill="#8e2c52" opacity="0.9"/>
<ellipse cx="148.3" cy="568.8" rx="1.9" ry="1.5" fill="#c05a70" opacity="0.9"/>
<ellipse cx="128.3" cy="548.0" rx="1.4" ry="1.0" fill="#8e2c52" opacity="0.9"/>
<ellipse cx="154.1" cy="545.3" rx="1.2" ry="1.0" fill="#c87890" opacity="0.9"/>
<ellipse cx="153.5" cy="547.3" rx="1.4" ry="1.4" fill="#c05a70" opacity="0.9"/>
<ellipse cx="145.9" cy="568.7" rx="0.9" ry="0.9" fill="#a8405c" opacity="0.9"/>
<ellipse cx="140.3" cy="559.7" rx="1.3" ry="1.4" fill="#ece0ea" opacity="0.9"/>
<ellipse cx="127.7" cy="568.7" rx="1.2" ry="1.5" fill="#d89060" opacity="0.9"/>
<ellipse cx="125.9" cy="562.3" rx="1.2" ry="1.3" fill="#d89060" opacity="0.9"/>
<ellipse cx="145.6" cy="571.3" rx="1.0" ry="0.7" fill="#c87890" opacity="0.9"/>
<ellipse cx="155.3" cy="558.8" rx="1.6" ry="1.1" fill="#a8405c" opacity="0.9"/>
<ellipse cx="131.9" cy="574.3" rx="1.8" ry="1.9" fill="#8e2c52" opacity="0.9"/>
<ellipse cx="126.7" cy="566.0" rx="1.9" ry="2.2" fill="#c87890" opacity="0.9"/>
<ellipse cx="149.4" cy="572.2" rx="0.8" ry="0.9" fill="#8e2c52" opacity="0.9"/>
<ellipse cx="127.2" cy="547.9" rx="1.1" ry="1.4" fill="#c87890" opacity="0.9"/>
<ellipse cx="127.2" cy="547.0" rx="1.7" ry="2.1" fill="#a8405c" opacity="0.9"/>
<ellipse cx="122.4" cy="574.7" rx="1.5" ry="2.0" fill="#c05a70" opacity="0.9"/>
<ellipse cx="141.0" cy="572.8" rx="1.0" ry="1.2" fill="#8e2c52" opacity="0.9"/>
<ellipse cx="132.1" cy="553.5" rx="1.4" ry="1.6" fill="#a8405c" opacity="0.9"/>
<ellipse cx="138.4" cy="576.2" rx="1.5" ry="2.1" fill="#c87890" opacity="0.9"/>
<ellipse cx="131.9" cy="561.5" rx="1.4" ry="1.4" fill="#8e2c52" opacity="0.9"/>
<ellipse cx="148.3" cy="571.6" rx="1.2" ry="1.4" fill="#c87890" opacity="0.9"/>
<ellipse cx="141.6" cy="568.3" rx="1.7" ry="2.2" fill="#ece0ea" opacity="0.9"/>
<ellipse cx="148.2" cy="546.9" rx="1.3" ry="1.3" fill="#f0e8f0" opacity="0.9"/>
<ellipse cx="150.7" cy="568.8" rx="1.2" ry="0.8" fill="#c05a70" opacity="0.9"/>
<ellipse cx="144.3" cy="563.4" rx="1.3" ry="1.1" fill="#d89060" opacity="0.9"/>
<ellipse cx="142.0" cy="560.5" rx="0.8" ry="0.6" fill="#ece0ea" opacity="0.9"/>
<ellipse cx="128.8" cy="558.2" rx="1.2" ry="1.6" fill="#c87890" opacity="0.9"/>
<ellipse cx="135.7" cy="567.4" rx="1.5" ry="1.6" fill="#a8405c" opacity="0.9"/>
<ellipse cx="127.5" cy="548.5" rx="1.7" ry="1.9" fill="#d89060" opacity="0.9"/>
<ellipse cx="146.0" cy="568.1" rx="1.9" ry="1.7" fill="#a8405c" opacity="0.9"/>
<ellipse cx="129.2" cy="552.2" rx="1.5" ry="1.1" fill="#d89060" opacity="0.9"/>
<ellipse cx="127.2" cy="546.9" rx="1.0" ry="1.1" fill="#c05a70" opacity="0.9"/>
<ellipse cx="131.5" cy="569.9" rx="1.5" ry="1.8" fill="#d89060" opacity="0.9"/>
<ellipse cx="151.9" cy="572.3" rx="1.3" ry="1.8" fill="#d89060" opacity="0.9"/>
<ellipse cx="131.1" cy="572.6" rx="1.3" ry="1.7" fill="#a8405c" opacity="0.9"/>
<ellipse cx="134.5" cy="559.4" rx="1.7" ry="1.7" fill="#c87890" opacity="0.9"/>
<ellipse cx="152.0" cy="554.3" rx="1.2" ry="0.9" fill="#c05a70" opacity="0.9"/>
<ellipse cx="149.2" cy="551.9" rx="1.5" ry="1.9" fill="#8e2c52" opacity="0.9"/>
<ellipse cx="136.1" cy="576.2" rx="1.4" ry="1.7" fill="#c05a70" opacity="0.9"/>
<ellipse cx="153.8" cy="560.0" rx="1.5" ry="1.6" fill="#c05a70" opacity="0.9"/>
</g></g>
</g>
<g clip-path="url(#t11)">
<rect x="175.00" y="528.80" width="112.70" height="86.20" fill="#c0b4ac"/>
<g>
<rect x="175.00" y="528.80" width="112.70" height="86.20" fill="#000" filter="url(#fliv1)"/>
</g>
<g>
<rect x="175.00" y="528.80" width="112.70" height="86.20" fill="#000" filter="url(#fliv1b)"/>
</g>
<path d="M201,528 C206,545 214,560 222,578 C228,592 236,605 242,616" stroke="#9898b4" stroke-width="7" fill="none" opacity="0.55" filter="url(#b15)"/>
<ellipse cx="218" cy="567" rx="6" ry="16" transform="rotate(-25 218 567)" fill="#8c8cb0" opacity="0.55" filter="url(#b15)"/>
<g filter="url(#b5)">
<path d="M202,530 C205,533 208.5,540 211,546 C213,550 214.5,553 214.5,555 C211.5,553 208,548 205.5,543 C203.5,539 202,535 202,530 Z" fill="#e0ea9e"/>
<path d="M222,578 C228,589 235,600 241,611 L244,616 L235,616 C230,606 224,595 218.5,583 Z" fill="#e2eca0"/>
<ellipse cx="270" cy="592.5" rx="3" ry="2.5" fill="#e2e8a0"/>
<ellipse cx="183" cy="565" rx="1.6" ry="1" fill="#eeeeea"/>
</g>
<g clip-path="url(#i11)"><g filter="url(#b5)">
<rect x="232.10" y="527.80" width="56.60" height="51.60" fill="#c2c0e2"/>
<path d="M233.5,531.3 L235.1,528.3 L232.6,528.3 L232.6,530.8Z" fill="#6c6aa6" stroke="#c2c0e2" stroke-width="1.1"/>
<path d="M247.0,531.7 L250.4,528.3 L244.9,528.3Z" fill="#6c6aa6" stroke="#c2c0e2" stroke-width="1.1"/>
<path d="M255.2,531.8 L255.9,528.3 L251.2,528.3Z" fill="#6c6aa6" stroke="#c2c0e2" stroke-width="1.1"/>
<path d="M262.6,529.4 L262.9,528.3 L260.3,528.3Z" fill="#7674b2" stroke="#c2c0e2" stroke-width="1.1"/>
<path d="M262.6,529.4 L262.8,530.3 L266.3,530.8 L270.2,528.9 L270.2,528.3 L262.9,528.3Z" fill="#6c6aa6" stroke="#c2c0e2" stroke-width="1.1"/>
<path d="M270.2,528.9 L272.3,531.7 L278.3,528.9 L278.4,528.3 L270.2,528.3Z" fill="#807eb8" stroke="#c2c0e2" stroke-width="1.1"/>
<path d="M286.9,529.4 L288.2,529.1 L288.2,528.3 L285.7,528.3Z" fill="#807eb8" stroke="#c2c0e2" stroke-width="1.1"/>
<path d="M233.4,532.4 L233.5,531.3 L232.6,530.8 L232.6,532.8Z" fill="#807eb8" stroke="#c2c0e2" stroke-width="1.1"/>
<path d="M233.5,531.3 L233.4,532.4 L236.7,536.0 L240.2,535.0 L240.2,528.3 L235.1,528.3Z" fill="#7674b2" stroke="#c2c0e2" stroke-width="1.1"/>
<path d="M240.2,535.0 L242.3,535.7 L247.5,534.0 L247.0,531.7 L244.9,528.3 L240.2,528.3Z" fill="#7674b2" stroke="#c2c0e2" stroke-width="1.1"/>
<path d="M247.0,531.7 L247.5,534.0 L250.1,535.7 L255.2,533.6 L255.2,531.8 L251.2,528.3 L250.4,528.3Z" fill="#6c6aa6" stroke="#c2c0e2" stroke-width="1.1"/>
<path d="M260.3,528.3 L255.9,528.3 L255.2,531.8 L255.2,533.6 L257.2,534.5 L259.8,534.8 L262.8,530.3 L262.6,529.4Z" fill="#6c6aa6" stroke="#c2c0e2" stroke-width="1.1"/>
<path d="M259.8,534.8 L260.5,535.5 L266.7,535.0 L266.3,530.8 L262.8,530.3Z" fill="#807eb8" stroke="#c2c0e2" stroke-width="1.1"/>
<path d="M270.2,528.9 L266.3,530.8 L266.7,535.0 L270.0,537.7 L272.7,535.1 L272.3,531.7Z" fill="#6c6aa6" stroke="#c2c0e2" stroke-width="1.1"/>
<path d="M272.3,531.7 L272.7,535.1 L277.2,536.4 L281.1,534.7 L278.3,528.9Z" fill="#7674b2" stroke="#c2c0e2" stroke-width="1.1"/>
<path d="M281.1,534.7 L282.6,535.0 L284.8,533.2 L286.9,529.4 L285.7,528.3 L278.4,528.3 L278.3,528.9Z" fill="#807eb8" stroke="#c2c0e2" stroke-width="1.1"/>
<path d="M286.9,529.4 L284.8,533.2 L288.2,535.1 L288.2,529.1Z" fill="#807eb8" stroke="#c2c0e2" stroke-width="1.1"/>
<path d="M233.5,542.4 L235.6,540.4 L236.7,536.0 L233.4,532.4 L232.6,532.8 L232.6,541.5Z" fill="#807eb8" stroke="#c2c0e2" stroke-width="1.1"/>
<path d="M242.4,539.8 L242.3,535.7 L240.2,535.0 L236.7,536.0 L235.6,540.4 L240.3,541.6Z" fill="#807eb8" stroke="#c2c0e2" stroke-width="1.1"/>
<path d="M247.2,542.5 L249.8,540.1 L250.1,535.7 L247.5,534.0 L242.3,535.7 L242.4,539.8Z" fill="#6c6aa6" stroke="#c2c0e2" stroke-width="1.1"/>
<path d="M250.1,535.7 L249.8,540.1 L253.1,542.5 L256.3,541.1 L257.2,534.5 L255.2,533.6Z" fill="#807eb8" stroke="#c2c0e2" stroke-width="1.1"/>
<path d="M257.2,534.5 L256.3,541.1 L260.0,542.6 L262.7,541.0 L260.5,535.5 L259.8,534.8Z" fill="#7674b2" stroke="#c2c0e2" stroke-width="1.1"/>
<path d="M264.0,541.5 L269.6,538.9 L270.0,537.7 L266.7,535.0 L260.5,535.5 L262.7,541.0Z" fill="#807eb8" stroke="#c2c0e2" stroke-width="1.1"/>
<path d="M270.0,537.7 L269.6,538.9 L274.0,545.8 L274.2,545.8 L277.2,539.7 L277.2,536.4 L272.7,535.1Z" fill="#807eb8" stroke="#c2c0e2" stroke-width="1.1"/>
<path d="M277.2,536.4 L277.2,539.7 L282.9,542.4 L284.8,540.8 L282.6,535.0 L281.1,534.7Z" fill="#6c6aa6" stroke="#c2c0e2" stroke-width="1.1"/>
<path d="M284.8,540.8 L287.9,541.7 L288.2,541.5 L288.2,535.1 L284.8,533.2 L282.6,535.0Z" fill="#6c6aa6" stroke="#c2c0e2" stroke-width="1.1"/>
<path d="M233.2,543.8 L233.5,542.4 L232.6,541.5 L232.6,544.1Z" fill="#7674b2" stroke="#c2c0e2" stroke-width="1.1"/>
<path d="M242.1,546.7 L240.3,541.6 L235.6,540.4 L233.5,542.4 L233.2,543.8 L237.4,548.9Z" fill="#6c6aa6" stroke="#c2c0e2" stroke-width="1.1"/>
<path d="M247.2,542.5 L242.4,539.8 L240.3,541.6 L242.1,546.7 L244.7,546.9 L246.0,545.8Z" fill="#7674b2" stroke="#c2c0e2" stroke-width="1.1"/>
<path d="M251.8,548.0 L254.4,546.6 L253.1,542.5 L249.8,540.1 L247.2,542.5 L246.0,545.8Z" fill="#807eb8" stroke="#c2c0e2" stroke-width="1.1"/>
<path d="M254.4,546.6 L256.2,547.4 L258.4,545.9 L260.0,542.6 L256.3,541.1 L253.1,542.5Z" fill="#807eb8" stroke="#c2c0e2" stroke-width="1.1"/>
<path d="M265.0,544.7 L264.0,541.5 L262.7,541.0 L260.0,542.6 L258.4,545.9 L263.4,548.2Z" fill="#7674b2" stroke="#c2c0e2" stroke-width="1.1"/>
<path d="M269.6,538.9 L264.0,541.5 L265.0,544.7 L271.5,547.2 L274.0,545.8Z" fill="#7674b2" stroke="#c2c0e2" stroke-width="1.1"/>
<path d="M280.6,546.1 L282.9,542.4 L277.2,539.7 L274.2,545.8 L277.5,547.6Z" fill="#6c6aa6" stroke="#c2c0e2" stroke-width="1.1"/>
<path d="M287.9,541.7 L284.8,540.8 L282.9,542.4 L280.6,546.1 L284.9,548.4 L288.2,545.8 L288.2,544.0Z" fill="#7674b2" stroke="#c2c0e2" stroke-width="1.1"/>
<path d="M287.9,541.7 L288.2,544.0 L288.2,541.5Z" fill="#6c6aa6" stroke="#c2c0e2" stroke-width="1.1"/>
<path d="M234.3,553.2 L237.0,551.4 L237.4,548.9 L233.2,543.8 L232.6,544.1 L232.6,553.0Z" fill="#7674b2" stroke="#c2c0e2" stroke-width="1.1"/>
<path d="M239.8,554.0 L245.5,553.6 L246.2,552.4 L244.7,546.9 L242.1,546.7 L237.4,548.9 L237.0,551.4Z" fill="#807eb8" stroke="#c2c0e2" stroke-width="1.1"/>
<path d="M244.7,546.9 L246.2,552.4 L250.5,552.3 L251.8,548.0 L246.0,545.8Z" fill="#7674b2" stroke="#c2c0e2" stroke-width="1.1"/>
<path d="M250.5,552.3 L253.7,555.2 L257.6,552.0 L256.2,547.4 L254.4,546.6 L251.8,548.0Z" fill="#7674b2" stroke="#c2c0e2" stroke-width="1.1"/>
<path d="M263.9,552.4 L263.4,548.2 L258.4,545.9 L256.2,547.4 L257.6,552.0 L261.5,553.0Z" fill="#7674b2" stroke="#c2c0e2" stroke-width="1.1"/>
<path d="M266.3,553.3 L268.7,551.9 L271.5,547.2 L265.0,544.7 L263.4,548.2 L263.9,552.4Z" fill="#807eb8" stroke="#c2c0e2" stroke-width="1.1"/>
<path d="M273.0,554.2 L278.3,551.9 L277.5,547.6 L274.2,545.8 L274.0,545.8 L271.5,547.2 L268.7,551.9Z" fill="#6c6aa6" stroke="#c2c0e2" stroke-width="1.1"/>
<path d="M278.3,551.9 L279.1,553.2 L286.3,553.2 L284.9,548.4 L280.6,546.1 L277.5,547.6Z" fill="#7674b2" stroke="#c2c0e2" stroke-width="1.1"/>
<path d="M284.9,548.4 L286.3,553.2 L287.1,553.6 L288.2,553.2 L288.2,545.8Z" fill="#7674b2" stroke="#c2c0e2" stroke-width="1.1"/>
<path d="M234.0,558.9 L234.3,553.2 L232.6,553.0 L232.6,559.6Z" fill="#6c6aa6" stroke="#c2c0e2" stroke-width="1.1"/>
<path d="M240.1,559.3 L239.8,554.0 L237.0,551.4 L234.3,553.2 L234.0,558.9 L236.7,560.3Z" fill="#807eb8" stroke="#c2c0e2" stroke-width="1.1"/>
<path d="M240.1,559.3 L243.7,561.2 L246.3,558.6 L245.5,553.6 L239.8,554.0Z" fill="#7674b2" stroke="#c2c0e2" stroke-width="1.1"/>
<path d="M245.5,553.6 L246.3,558.6 L252.8,559.1 L253.3,558.7 L253.7,555.2 L250.5,552.3 L246.2,552.4Z" fill="#6c6aa6" stroke="#c2c0e2" stroke-width="1.1"/>
<path d="M257.6,552.0 L253.7,555.2 L253.3,558.7 L256.9,559.9 L260.0,558.6 L261.5,553.0Z" fill="#6c6aa6" stroke="#c2c0e2" stroke-width="1.1"/>
<path d="M260.0,558.6 L263.4,560.6 L267.4,558.6 L266.3,553.3 L263.9,552.4 L261.5,553.0Z" fill="#807eb8" stroke="#c2c0e2" stroke-width="1.1"/>
<path d="M267.4,558.6 L270.1,560.7 L270.8,561.0 L273.2,558.8 L273.0,554.2 L268.7,551.9 L266.3,553.3Z" fill="#7674b2" stroke="#c2c0e2" stroke-width="1.1"/>
<path d="M273.2,558.8 L278.8,557.8 L279.1,553.2 L278.3,551.9 L273.0,554.2Z" fill="#6c6aa6" stroke="#c2c0e2" stroke-width="1.1"/>
<path d="M279.4,558.7 L284.6,559.8 L286.8,556.3 L287.1,553.6 L286.3,553.2 L279.1,553.2 L278.8,557.8Z" fill="#7674b2" stroke="#c2c0e2" stroke-width="1.1"/>
<path d="M286.8,556.3 L288.2,557.3 L288.2,553.2 L287.1,553.6Z" fill="#807eb8" stroke="#c2c0e2" stroke-width="1.1"/>
<path d="M236.7,564.3 L236.7,560.3 L234.0,558.9 L232.6,559.6 L232.6,564.3Z" fill="#807eb8" stroke="#c2c0e2" stroke-width="1.1"/>
<path d="M238.4,567.5 L243.9,563.3 L243.7,561.2 L240.1,559.3 L236.7,560.3 L236.7,564.3Z" fill="#807eb8" stroke="#c2c0e2" stroke-width="1.1"/>
<path d="M246.0,565.3 L251.7,565.0 L252.8,559.1 L246.3,558.6 L243.7,561.2 L243.9,563.3Z" fill="#7674b2" stroke="#c2c0e2" stroke-width="1.1"/>
<path d="M256.9,559.9 L253.3,558.7 L252.8,559.1 L251.7,565.0 L252.8,566.7 L254.1,567.1 L258.1,562.6Z" fill="#807eb8" stroke="#c2c0e2" stroke-width="1.1"/>
<path d="M256.9,559.9 L258.1,562.6 L260.7,564.6 L262.7,563.2 L263.4,560.6 L260.0,558.6Z" fill="#7674b2" stroke="#c2c0e2" stroke-width="1.1"/>
<path d="M263.4,560.6 L262.7,563.2 L265.9,565.3 L270.1,560.7 L267.4,558.6Z" fill="#6c6aa6" stroke="#c2c0e2" stroke-width="1.1"/>
<path d="M270.8,561.0 L272.5,563.9 L278.5,563.3 L279.4,558.7 L278.8,557.8 L273.2,558.8Z" fill="#7674b2" stroke="#c2c0e2" stroke-width="1.1"/>
<path d="M278.5,563.3 L279.5,564.7 L285.6,562.4 L284.6,559.8 L279.4,558.7Z" fill="#807eb8" stroke="#c2c0e2" stroke-width="1.1"/>
<path d="M286.8,556.3 L284.6,559.8 L285.6,562.4 L287.1,564.0 L288.2,563.7 L288.2,557.3Z" fill="#7674b2" stroke="#c2c0e2" stroke-width="1.1"/>
<path d="M234.5,570.2 L232.6,567.4 L232.6,570.3Z" fill="#7674b2" stroke="#c2c0e2" stroke-width="1.1"/>
<path d="M238.3,568.1 L238.4,567.5 L236.7,564.3 L232.6,564.3 L232.6,567.4 L234.5,570.2 L234.8,570.3Z" fill="#807eb8" stroke="#c2c0e2" stroke-width="1.1"/>
<path d="M242.5,571.7 L245.8,570.8 L246.0,565.3 L243.9,563.3 L238.4,567.5 L238.3,568.1Z" fill="#7674b2" stroke="#c2c0e2" stroke-width="1.1"/>
<path d="M245.8,570.8 L248.8,572.6 L252.8,566.7 L251.7,565.0 L246.0,565.3Z" fill="#807eb8" stroke="#c2c0e2" stroke-width="1.1"/>
<path d="M254.1,567.1 L256.9,569.4 L260.2,567.6 L260.7,564.6 L258.1,562.6Z" fill="#807eb8" stroke="#c2c0e2" stroke-width="1.1"/>
<path d="M260.2,567.6 L264.5,569.8 L266.2,568.7 L265.9,565.3 L262.7,563.2 L260.7,564.6Z" fill="#6c6aa6" stroke="#c2c0e2" stroke-width="1.1"/>
<path d="M270.1,560.7 L265.9,565.3 L266.2,568.7 L272.3,569.6 L272.5,563.9 L270.8,561.0Z" fill="#6c6aa6" stroke="#c2c0e2" stroke-width="1.1"/>
<path d="M272.5,563.9 L272.3,569.6 L272.5,569.9 L277.2,571.0 L279.9,568.8 L279.5,564.7 L278.5,563.3Z" fill="#807eb8" stroke="#c2c0e2" stroke-width="1.1"/>
<path d="M287.1,564.0 L285.6,562.4 L279.5,564.7 L279.9,568.8 L286.0,569.1Z" fill="#7674b2" stroke="#c2c0e2" stroke-width="1.1"/>
<path d="M287.1,564.0 L286.0,569.1 L286.2,569.4 L288.2,569.9 L288.2,563.7Z" fill="#6c6aa6" stroke="#c2c0e2" stroke-width="1.1"/>
<path d="M234.0,575.9 L234.8,574.3 L234.8,570.3 L234.5,570.2 L232.6,570.3 L232.6,575.7Z" fill="#6c6aa6" stroke="#c2c0e2" stroke-width="1.1"/>
<path d="M234.8,574.3 L241.4,575.1 L242.5,571.7 L238.3,568.1 L234.8,570.3Z" fill="#7674b2" stroke="#c2c0e2" stroke-width="1.1"/>
<path d="M249.1,573.2 L248.8,572.6 L245.8,570.8 L242.5,571.7 L241.4,575.1 L241.7,576.0 L245.6,578.9 L246.5,578.9Z" fill="#7674b2" stroke="#c2c0e2" stroke-width="1.1"/>
<path d="M248.8,572.6 L249.1,573.2 L255.9,575.6 L256.7,575.3 L256.9,569.4 L254.1,567.1 L252.8,566.7Z" fill="#6c6aa6" stroke="#c2c0e2" stroke-width="1.1"/>
<path d="M256.9,569.4 L256.7,575.3 L258.8,576.0 L263.6,574.5 L264.5,569.8 L260.2,567.6Z" fill="#6c6aa6" stroke="#c2c0e2" stroke-width="1.1"/>
<path d="M263.6,574.5 L265.9,576.0 L270.5,574.5 L272.5,569.9 L272.3,569.6 L266.2,568.7 L264.5,569.8Z" fill="#807eb8" stroke="#c2c0e2" stroke-width="1.1"/>
<path d="M278.4,574.5 L277.2,571.0 L272.5,569.9 L270.5,574.5 L272.9,578.9 L275.7,578.9Z" fill="#807eb8" stroke="#c2c0e2" stroke-width="1.1"/>
<path d="M285.1,576.5 L286.2,569.4 L286.0,569.1 L279.9,568.8 L277.2,571.0 L278.4,574.5 L283.9,577.1Z" fill="#6c6aa6" stroke="#c2c0e2" stroke-width="1.1"/>
<path d="M287.5,577.4 L288.2,577.0 L288.2,569.9 L286.2,569.4 L285.1,576.5Z" fill="#7674b2" stroke="#c2c0e2" stroke-width="1.1"/>
<path d="M234.0,575.9 L232.6,575.7 L232.6,578.9 L234.6,578.9Z" fill="#7674b2" stroke="#c2c0e2" stroke-width="1.1"/>
<path d="M241.7,576.0 L241.4,575.1 L234.8,574.3 L234.0,575.9 L234.6,578.9 L239.2,578.9Z" fill="#807eb8" stroke="#c2c0e2" stroke-width="1.1"/>
<path d="M241.7,576.0 L239.2,578.9 L245.6,578.9Z" fill="#6c6aa6" stroke="#c2c0e2" stroke-width="1.1"/>
<path d="M249.1,573.2 L246.5,578.9 L254.2,578.9 L255.9,575.6Z" fill="#6c6aa6" stroke="#c2c0e2" stroke-width="1.1"/>
<path d="M258.8,576.0 L256.7,575.3 L255.9,575.6 L254.2,578.9 L259.9,578.9Z" fill="#807eb8" stroke="#c2c0e2" stroke-width="1.1"/>
<path d="M259.9,578.9 L266.2,578.9 L265.9,576.0 L263.6,574.5 L258.8,576.0Z" fill="#6c6aa6" stroke="#c2c0e2" stroke-width="1.1"/>
<path d="M270.5,574.5 L265.9,576.0 L266.2,578.9 L272.9,578.9Z" fill="#7674b2" stroke="#c2c0e2" stroke-width="1.1"/>
<path d="M283.9,577.1 L278.4,574.5 L275.7,578.9 L283.3,578.9Z" fill="#7674b2" stroke="#c2c0e2" stroke-width="1.1"/>
<path d="M283.3,578.9 L288.2,578.9 L288.2,578.5 L287.5,577.4 L285.1,576.5 L283.9,577.1Z" fill="#6c6aa6" stroke="#c2c0e2" stroke-width="1.1"/>
<path d="M287.5,577.4 L288.2,578.5 L288.2,577.0Z" fill="#807eb8" stroke="#c2c0e2" stroke-width="1.1"/>
<ellipse cx="233.9" cy="529.0" rx="2.1" ry="1.7" fill="#403e86" transform="rotate(72 233.5 529.5)"/>
<ellipse cx="247.2" cy="529.5" rx="2.2" ry="2.2" fill="#403e86" transform="rotate(92 247.4 529.4)"/>
<ellipse cx="253.7" cy="529.0" rx="1.9" ry="1.9" fill="#403e86" transform="rotate(175 254.1 529.5)"/>
<ellipse cx="261.6" cy="528.6" rx="2.2" ry="2.5" fill="#403e86" transform="rotate(152 261.9 528.7)"/>
<ellipse cx="266.2" cy="529.7" rx="2.2" ry="2.5" fill="#403e86" transform="rotate(121 266.0 529.3)"/>
<ellipse cx="273.5" cy="529.2" rx="2.2" ry="2.5" fill="#403e86" transform="rotate(16 273.8 529.5)"/>
<ellipse cx="287.5" cy="528.8" rx="2.2" ry="2.3" fill="#403e86" transform="rotate(120 287.2 528.7)"/>
<ellipse cx="233.2" cy="532.2" rx="1.9" ry="2.3" fill="#525098" transform="rotate(137 233.0 531.8)"/>
<ellipse cx="237.5" cy="531.4" rx="2.1" ry="1.8" fill="#403e86" transform="rotate(21 237.2 531.8)"/>
<ellipse cx="243.2" cy="531.8" rx="2.2" ry="1.7" fill="#4a488e" transform="rotate(103 243.3 531.9)"/>
<ellipse cx="251.4" cy="531.9" rx="2.0" ry="2.1" fill="#4a488e" transform="rotate(28 251.0 532.2)"/>
<ellipse cx="258.8" cy="531.2" rx="2.3" ry="2.0" fill="#525098" transform="rotate(47 258.6 531.3)"/>
<ellipse cx="263.8" cy="532.7" rx="1.8" ry="1.4" fill="#4a488e" transform="rotate(97 263.6 533.2)"/>
<ellipse cx="269.6" cy="532.8" rx="1.8" ry="1.7" fill="#4a488e" transform="rotate(159 269.5 533.2)"/>
<ellipse cx="276.4" cy="533.1" rx="1.9" ry="1.8" fill="#4a488e" transform="rotate(167 276.6 533.0)"/>
<ellipse cx="282.7" cy="530.6" rx="2.4" ry="2.4" fill="#4a488e" transform="rotate(129 282.5 530.9)"/>
<ellipse cx="287.0" cy="531.9" rx="2.3" ry="1.8" fill="#403e86" transform="rotate(60 287.0 532.1)"/>
<ellipse cx="234.2" cy="537.0" rx="2.3" ry="2.0" fill="#525098" transform="rotate(95 234.2 537.4)"/>
<ellipse cx="238.9" cy="537.8" rx="2.1" ry="1.9" fill="#4a488e" transform="rotate(146 239.3 538.3)"/>
<ellipse cx="246.3" cy="538.0" rx="1.9" ry="1.7" fill="#4a488e" transform="rotate(118 246.3 538.0)"/>
<ellipse cx="253.8" cy="537.5" rx="2.4" ry="2.6" fill="#4a488e" transform="rotate(13 253.6 538.0)"/>
<ellipse cx="259.4" cy="538.4" rx="2.2" ry="1.7" fill="#525098" transform="rotate(170 259.2 538.7)"/>
<ellipse cx="265.3" cy="537.8" rx="2.2" ry="2.5" fill="#4a488e" transform="rotate(74 265.1 537.9)"/>
<ellipse cx="273.6" cy="539.5" rx="2.4" ry="1.9" fill="#403e86" transform="rotate(91 273.7 539.6)"/>
<ellipse cx="280.8" cy="538.8" rx="2.0" ry="1.9" fill="#403e86" transform="rotate(151 280.9 538.5)"/>
<ellipse cx="285.7" cy="536.9" rx="2.0" ry="1.5" fill="#4a488e" transform="rotate(51 285.8 537.3)"/>
<ellipse cx="233.1" cy="542.7" rx="1.8" ry="1.7" fill="#525098" transform="rotate(76 233.0 542.8)"/>
<ellipse cx="237.6" cy="544.0" rx="2.4" ry="1.9" fill="#525098" transform="rotate(40 237.7 544.4)"/>
<ellipse cx="244.0" cy="543.4" rx="1.8" ry="1.8" fill="#525098" transform="rotate(28 243.6 543.5)"/>
<ellipse cx="250.5" cy="543.9" rx="2.3" ry="2.6" fill="#525098" transform="rotate(88 250.3 544.4)"/>
<ellipse cx="256.6" cy="544.2" rx="1.6" ry="1.6" fill="#4a488e" transform="rotate(39 256.4 544.0)"/>
<ellipse cx="261.9" cy="544.7" rx="1.9" ry="2.1" fill="#525098" transform="rotate(41 262.1 544.6)"/>
<ellipse cx="269.0" cy="543.4" rx="2.0" ry="2.0" fill="#4a488e" transform="rotate(93 268.9 543.3)"/>
<ellipse cx="278.2" cy="543.4" rx="2.0" ry="2.3" fill="#525098" transform="rotate(119 278.4 543.8)"/>
<ellipse cx="285.1" cy="545.0" rx="2.2" ry="2.2" fill="#4a488e" transform="rotate(110 284.9 544.6)"/>
<ellipse cx="288.1" cy="542.4" rx="2.1" ry="2.2" fill="#4a488e" transform="rotate(43 288.1 542.4)"/>
<ellipse cx="234.6" cy="549.5" rx="1.9" ry="2.0" fill="#403e86" transform="rotate(60 234.5 549.1)"/>
<ellipse cx="241.3" cy="550.3" rx="1.9" ry="1.5" fill="#525098" transform="rotate(101 241.8 550.5)"/>
<ellipse cx="248.0" cy="549.4" rx="1.7" ry="1.9" fill="#525098" transform="rotate(49 248.1 549.3)"/>
<ellipse cx="253.9" cy="550.8" rx="2.2" ry="1.7" fill="#403e86" transform="rotate(80 254.0 550.8)"/>
<ellipse cx="260.2" cy="550.0" rx="1.8" ry="1.5" fill="#4a488e" transform="rotate(4 260.1 549.6)"/>
<ellipse cx="266.7" cy="549.3" rx="2.2" ry="2.1" fill="#525098" transform="rotate(33 266.8 549.0)"/>
<ellipse cx="274.0" cy="550.6" rx="1.9" ry="2.2" fill="#525098" transform="rotate(141 273.8 550.2)"/>
<ellipse cx="281.2" cy="550.4" rx="1.9" ry="2.2" fill="#525098" transform="rotate(80 281.6 550.1)"/>
<ellipse cx="286.9" cy="550.1" rx="1.6" ry="1.8" fill="#4a488e" transform="rotate(147 286.9 549.9)"/>
<ellipse cx="233.4" cy="555.9" rx="2.0" ry="2.1" fill="#4a488e" transform="rotate(73 233.4 556.1)"/>
<ellipse cx="236.9" cy="556.0" rx="2.3" ry="2.5" fill="#4a488e" transform="rotate(142 237.0 556.1)"/>
<ellipse cx="243.4" cy="556.6" rx="2.2" ry="1.7" fill="#403e86" transform="rotate(36 243.0 557.0)"/>
<ellipse cx="249.7" cy="556.0" rx="2.2" ry="1.9" fill="#4a488e" transform="rotate(97 249.5 555.8)"/>
<ellipse cx="257.2" cy="555.7" rx="1.9" ry="1.9" fill="#4a488e" transform="rotate(82 257.4 556.0)"/>
<ellipse cx="264.0" cy="556.5" rx="1.9" ry="1.4" fill="#403e86" transform="rotate(12 263.7 556.5)"/>
<ellipse cx="270.3" cy="556.8" rx="2.3" ry="2.4" fill="#525098" transform="rotate(59 269.9 556.3)"/>
<ellipse cx="275.9" cy="555.5" rx="1.8" ry="1.5" fill="#525098" transform="rotate(158 276.2 555.6)"/>
<ellipse cx="282.6" cy="556.2" rx="2.3" ry="2.3" fill="#4a488e" transform="rotate(36 282.8 556.1)"/>
<ellipse cx="287.9" cy="554.8" rx="2.3" ry="2.0" fill="#525098" transform="rotate(58 287.6 555.2)"/>
<ellipse cx="234.5" cy="562.1" rx="1.9" ry="2.2" fill="#4a488e" transform="rotate(136 234.6 561.9)"/>
<ellipse cx="239.4" cy="562.5" rx="2.3" ry="2.6" fill="#403e86" transform="rotate(175 239.9 562.9)"/>
<ellipse cx="247.8" cy="562.0" rx="2.0" ry="1.9" fill="#4a488e" transform="rotate(90 248.3 562.0)"/>
<ellipse cx="254.4" cy="562.4" rx="1.9" ry="1.9" fill="#4a488e" transform="rotate(91 254.6 562.7)"/>
<ellipse cx="260.6" cy="561.6" rx="1.5" ry="1.8" fill="#4a488e" transform="rotate(15 260.3 561.4)"/>
<ellipse cx="265.8" cy="562.1" rx="1.7" ry="1.7" fill="#525098" transform="rotate(9 266.1 561.8)"/>
<ellipse cx="275.7" cy="560.7" rx="1.8" ry="2.1" fill="#4a488e" transform="rotate(82 275.4 561.0)"/>
<ellipse cx="281.8" cy="561.9" rx="1.8" ry="1.7" fill="#403e86" transform="rotate(2 281.6 561.6)"/>
<ellipse cx="286.9" cy="560.5" rx="2.0" ry="1.5" fill="#403e86" transform="rotate(173 286.8 560.2)"/>
<ellipse cx="233.1" cy="569.3" rx="2.0" ry="2.1" fill="#403e86" transform="rotate(102 233.2 569.3)"/>
<ellipse cx="235.7" cy="567.1" rx="2.0" ry="2.1" fill="#403e86" transform="rotate(137 235.2 566.9)"/>
<ellipse cx="243.3" cy="567.3" rx="2.3" ry="2.5" fill="#525098" transform="rotate(52 242.9 567.8)"/>
<ellipse cx="248.4" cy="568.0" rx="1.9" ry="1.9" fill="#4a488e" transform="rotate(105 248.8 568.2)"/>
<ellipse cx="257.5" cy="566.4" rx="1.9" ry="1.5" fill="#4a488e" transform="rotate(22 257.8 566.2)"/>
<ellipse cx="263.7" cy="566.8" rx="1.9" ry="2.1" fill="#525098" transform="rotate(155 263.3 566.6)"/>
<ellipse cx="269.6" cy="566.1" rx="2.2" ry="1.9" fill="#525098" transform="rotate(139 269.5 565.7)"/>
<ellipse cx="276.2" cy="566.9" rx="2.1" ry="2.3" fill="#4a488e" transform="rotate(135 276.0 567.0)"/>
<ellipse cx="283.2" cy="565.9" rx="2.2" ry="2.5" fill="#403e86" transform="rotate(141 283.4 566.1)"/>
<ellipse cx="287.1" cy="566.6" rx="2.2" ry="2.0" fill="#525098" transform="rotate(68 287.4 567.0)"/>
<ellipse cx="233.2" cy="572.8" rx="1.8" ry="1.5" fill="#4a488e" transform="rotate(167 233.7 572.9)"/>
<ellipse cx="238.7" cy="572.4" rx="2.1" ry="2.2" fill="#403e86" transform="rotate(106 238.4 572.0)"/>
<ellipse cx="245.3" cy="574.3" rx="2.1" ry="1.9" fill="#403e86" transform="rotate(21 245.2 574.6)"/>
<ellipse cx="253.2" cy="570.9" rx="2.3" ry="1.9" fill="#525098" transform="rotate(144 253.5 571.4)"/>
<ellipse cx="260.2" cy="571.7" rx="2.2" ry="1.7" fill="#4a488e" transform="rotate(176 260.3 571.9)"/>
<ellipse cx="268.1" cy="571.8" rx="2.3" ry="2.2" fill="#4a488e" transform="rotate(18 267.7 572.2)"/>
<ellipse cx="274.6" cy="574.8" rx="2.0" ry="1.7" fill="#525098" transform="rotate(178 274.4 574.4)"/>
<ellipse cx="282.4" cy="571.9" rx="2.3" ry="2.4" fill="#525098" transform="rotate(28 282.1 572.4)"/>
<ellipse cx="287.0" cy="573.2" rx="1.9" ry="2.1" fill="#525098" transform="rotate(82 286.9 573.6)"/>
<ellipse cx="233.9" cy="577.6" rx="2.2" ry="2.7" fill="#403e86" transform="rotate(26 233.4 577.4)"/>
<ellipse cx="237.2" cy="576.4" rx="1.7" ry="1.4" fill="#4a488e" transform="rotate(174 237.5 576.6)"/>
<ellipse cx="242.1" cy="578.0" rx="2.1" ry="1.9" fill="#4a488e" transform="rotate(30 242.2 577.9)"/>
<ellipse cx="251.3" cy="576.6" rx="2.4" ry="2.8" fill="#4a488e" transform="rotate(18 251.1 576.6)"/>
<ellipse cx="257.4" cy="576.9" rx="2.3" ry="2.5" fill="#403e86" transform="rotate(90 257.2 577.4)"/>
<ellipse cx="262.6" cy="576.8" rx="2.0" ry="1.9" fill="#525098" transform="rotate(178 262.7 577.0)"/>
<ellipse cx="269.0" cy="577.6" rx="2.2" ry="1.7" fill="#525098" transform="rotate(110 269.1 577.1)"/>
<ellipse cx="279.6" cy="577.5" rx="2.0" ry="1.6" fill="#4a488e" transform="rotate(24 279.8 577.3)"/>
<ellipse cx="285.7" cy="577.8" rx="1.8" ry="2.1" fill="#4a488e" transform="rotate(23 285.7 578.0)"/>
<ellipse cx="287.5" cy="577.9" rx="2.1" ry="1.9" fill="#4a488e" transform="rotate(4 288.0 577.6)"/>
<circle cx="234.3" cy="556.7" r="1.6" fill="#16123a"/>
<circle cx="280.5" cy="532.7" r="1.6" fill="#16123a"/>
</g></g>
</g>
<g clip-path="url(#t12)">
<rect x="287.70" y="528.80" width="113.10" height="86.20" fill="#aa9cb0"/>
<g>
<rect x="287.70" y="528.80" width="113.10" height="86.20" fill="#000" filter="url(#fl1c)"/>
</g>
<g clip-path="url(#lowlung)">
<rect x="287.70" y="528.80" width="113.10" height="86.20" fill="#000" filter="url(#fl1a)"/>
</g>
<g>
<rect x="287.70" y="528.80" width="113.10" height="86.20" fill="#000" filter="url(#fl1b)"/>
</g>
<g clip-path="url(#i12)"><g filter="url(#b5)">
<rect x="345.20" y="527.80" width="56.60" height="51.60" fill="#b8b0d0"/>
<ellipse cx="349.0" cy="528.6" rx="1.5" ry="1.6" fill="#6a5ea6" transform="rotate(57 348.8 528.8)"/>
<ellipse cx="367.0" cy="529.4" rx="2.3" ry="2.1" fill="#3e3488" transform="rotate(175 367.1 529.2)"/>
<ellipse cx="370.5" cy="529.4" rx="2.7" ry="2.4" fill="#3e3488" transform="rotate(124 370.7 529.8)"/>
<ellipse cx="377.6" cy="531.1" rx="1.3" ry="1.2" fill="#34287a" transform="rotate(33 378.0 531.0)"/>
<ellipse cx="387.3" cy="529.6" rx="1.6" ry="1.4" fill="#6a5ea6" transform="rotate(152 387.6 529.1)"/>
<ellipse cx="391.1" cy="529.4" rx="2.2" ry="1.9" fill="#6a5ea6" transform="rotate(35 390.9 529.4)"/>
<ellipse cx="398.7" cy="529.1" rx="1.4" ry="1.6" fill="#3e3488" transform="rotate(147 399.0 529.2)"/>
<ellipse cx="346.5" cy="529.8" rx="1.7" ry="1.7" fill="#3e3488" transform="rotate(121 346.4 530.2)"/>
<ellipse cx="348.8" cy="532.3" rx="1.8" ry="2.0" fill="#6a5ea6" transform="rotate(55 348.5 532.2)"/>
<ellipse cx="354.0" cy="530.9" rx="2.8" ry="3.2" fill="#5a4c9a" transform="rotate(2 354.4 530.4)"/>
<ellipse cx="361.6" cy="530.5" rx="2.0" ry="2.1" fill="#34287a" transform="rotate(173 361.7 530.7)"/>
<ellipse cx="367.5" cy="533.3" rx="2.1" ry="1.9" fill="#3e3488" transform="rotate(158 367.2 533.7)"/>
<ellipse cx="374.0" cy="530.8" rx="2.7" ry="2.9" fill="#3e3488" transform="rotate(37 374.3 530.9)"/>
<ellipse cx="383.0" cy="530.5" rx="2.3" ry="2.2" fill="#3e3488" transform="rotate(93 383.0 530.3)"/>
<ellipse cx="386.5" cy="533.7" rx="2.7" ry="3.0" fill="#34287a" transform="rotate(166 386.2 533.6)"/>
<ellipse cx="394.6" cy="530.7" rx="2.2" ry="2.3" fill="#3e3488" transform="rotate(156 394.8 531.1)"/>
<ellipse cx="399.8" cy="531.7" rx="2.1" ry="2.3" fill="#4a3e92" transform="rotate(22 399.5 531.6)"/>
<ellipse cx="348.4" cy="537.3" rx="1.6" ry="1.9" fill="#3e3488" transform="rotate(62 348.7 537.4)"/>
<ellipse cx="355.6" cy="535.2" rx="1.8" ry="1.7" fill="#4a3e92" transform="rotate(117 355.9 535.5)"/>
<ellipse cx="360.9" cy="539.4" rx="2.5" ry="2.1" fill="#6a5ea6" transform="rotate(95 361.3 538.9)"/>
<ellipse cx="366.7" cy="539.4" rx="2.0" ry="1.7" fill="#34287a" transform="rotate(0 366.5 538.9)"/>
<ellipse cx="371.6" cy="538.3" rx="1.6" ry="1.4" fill="#3e3488" transform="rotate(2 371.7 538.1)"/>
<ellipse cx="379.3" cy="536.1" rx="1.9" ry="1.5" fill="#3e3488" transform="rotate(95 379.4 536.0)"/>
<ellipse cx="384.7" cy="539.0" rx="1.5" ry="1.6" fill="#4a3e92" transform="rotate(4 384.8 538.7)"/>
<ellipse cx="390.9" cy="534.8" rx="3.0" ry="2.3" fill="#4a3e92" transform="rotate(32 391.3 534.9)"/>
<ellipse cx="397.6" cy="536.7" rx="2.6" ry="2.4" fill="#5a4c9a" transform="rotate(50 397.8 536.7)"/>
<ellipse cx="400.7" cy="538.9" rx="2.1" ry="2.1" fill="#4a3e92" transform="rotate(88 400.7 539.1)"/>
<ellipse cx="346.1" cy="541.8" rx="2.0" ry="2.1" fill="#34287a" transform="rotate(11 346.1 541.4)"/>
<ellipse cx="348.2" cy="545.0" rx="2.2" ry="1.7" fill="#4a3e92" transform="rotate(126 348.0 544.9)"/>
<ellipse cx="353.9" cy="541.0" rx="2.4" ry="1.8" fill="#34287a" transform="rotate(53 354.3 541.4)"/>
<ellipse cx="363.8" cy="543.9" rx="1.9" ry="2.1" fill="#4a3e92" transform="rotate(179 364.2 544.4)"/>
<ellipse cx="368.2" cy="543.7" rx="2.4" ry="2.5" fill="#34287a" transform="rotate(23 368.5 543.5)"/>
<ellipse cx="375.1" cy="541.3" rx="2.8" ry="2.7" fill="#34287a" transform="rotate(163 375.0 541.4)"/>
<ellipse cx="380.8" cy="543.1" rx="1.8" ry="1.5" fill="#5a4c9a" transform="rotate(22 380.4 543.0)"/>
<ellipse cx="390.7" cy="541.2" rx="3.0" ry="3.1" fill="#3e3488" transform="rotate(68 390.6 541.1)"/>
<ellipse cx="394.9" cy="545.1" rx="1.8" ry="2.1" fill="#3e3488" transform="rotate(64 394.9 544.9)"/>
<ellipse cx="399.8" cy="542.1" rx="2.3" ry="2.1" fill="#34287a" transform="rotate(139 400.0 542.1)"/>
<ellipse cx="347.8" cy="550.9" rx="2.1" ry="2.0" fill="#4a3e92" transform="rotate(169 347.3 551.3)"/>
<ellipse cx="351.6" cy="545.1" rx="2.5" ry="2.3" fill="#3e3488" transform="rotate(136 352.0 545.5)"/>
<ellipse cx="358.5" cy="545.0" rx="1.6" ry="1.7" fill="#34287a" transform="rotate(88 358.6 545.4)"/>
<ellipse cx="363.1" cy="550.5" rx="2.1" ry="1.7" fill="#6a5ea6" transform="rotate(29 362.9 550.1)"/>
<ellipse cx="369.8" cy="549.1" rx="1.9" ry="1.7" fill="#5a4c9a" transform="rotate(3 369.9 549.3)"/>
<ellipse cx="377.8" cy="549.5" rx="3.0" ry="2.5" fill="#6a5ea6" transform="rotate(75 377.7 549.6)"/>
<ellipse cx="385.6" cy="546.3" rx="2.5" ry="2.0" fill="#3e3488" transform="rotate(30 386.0 546.0)"/>
<ellipse cx="389.8" cy="550.8" rx="1.5" ry="1.3" fill="#34287a" transform="rotate(44 389.9 551.2)"/>
<ellipse cx="397.9" cy="548.1" rx="2.9" ry="2.5" fill="#4a3e92" transform="rotate(83 398.3 548.5)"/>
<ellipse cx="351.2" cy="552.2" rx="2.6" ry="2.4" fill="#5a4c9a" transform="rotate(157 351.1 552.2)"/>
<ellipse cx="356.1" cy="550.9" rx="2.2" ry="2.4" fill="#4a3e92" transform="rotate(100 356.1 551.2)"/>
<ellipse cx="360.1" cy="555.5" rx="1.8" ry="1.6" fill="#34287a" transform="rotate(152 360.2 555.3)"/>
<ellipse cx="368.4" cy="556.4" rx="2.8" ry="2.7" fill="#6a5ea6" transform="rotate(101 368.0 556.2)"/>
<ellipse cx="375.2" cy="554.0" rx="2.3" ry="2.1" fill="#3e3488" transform="rotate(127 374.8 554.4)"/>
<ellipse cx="378.8" cy="555.6" rx="1.7" ry="1.8" fill="#5a4c9a" transform="rotate(95 379.0 555.8)"/>
<ellipse cx="384.5" cy="553.5" rx="2.2" ry="2.0" fill="#3e3488" transform="rotate(150 384.6 553.4)"/>
<ellipse cx="395.8" cy="555.6" rx="2.4" ry="1.9" fill="#4a3e92" transform="rotate(147 396.2 555.2)"/>
<ellipse cx="400.8" cy="551.9" rx="1.9" ry="1.8" fill="#5a4c9a" transform="rotate(124 400.5 552.3)"/>
<ellipse cx="348.7" cy="559.3" rx="1.5" ry="1.6" fill="#3e3488" transform="rotate(163 348.6 559.3)"/>
<ellipse cx="354.0" cy="559.1" rx="1.5" ry="1.2" fill="#6a5ea6" transform="rotate(45 353.9 558.6)"/>
<ellipse cx="357.4" cy="561.0" rx="1.8" ry="1.4" fill="#3e3488" transform="rotate(166 357.5 560.9)"/>
<ellipse cx="363.6" cy="561.4" rx="1.8" ry="1.7" fill="#6a5ea6" transform="rotate(67 363.8 561.0)"/>
<ellipse cx="374.5" cy="559.2" rx="2.5" ry="2.6" fill="#5a4c9a" transform="rotate(107 374.6 558.8)"/>
<ellipse cx="381.9" cy="556.9" rx="1.4" ry="1.1" fill="#5a4c9a" transform="rotate(52 381.5 557.1)"/>
<ellipse cx="387.8" cy="558.5" rx="1.5" ry="1.2" fill="#3e3488" transform="rotate(106 387.5 558.6)"/>
<ellipse cx="393.0" cy="558.9" rx="2.2" ry="1.8" fill="#5a4c9a" transform="rotate(54 393.3 559.0)"/>
<ellipse cx="400.1" cy="555.9" rx="1.2" ry="1.1" fill="#4a3e92" transform="rotate(121 399.7 556.1)"/>
<ellipse cx="400.3" cy="561.4" rx="1.9" ry="2.0" fill="#34287a" transform="rotate(48 400.1 561.0)"/>
<ellipse cx="345.8" cy="563.7" rx="2.7" ry="2.5" fill="#6a5ea6" transform="rotate(135 346.3 564.0)"/>
<ellipse cx="351.6" cy="566.3" rx="3.0" ry="2.3" fill="#3e3488" transform="rotate(163 351.4 566.1)"/>
<ellipse cx="358.7" cy="566.3" rx="1.4" ry="1.5" fill="#3e3488" transform="rotate(129 359.1 566.2)"/>
<ellipse cx="361.4" cy="563.4" rx="2.1" ry="2.5" fill="#3e3488" transform="rotate(171 361.4 563.3)"/>
<ellipse cx="369.7" cy="563.6" rx="1.8" ry="1.3" fill="#4a3e92" transform="rotate(83 369.4 563.3)"/>
<ellipse cx="375.2" cy="564.7" rx="1.8" ry="1.4" fill="#6a5ea6" transform="rotate(26 375.4 564.6)"/>
<ellipse cx="381.1" cy="562.7" rx="2.1" ry="2.1" fill="#4a3e92" transform="rotate(139 381.0 562.4)"/>
<ellipse cx="385.8" cy="564.7" rx="2.4" ry="2.7" fill="#6a5ea6" transform="rotate(152 385.4 565.1)"/>
<ellipse cx="391.8" cy="565.8" rx="2.9" ry="2.4" fill="#4a3e92" transform="rotate(179 391.4 565.6)"/>
<ellipse cx="397.7" cy="564.3" rx="2.8" ry="2.2" fill="#5a4c9a" transform="rotate(112 397.9 564.4)"/>
<ellipse cx="400.8" cy="567.2" rx="1.8" ry="2.0" fill="#34287a" transform="rotate(166 401.1 567.3)"/>
<ellipse cx="346.9" cy="568.9" rx="3.0" ry="2.7" fill="#34287a" transform="rotate(104 346.7 569.0)"/>
<ellipse cx="354.7" cy="571.5" rx="2.3" ry="2.0" fill="#4a3e92" transform="rotate(50 354.5 571.4)"/>
<ellipse cx="357.6" cy="570.2" rx="1.8" ry="1.5" fill="#6a5ea6" transform="rotate(57 357.9 570.1)"/>
<ellipse cx="364.3" cy="570.6" rx="2.3" ry="2.3" fill="#5a4c9a" transform="rotate(14 364.2 570.1)"/>
<ellipse cx="372.0" cy="570.9" rx="3.0" ry="2.8" fill="#6a5ea6" transform="rotate(35 372.5 571.0)"/>
<ellipse cx="377.9" cy="570.2" rx="2.7" ry="2.4" fill="#6a5ea6" transform="rotate(33 377.4 569.8)"/>
<ellipse cx="383.4" cy="570.0" rx="1.9" ry="1.9" fill="#34287a" transform="rotate(30 383.8 569.9)"/>
<ellipse cx="389.8" cy="572.7" rx="2.4" ry="2.0" fill="#3e3488" transform="rotate(17 390.1 572.6)"/>
<ellipse cx="397.8" cy="571.6" rx="2.2" ry="2.5" fill="#3e3488" transform="rotate(147 397.7 571.3)"/>
<ellipse cx="349.3" cy="573.3" rx="2.7" ry="2.1" fill="#5a4c9a" transform="rotate(47 349.0 573.1)"/>
<ellipse cx="353.3" cy="577.0" rx="2.4" ry="2.1" fill="#6a5ea6" transform="rotate(65 353.6 576.5)"/>
<ellipse cx="359.4" cy="576.4" rx="1.8" ry="1.5" fill="#34287a" transform="rotate(18 359.5 576.4)"/>
<ellipse cx="366.2" cy="574.6" rx="1.6" ry="1.8" fill="#6a5ea6" transform="rotate(10 366.3 575.0)"/>
<ellipse cx="373.2" cy="576.1" rx="2.1" ry="1.8" fill="#5a4c9a" transform="rotate(151 373.3 576.1)"/>
<ellipse cx="382.5" cy="575.1" rx="2.4" ry="2.7" fill="#34287a" transform="rotate(138 382.1 575.2)"/>
<ellipse cx="387.7" cy="577.6" rx="1.6" ry="1.9" fill="#4a3e92" transform="rotate(108 388.2 577.3)"/>
<ellipse cx="393.7" cy="576.2" rx="2.3" ry="2.1" fill="#5a4c9a" transform="rotate(156 394.1 576.2)"/>
<ellipse cx="399.1" cy="576.7" rx="2.9" ry="3.3" fill="#4a3e92" transform="rotate(52 399.5 577.1)"/>
<ellipse cx="348.6" cy="577.1" rx="2.3" ry="2.4" fill="#4a3e92" transform="rotate(11 348.4 577.6)"/>
<ellipse cx="365.9" cy="578.3" rx="1.5" ry="1.7" fill="#3e3488" transform="rotate(156 366.1 578.4)"/>
<ellipse cx="371.0" cy="578.0" rx="1.7" ry="1.7" fill="#5a4c9a" transform="rotate(170 371.3 578.5)"/>
<ellipse cx="384.6" cy="577.8" rx="3.0" ry="2.8" fill="#34287a" transform="rotate(143 384.9 578.1)"/>
<ellipse cx="392.2" cy="578.1" rx="1.9" ry="2.1" fill="#4a3e92" transform="rotate(102 391.9 578.4)"/>
<ellipse cx="396.8" cy="578.9" rx="2.2" ry="2.3" fill="#3e3488" transform="rotate(137 397.1 578.9)"/>
<ellipse cx="374.5" cy="569.5" rx="1.8" ry="2.2" fill="#c27c98" opacity="0.8"/>
<ellipse cx="376.2" cy="566.5" rx="1.9" ry="2.6" fill="#c27c98" opacity="0.8"/>
<ellipse cx="377.9" cy="565.8" rx="2.1" ry="2.7" fill="#c27c98" opacity="0.8"/>
<ellipse cx="357.8" cy="570.3" rx="2.8" ry="3.9" fill="#c8dcc4" opacity="0.8"/>
<ellipse cx="357.8" cy="576.0" rx="2.2" ry="1.3" fill="#c8dcc4" opacity="0.8"/>
</g></g>
</g>
<g clip-path="url(#t20)">
<rect x="61.20" y="615.00" width="113.80" height="84.40" fill="#c8c8c6"/>
<g filter="url(#b4)">
<path d="M60,652 C63,644 69,637 77,632 C85,627 95,624 105,622.8 C111,622.2 117,622 123,621.8 L176,621.5 L176,700 L60,700 Z" fill="#7c72b4"/>
</g>
<g clip-path="url(#disc)">
<rect x="61.20" y="615.00" width="113.80" height="84.40" fill="#000" filter="url(#msp_p)"/>
</g>
<g clip-path="url(#disc)">
<rect x="61.20" y="615.00" width="113.80" height="84.40" fill="#000" filter="url(#msp_b)"/>
</g>
<g clip-path="url(#disc)">
<rect x="61.20" y="615.00" width="113.80" height="84.40" fill="#000" filter="url(#fsp_l)"/>
</g>
<g clip-path="url(#disc)">
<rect x="61.20" y="615.00" width="113.80" height="84.40" fill="#000" filter="url(#fsp_d)"/>
</g>
<g clip-path="url(#i20)"><g filter="url(#b5)">
<rect x="119.40" y="614.00" width="56.60" height="51.60" fill="#c4bee4"/>
<path d="M122.7,614.5 L119.9,614.5 L119.9,615.6Z" fill="#8c80ba" stroke="#c4bee4" stroke-width="1.2"/>
<path d="M125.7,616.6 L129.2,614.5 L123.3,614.5Z" fill="#8078b6" stroke="#c4bee4" stroke-width="1.2"/>
<path d="M133.0,614.6 L133.1,614.5 L132.6,614.5Z" fill="#8078b6" stroke="#c4bee4" stroke-width="1.2"/>
<path d="M146.1,614.5 L141.9,614.5 L144.0,615.5 L146.1,614.5Z" fill="#7670ae" stroke="#c4bee4" stroke-width="1.2"/>
<path d="M146.1,614.5 L151.1,616.4 L152.4,615.3 L152.2,614.5 L146.1,614.5Z" fill="#8078b6" stroke="#c4bee4" stroke-width="1.2"/>
<path d="M157.4,614.5 L152.2,614.5 L152.4,615.3 L154.9,615.6Z" fill="#8c80ba" stroke="#c4bee4" stroke-width="1.2"/>
<path d="M160.0,615.7 L164.5,616.2 L164.2,614.5 L158.7,614.5Z" fill="#8078b6" stroke="#c4bee4" stroke-width="1.2"/>
<path d="M164.5,616.2 L166.4,617.4 L168.7,615.8 L169.0,614.5 L164.2,614.5Z" fill="#7670ae" stroke="#c4bee4" stroke-width="1.2"/>
<path d="M168.7,615.8 L173.2,617.7 L173.7,617.6 L175.3,614.5 L169.0,614.5Z" fill="#7670ae" stroke="#c4bee4" stroke-width="1.2"/>
<path d="M119.9,615.6 L119.9,619.4 L122.0,621.4 L125.8,619.3 L125.7,616.6 L123.3,614.5 L122.7,614.5Z" fill="#8078b6" stroke="#c4bee4" stroke-width="1.2"/>
<path d="M132.6,614.5 L129.2,614.5 L125.7,616.6 L125.8,619.3 L126.0,619.6 L133.9,619.7 L133.0,614.6Z" fill="#7670ae" stroke="#c4bee4" stroke-width="1.2"/>
<path d="M138.4,620.2 L139.9,614.5 L133.1,614.5 L133.0,614.6 L133.9,619.7 L134.7,620.7 L138.2,620.4Z" fill="#7670ae" stroke="#c4bee4" stroke-width="1.2"/>
<path d="M138.4,620.2 L144.5,620.1 L144.0,615.5 L141.9,614.5 L139.9,614.5Z" fill="#8c80ba" stroke="#c4bee4" stroke-width="1.2"/>
<path d="M149.8,620.2 L151.1,616.4 L146.1,614.5 L144.0,615.5 L144.5,620.1 L146.1,621.7Z" fill="#8078b6" stroke="#c4bee4" stroke-width="1.2"/>
<path d="M152.4,615.3 L151.1,616.4 L149.8,620.2 L153.1,623.2 L156.6,621.1 L154.9,615.6Z" fill="#8c80ba" stroke="#c4bee4" stroke-width="1.2"/>
<path d="M156.6,621.1 L157.1,621.2 L159.9,619.8 L160.0,615.7 L158.7,614.5 L157.4,614.5 L154.9,615.6Z" fill="#8078b6" stroke="#c4bee4" stroke-width="1.2"/>
<path d="M160.0,615.7 L159.9,619.8 L163.6,621.7 L166.0,620.0 L166.4,617.4 L164.5,616.2Z" fill="#7670ae" stroke="#c4bee4" stroke-width="1.2"/>
<path d="M166.0,620.0 L168.8,622.6 L171.1,623.7 L171.8,623.2 L173.2,617.7 L168.7,615.8 L166.4,617.4Z" fill="#8c80ba" stroke="#c4bee4" stroke-width="1.2"/>
<path d="M175.5,618.6 L175.5,614.5 L175.3,614.5 L173.7,617.6Z" fill="#7670ae" stroke="#c4bee4" stroke-width="1.2"/>
<path d="M120.1,624.7 L122.0,621.4 L119.9,619.4 L119.9,624.8Z" fill="#7670ae" stroke="#c4bee4" stroke-width="1.2"/>
<path d="M128.3,625.3 L126.0,619.6 L125.8,619.3 L122.0,621.4 L120.1,624.7 L127.0,627.1Z" fill="#7670ae" stroke="#c4bee4" stroke-width="1.2"/>
<path d="M134.7,620.7 L133.9,619.7 L126.0,619.6 L128.3,625.3 L132.8,624.7 L133.1,624.4Z" fill="#8c80ba" stroke="#c4bee4" stroke-width="1.2"/>
<path d="M138.2,620.4 L134.7,620.7 L133.1,624.4 L138.6,627.7 L139.7,623.9Z" fill="#8c80ba" stroke="#c4bee4" stroke-width="1.2"/>
<path d="M145.4,624.1 L146.1,621.7 L144.5,620.1 L138.4,620.2 L138.2,620.4 L139.7,623.9Z" fill="#7670ae" stroke="#c4bee4" stroke-width="1.2"/>
<path d="M145.4,624.1 L145.7,625.7 L151.2,627.3 L153.2,625.4 L153.1,623.2 L149.8,620.2 L146.1,621.7Z" fill="#8078b6" stroke="#c4bee4" stroke-width="1.2"/>
<path d="M156.6,621.1 L153.1,623.2 L153.2,625.4 L155.0,626.4 L159.4,625.0 L157.1,621.2Z" fill="#8c80ba" stroke="#c4bee4" stroke-width="1.2"/>
<path d="M159.4,625.0 L160.4,625.4 L162.6,624.7 L163.6,621.7 L159.9,619.8 L157.1,621.2Z" fill="#8c80ba" stroke="#c4bee4" stroke-width="1.2"/>
<path d="M162.6,624.7 L165.0,627.3 L168.8,622.6 L166.0,620.0 L163.6,621.7Z" fill="#8078b6" stroke="#c4bee4" stroke-width="1.2"/>
<path d="M171.8,623.2 L175.4,623.6 L175.5,622.9 L175.5,618.6 L173.7,617.6 L173.2,617.7Z" fill="#8078b6" stroke="#c4bee4" stroke-width="1.2"/>
<path d="M175.4,623.6 L175.5,623.7 L175.5,622.9Z" fill="#8c80ba" stroke="#c4bee4" stroke-width="1.2"/>
<path d="M122.1,631.4 L126.8,630.5 L127.0,627.1 L120.1,624.7 L119.9,624.8 L119.9,629.2Z" fill="#8078b6" stroke="#c4bee4" stroke-width="1.2"/>
<path d="M133.2,629.1 L132.8,624.7 L128.3,625.3 L127.0,627.1 L126.8,630.5 L127.9,631.8Z" fill="#7670ae" stroke="#c4bee4" stroke-width="1.2"/>
<path d="M133.1,624.4 L132.8,624.7 L133.2,629.1 L134.8,630.5 L139.0,628.7 L138.6,627.7Z" fill="#8c80ba" stroke="#c4bee4" stroke-width="1.2"/>
<path d="M138.6,627.7 L139.0,628.7 L139.4,629.0 L144.8,627.5 L145.7,625.7 L145.4,624.1 L139.7,623.9Z" fill="#8c80ba" stroke="#c4bee4" stroke-width="1.2"/>
<path d="M146.6,632.5 L147.6,632.9 L151.2,631.3 L151.2,627.3 L145.7,625.7 L144.8,627.5Z" fill="#8c80ba" stroke="#c4bee4" stroke-width="1.2"/>
<path d="M155.0,626.4 L153.2,625.4 L151.2,627.3 L151.2,631.3 L151.7,631.6 L156.4,630.3 L156.6,629.7Z" fill="#8078b6" stroke="#c4bee4" stroke-width="1.2"/>
<path d="M159.4,625.0 L155.0,626.4 L156.6,629.7 L159.6,628.5 L160.4,625.4Z" fill="#8c80ba" stroke="#c4bee4" stroke-width="1.2"/>
<path d="M159.6,628.5 L162.5,631.8 L165.5,628.2 L165.0,627.3 L162.6,624.7 L160.4,625.4Z" fill="#7670ae" stroke="#c4bee4" stroke-width="1.2"/>
<path d="M170.7,628.6 L171.1,623.7 L168.8,622.6 L165.0,627.3 L165.5,628.2 L170.0,629.4Z" fill="#8c80ba" stroke="#c4bee4" stroke-width="1.2"/>
<path d="M175.5,628.6 L175.5,623.7 L175.4,623.6 L171.8,623.2 L171.1,623.7 L170.7,628.6Z" fill="#7670ae" stroke="#c4bee4" stroke-width="1.2"/>
<path d="M120.0,636.2 L122.1,631.4 L119.9,629.2 L119.9,636.2Z" fill="#8c80ba" stroke="#c4bee4" stroke-width="1.2"/>
<path d="M126.8,630.5 L122.1,631.4 L120.0,636.2 L121.0,637.3 L125.7,636.2 L128.2,632.5 L127.9,631.8Z" fill="#8c80ba" stroke="#c4bee4" stroke-width="1.2"/>
<path d="M128.2,632.5 L131.7,635.1 L133.8,634.9 L134.8,630.5 L133.2,629.1 L127.9,631.8Z" fill="#8078b6" stroke="#c4bee4" stroke-width="1.2"/>
<path d="M139.4,629.0 L139.0,628.7 L134.8,630.5 L133.8,634.9 L137.1,636.5 L140.3,634.5Z" fill="#8c80ba" stroke="#c4bee4" stroke-width="1.2"/>
<path d="M141.8,634.9 L146.6,632.5 L144.8,627.5 L139.4,629.0 L140.3,634.5Z" fill="#8078b6" stroke="#c4bee4" stroke-width="1.2"/>
<path d="M151.7,631.6 L151.2,631.3 L147.6,632.9 L149.3,639.1 L154.5,636.3Z" fill="#7670ae" stroke="#c4bee4" stroke-width="1.2"/>
<path d="M151.7,631.6 L154.5,636.3 L156.3,636.6 L158.5,635.0 L156.4,630.3Z" fill="#8c80ba" stroke="#c4bee4" stroke-width="1.2"/>
<path d="M156.6,629.7 L156.4,630.3 L158.5,635.0 L162.2,634.8 L162.5,631.8 L159.6,628.5Z" fill="#8c80ba" stroke="#c4bee4" stroke-width="1.2"/>
<path d="M162.2,634.8 L162.3,634.9 L165.9,635.2 L170.2,633.5 L170.0,629.4 L165.5,628.2 L162.5,631.8Z" fill="#8c80ba" stroke="#c4bee4" stroke-width="1.2"/>
<path d="M170.7,628.6 L170.0,629.4 L170.2,633.5 L170.7,633.9 L174.5,633.3 L175.5,632.7 L175.5,628.6Z" fill="#8c80ba" stroke="#c4bee4" stroke-width="1.2"/>
<path d="M174.5,633.3 L175.5,635.1 L175.5,632.7Z" fill="#8078b6" stroke="#c4bee4" stroke-width="1.2"/>
<path d="M119.9,636.2 L119.9,641.5 L121.3,639.0 L121.0,637.3 L120.0,636.2Z" fill="#8078b6" stroke="#c4bee4" stroke-width="1.2"/>
<path d="M125.7,636.2 L121.0,637.3 L121.3,639.0 L126.1,642.1 L128.1,641.1Z" fill="#7670ae" stroke="#c4bee4" stroke-width="1.2"/>
<path d="M131.7,635.1 L128.2,632.5 L125.7,636.2 L128.1,641.1 L129.6,641.0Z" fill="#8c80ba" stroke="#c4bee4" stroke-width="1.2"/>
<path d="M134.9,640.3 L137.1,637.5 L137.1,636.5 L133.8,634.9 L131.7,635.1 L129.6,641.0 L130.1,641.4Z" fill="#7670ae" stroke="#c4bee4" stroke-width="1.2"/>
<path d="M137.1,636.5 L137.1,637.5 L139.3,641.4 L143.9,638.9 L141.8,634.9 L140.3,634.5Z" fill="#7670ae" stroke="#c4bee4" stroke-width="1.2"/>
<path d="M143.9,638.9 L146.9,641.0 L149.0,639.9 L149.3,639.1 L147.6,632.9 L146.6,632.5 L141.8,634.9Z" fill="#8078b6" stroke="#c4bee4" stroke-width="1.2"/>
<path d="M149.3,639.1 L149.0,639.9 L153.3,643.5 L156.8,639.6 L156.3,636.6 L154.5,636.3Z" fill="#7670ae" stroke="#c4bee4" stroke-width="1.2"/>
<path d="M156.3,636.6 L156.8,639.6 L159.6,642.1 L162.7,640.9 L162.3,634.9 L162.2,634.8 L158.5,635.0Z" fill="#8078b6" stroke="#c4bee4" stroke-width="1.2"/>
<path d="M168.0,641.5 L165.9,635.2 L162.3,634.9 L162.7,640.9 L162.7,640.9Z" fill="#8c80ba" stroke="#c4bee4" stroke-width="1.2"/>
<path d="M165.9,635.2 L168.0,641.5 L169.8,642.6 L172.7,639.7 L170.7,633.9 L170.2,633.5Z" fill="#8c80ba" stroke="#c4bee4" stroke-width="1.2"/>
<path d="M174.5,633.3 L170.7,633.9 L172.7,639.7 L175.5,639.8 L175.5,635.1Z" fill="#8078b6" stroke="#c4bee4" stroke-width="1.2"/>
<path d="M121.3,639.0 L119.9,641.5 L119.9,644.2 L123.2,646.2 L124.3,646.1 L126.1,642.1Z" fill="#7670ae" stroke="#c4bee4" stroke-width="1.2"/>
<path d="M130.1,641.4 L129.6,641.0 L128.1,641.1 L126.1,642.1 L124.3,646.1 L127.0,649.0 L130.9,643.0Z" fill="#7670ae" stroke="#c4bee4" stroke-width="1.2"/>
<path d="M131.6,643.7 L136.1,644.7 L134.9,640.3 L130.1,641.4 L130.9,643.0Z" fill="#8c80ba" stroke="#c4bee4" stroke-width="1.2"/>
<path d="M139.4,645.4 L139.3,641.4 L137.1,637.5 L134.9,640.3 L136.1,644.7 L138.3,646.3Z" fill="#7670ae" stroke="#c4bee4" stroke-width="1.2"/>
<path d="M143.9,645.2 L145.4,644.7 L146.9,641.0 L143.9,638.9 L139.3,641.4 L139.4,645.4Z" fill="#8078b6" stroke="#c4bee4" stroke-width="1.2"/>
<path d="M153.7,644.9 L153.3,643.5 L149.0,639.9 L146.9,641.0 L145.4,644.7 L149.7,649.5Z" fill="#8c80ba" stroke="#c4bee4" stroke-width="1.2"/>
<path d="M159.6,642.1 L156.8,639.6 L153.3,643.5 L153.7,644.9 L155.5,645.5 L158.7,645.2Z" fill="#8078b6" stroke="#c4bee4" stroke-width="1.2"/>
<path d="M162.7,640.9 L162.7,640.9 L159.6,642.1 L158.7,645.2 L159.3,645.8 L163.4,644.3Z" fill="#7670ae" stroke="#c4bee4" stroke-width="1.2"/>
<path d="M165.5,647.2 L168.1,646.4 L169.7,644.2 L169.8,642.6 L168.0,641.5 L162.7,640.9 L163.4,644.3Z" fill="#8c80ba" stroke="#c4bee4" stroke-width="1.2"/>
<path d="M172.7,639.7 L169.8,642.6 L169.7,644.2 L174.5,647.0 L175.5,646.9 L175.5,639.8Z" fill="#8078b6" stroke="#c4bee4" stroke-width="1.2"/>
<path d="M119.9,644.2 L119.9,649.6 L120.4,649.7 L123.2,646.2Z" fill="#8c80ba" stroke="#c4bee4" stroke-width="1.2"/>
<path d="M124.3,646.1 L123.2,646.2 L120.4,649.7 L122.1,652.7 L127.2,649.5 L127.0,649.0Z" fill="#7670ae" stroke="#c4bee4" stroke-width="1.2"/>
<path d="M127.0,649.0 L127.2,649.5 L127.5,649.7 L131.7,649.2 L131.6,643.7 L130.9,643.0Z" fill="#8078b6" stroke="#c4bee4" stroke-width="1.2"/>
<path d="M131.7,649.2 L134.9,650.4 L137.3,649.6 L138.3,646.3 L136.1,644.7 L131.6,643.7Z" fill="#8c80ba" stroke="#c4bee4" stroke-width="1.2"/>
<path d="M137.3,649.6 L138.8,651.3 L143.7,650.8 L143.9,645.2 L139.4,645.4 L138.3,646.3Z" fill="#8c80ba" stroke="#c4bee4" stroke-width="1.2"/>
<path d="M149.7,649.5 L145.4,644.7 L143.9,645.2 L143.7,650.8 L146.7,652.6 L149.8,649.8Z" fill="#8078b6" stroke="#c4bee4" stroke-width="1.2"/>
<path d="M155.5,645.5 L153.7,644.9 L149.7,649.5 L149.8,649.8 L152.3,651.8 L156.5,651.6Z" fill="#7670ae" stroke="#c4bee4" stroke-width="1.2"/>
<path d="M158.7,645.2 L155.5,645.5 L156.5,651.6 L157.3,651.9 L161.0,649.2 L159.3,645.8Z" fill="#8078b6" stroke="#c4bee4" stroke-width="1.2"/>
<path d="M159.3,645.8 L161.0,649.2 L163.0,649.5 L165.5,647.2 L163.4,644.3Z" fill="#8078b6" stroke="#c4bee4" stroke-width="1.2"/>
<path d="M174.5,647.0 L169.7,644.2 L168.1,646.4 L169.7,650.3 L173.6,649.7Z" fill="#8078b6" stroke="#c4bee4" stroke-width="1.2"/>
<path d="M175.5,652.1 L175.5,646.9 L174.5,647.0 L173.6,649.7 L174.7,652.1Z" fill="#8c80ba" stroke="#c4bee4" stroke-width="1.2"/>
<path d="M119.9,649.6 L119.9,655.7 L120.6,656.0 L121.4,655.5 L122.1,652.7 L120.4,649.7Z" fill="#8078b6" stroke="#c4bee4" stroke-width="1.2"/>
<path d="M127.2,649.5 L122.1,652.7 L121.4,655.5 L124.8,656.3 L128.2,654.8 L127.5,649.7Z" fill="#8078b6" stroke="#c4bee4" stroke-width="1.2"/>
<path d="M127.5,649.7 L128.2,654.8 L130.2,656.0 L133.3,654.0 L134.9,650.4 L131.7,649.2Z" fill="#8c80ba" stroke="#c4bee4" stroke-width="1.2"/>
<path d="M133.3,654.0 L137.1,658.3 L138.0,658.3 L139.8,654.8 L138.8,651.3 L137.3,649.6 L134.9,650.4Z" fill="#8078b6" stroke="#c4bee4" stroke-width="1.2"/>
<path d="M143.7,650.8 L138.8,651.3 L139.8,654.8 L145.0,655.8 L145.9,655.3 L146.7,652.6Z" fill="#8c80ba" stroke="#c4bee4" stroke-width="1.2"/>
<path d="M149.8,649.8 L146.7,652.6 L145.9,655.3 L150.5,658.4 L152.3,655.7 L152.3,651.8Z" fill="#8078b6" stroke="#c4bee4" stroke-width="1.2"/>
<path d="M152.3,651.8 L152.3,655.7 L156.5,656.6 L158.1,654.6 L157.3,651.9 L156.5,651.6Z" fill="#8c80ba" stroke="#c4bee4" stroke-width="1.2"/>
<path d="M161.0,649.2 L157.3,651.9 L158.1,654.6 L161.6,656.3 L165.1,654.6 L163.0,649.5Z" fill="#7670ae" stroke="#c4bee4" stroke-width="1.2"/>
<path d="M168.1,646.4 L165.5,647.2 L163.0,649.5 L165.1,654.6 L166.3,655.0 L169.2,654.0 L169.7,650.3Z" fill="#8078b6" stroke="#c4bee4" stroke-width="1.2"/>
<path d="M173.6,649.7 L169.7,650.3 L169.2,654.0 L172.3,655.3 L174.7,652.1Z" fill="#8078b6" stroke="#c4bee4" stroke-width="1.2"/>
<path d="M174.7,652.1 L172.3,655.3 L173.2,656.8 L175.5,657.1 L175.5,652.1Z" fill="#8c80ba" stroke="#c4bee4" stroke-width="1.2"/>
<path d="M120.6,656.0 L119.9,655.7 L119.9,659.8Z" fill="#8078b6" stroke="#c4bee4" stroke-width="1.2"/>
<path d="M119.9,659.8 L119.9,660.0 L120.4,661.2 L124.2,663.2 L125.8,660.0 L124.8,656.3 L121.4,655.5 L120.6,656.0Z" fill="#8c80ba" stroke="#c4bee4" stroke-width="1.2"/>
<path d="M130.8,659.1 L130.2,656.0 L128.2,654.8 L124.8,656.3 L125.8,660.0 L130.6,659.2Z" fill="#7670ae" stroke="#c4bee4" stroke-width="1.2"/>
<path d="M132.7,660.2 L137.1,658.3 L133.3,654.0 L130.2,656.0 L130.8,659.1Z" fill="#8078b6" stroke="#c4bee4" stroke-width="1.2"/>
<path d="M139.8,654.8 L138.0,658.3 L139.4,660.7 L143.8,660.9 L145.0,655.8Z" fill="#8078b6" stroke="#c4bee4" stroke-width="1.2"/>
<path d="M145.0,655.8 L143.8,660.9 L146.2,663.6 L146.4,663.6 L150.9,660.4 L150.5,658.4 L145.9,655.3Z" fill="#7670ae" stroke="#c4bee4" stroke-width="1.2"/>
<path d="M152.3,655.7 L150.5,658.4 L150.9,660.4 L151.0,660.5 L156.2,661.0 L156.5,656.6Z" fill="#7670ae" stroke="#c4bee4" stroke-width="1.2"/>
<path d="M156.2,661.0 L157.5,662.1 L161.2,658.6 L161.6,656.3 L158.1,654.6 L156.5,656.6Z" fill="#8078b6" stroke="#c4bee4" stroke-width="1.2"/>
<path d="M165.1,654.6 L161.6,656.3 L161.2,658.6 L165.6,662.5 L167.1,661.3 L166.3,655.0Z" fill="#8078b6" stroke="#c4bee4" stroke-width="1.2"/>
<path d="M166.3,655.0 L167.1,661.3 L169.9,661.7 L171.7,661.2 L173.2,656.8 L172.3,655.3 L169.2,654.0Z" fill="#8c80ba" stroke="#c4bee4" stroke-width="1.2"/>
<path d="M173.2,656.8 L171.7,661.2 L173.9,663.0 L174.7,663.1 L175.5,662.4 L175.5,657.1Z" fill="#7670ae" stroke="#c4bee4" stroke-width="1.2"/>
<path d="M120.4,661.2 L119.9,660.0 L119.9,661.8Z" fill="#8078b6" stroke="#c4bee4" stroke-width="1.2"/>
<path d="M124.7,664.1 L124.2,663.2 L120.4,661.2 L119.9,661.8 L119.9,665.1 L123.0,665.1Z" fill="#7670ae" stroke="#c4bee4" stroke-width="1.2"/>
<path d="M125.8,660.0 L124.2,663.2 L124.7,664.1 L125.7,665.1 L125.9,665.1 L127.8,664.1 L130.6,659.2Z" fill="#8c80ba" stroke="#c4bee4" stroke-width="1.2"/>
<path d="M127.8,664.1 L133.4,664.3 L132.7,660.2 L130.8,659.1 L130.6,659.2Z" fill="#8078b6" stroke="#c4bee4" stroke-width="1.2"/>
<path d="M133.4,664.3 L133.5,664.5 L136.4,664.8 L138.3,663.9 L139.4,660.7 L138.0,658.3 L137.1,658.3 L132.7,660.2Z" fill="#7670ae" stroke="#c4bee4" stroke-width="1.2"/>
<path d="M139.6,665.1 L145.0,665.1 L146.2,663.6 L143.8,660.9 L139.4,660.7 L138.3,663.9Z" fill="#7670ae" stroke="#c4bee4" stroke-width="1.2"/>
<path d="M150.9,660.4 L146.4,663.6 L147.7,665.1 L152.4,665.1 L151.0,660.5Z" fill="#8078b6" stroke="#c4bee4" stroke-width="1.2"/>
<path d="M158.2,664.3 L157.5,662.1 L156.2,661.0 L151.0,660.5 L152.4,665.1 L157.9,665.1Z" fill="#7670ae" stroke="#c4bee4" stroke-width="1.2"/>
<path d="M158.2,664.3 L164.8,663.9 L165.6,662.5 L161.2,658.6 L157.5,662.1Z" fill="#8c80ba" stroke="#c4bee4" stroke-width="1.2"/>
<path d="M169.9,661.7 L167.1,661.3 L165.6,662.5 L164.8,663.9 L165.1,665.1 L169.9,665.1Z" fill="#8c80ba" stroke="#c4bee4" stroke-width="1.2"/>
<path d="M173.9,663.0 L171.7,661.2 L169.9,661.7 L169.9,665.1 L173.1,665.1Z" fill="#7670ae" stroke="#c4bee4" stroke-width="1.2"/>
<path d="M174.7,663.1 L175.5,663.9 L175.5,662.4Z" fill="#8078b6" stroke="#c4bee4" stroke-width="1.2"/>
<path d="M124.7,664.1 L123.0,665.1 L125.7,665.1Z" fill="#7670ae" stroke="#c4bee4" stroke-width="1.2"/>
<path d="M133.5,664.5 L133.4,664.3 L127.8,664.1 L125.9,665.1 L133.3,665.1Z" fill="#8078b6" stroke="#c4bee4" stroke-width="1.2"/>
<path d="M136.4,664.8 L133.5,664.5 L133.3,665.1 L136.4,665.1Z" fill="#7670ae" stroke="#c4bee4" stroke-width="1.2"/>
<path d="M136.4,665.1 L139.6,665.1 L138.3,663.9 L136.4,664.8Z" fill="#8c80ba" stroke="#c4bee4" stroke-width="1.2"/>
<path d="M146.4,663.6 L146.2,663.6 L145.0,665.1 L147.7,665.1Z" fill="#8078b6" stroke="#c4bee4" stroke-width="1.2"/>
<path d="M164.8,663.9 L158.2,664.3 L157.9,665.1 L165.1,665.1Z" fill="#8078b6" stroke="#c4bee4" stroke-width="1.2"/>
<path d="M174.7,663.1 L173.9,663.0 L173.1,665.1 L175.5,665.1 L175.5,663.9Z" fill="#7670ae" stroke="#c4bee4" stroke-width="1.2"/>
<ellipse cx="121.0" cy="614.5" rx="1.8" ry="1.4" fill="#52448e" transform="rotate(176 120.8 614.9)"/>
<ellipse cx="125.8" cy="614.7" rx="1.8" ry="1.5" fill="#3c3482" transform="rotate(66 126.1 615.2)"/>
<ellipse cx="132.5" cy="614.9" rx="1.7" ry="1.6" fill="#463c8c" transform="rotate(86 132.9 614.5)"/>
<ellipse cx="144.1" cy="614.4" rx="1.8" ry="2.0" fill="#34286e" transform="rotate(28 144.0 614.8)"/>
<ellipse cx="149.7" cy="615.0" rx="1.7" ry="1.5" fill="#463c8c" transform="rotate(52 150.0 615.1)"/>
<ellipse cx="154.2" cy="615.2" rx="1.9" ry="2.2" fill="#463c8c" transform="rotate(9 154.4 614.9)"/>
<ellipse cx="162.0" cy="614.9" rx="1.5" ry="1.4" fill="#463c8c" transform="rotate(168 162.0 615.2)"/>
<ellipse cx="166.6" cy="616.0" rx="1.8" ry="2.2" fill="#52448e" transform="rotate(78 166.5 615.6)"/>
<ellipse cx="171.9" cy="616.0" rx="1.7" ry="1.9" fill="#463c8c" transform="rotate(162 172.1 615.7)"/>
<ellipse cx="123.2" cy="618.1" rx="1.8" ry="1.4" fill="#34286e" transform="rotate(160 122.7 617.8)"/>
<ellipse cx="129.5" cy="616.9" rx="2.1" ry="2.3" fill="#52448e" transform="rotate(129 129.9 617.3)"/>
<ellipse cx="136.5" cy="616.8" rx="2.1" ry="1.8" fill="#463c8c" transform="rotate(68 136.3 617.2)"/>
<ellipse cx="142.0" cy="618.1" rx="1.6" ry="1.6" fill="#34286e" transform="rotate(62 141.6 617.6)"/>
<ellipse cx="146.9" cy="617.6" rx="2.1" ry="1.9" fill="#34286e" transform="rotate(21 147.2 617.9)"/>
<ellipse cx="153.0" cy="619.4" rx="1.8" ry="1.4" fill="#463c8c" transform="rotate(22 153.2 619.2)"/>
<ellipse cx="157.6" cy="617.4" rx="1.7" ry="1.7" fill="#3c3482" transform="rotate(21 157.7 617.6)"/>
<ellipse cx="163.1" cy="618.7" rx="2.0" ry="2.3" fill="#463c8c" transform="rotate(99 163.0 618.5)"/>
<ellipse cx="169.3" cy="619.7" rx="2.0" ry="2.1" fill="#52448e" transform="rotate(11 169.7 619.5)"/>
<ellipse cx="175.1" cy="617.1" rx="1.8" ry="1.5" fill="#52448e" transform="rotate(134 174.9 616.8)"/>
<ellipse cx="120.9" cy="622.1" rx="1.8" ry="2.1" fill="#3c3482" transform="rotate(174 120.6 622.0)"/>
<ellipse cx="124.1" cy="623.1" rx="1.9" ry="1.8" fill="#3c3482" transform="rotate(26 124.6 623.5)"/>
<ellipse cx="130.6" cy="622.2" rx="2.0" ry="2.2" fill="#3c3482" transform="rotate(125 130.4 622.1)"/>
<ellipse cx="137.0" cy="623.7" rx="1.6" ry="1.6" fill="#3c3482" transform="rotate(168 136.7 623.7)"/>
<ellipse cx="142.0" cy="621.6" rx="1.5" ry="1.3" fill="#52448e" transform="rotate(52 142.3 622.0)"/>
<ellipse cx="149.3" cy="623.8" rx="2.0" ry="1.9" fill="#52448e" transform="rotate(175 149.3 623.9)"/>
<ellipse cx="155.5" cy="623.6" rx="1.7" ry="1.4" fill="#463c8c" transform="rotate(177 156.0 624.0)"/>
<ellipse cx="160.0" cy="622.1" rx="1.7" ry="1.5" fill="#463c8c" transform="rotate(172 160.5 622.5)"/>
<ellipse cx="165.3" cy="623.5" rx="1.8" ry="1.7" fill="#52448e" transform="rotate(119 165.5 623.4)"/>
<ellipse cx="173.8" cy="620.5" rx="1.6" ry="1.6" fill="#463c8c" transform="rotate(74 174.0 620.9)"/>
<ellipse cx="176.0" cy="623.3" rx="1.3" ry="1.5" fill="#52448e" transform="rotate(53 175.5 623.4)"/>
<ellipse cx="123.4" cy="628.0" rx="1.9" ry="1.7" fill="#463c8c" transform="rotate(154 123.2 628.3)"/>
<ellipse cx="130.1" cy="627.7" rx="1.9" ry="2.2" fill="#3c3482" transform="rotate(124 129.9 628.0)"/>
<ellipse cx="135.7" cy="627.9" rx="1.4" ry="1.3" fill="#3c3482" transform="rotate(36 135.3 627.7)"/>
<ellipse cx="141.6" cy="626.0" rx="1.7" ry="1.5" fill="#34286e" transform="rotate(86 142.0 626.2)"/>
<ellipse cx="148.3" cy="629.6" rx="1.7" ry="1.5" fill="#463c8c" transform="rotate(95 148.1 629.2)"/>
<ellipse cx="153.4" cy="628.6" rx="1.6" ry="1.4" fill="#3c3482" transform="rotate(12 153.5 628.7)"/>
<ellipse cx="158.0" cy="626.8" rx="1.2" ry="1.4" fill="#34286e" transform="rotate(111 157.8 627.2)"/>
<ellipse cx="162.7" cy="627.9" rx="1.6" ry="1.2" fill="#34286e" transform="rotate(161 162.4 628.0)"/>
<ellipse cx="168.8" cy="625.9" rx="1.9" ry="2.1" fill="#463c8c" transform="rotate(115 168.6 626.3)"/>
<ellipse cx="173.2" cy="626.4" rx="2.0" ry="2.0" fill="#34286e" transform="rotate(43 173.2 626.0)"/>
<ellipse cx="120.4" cy="632.6" rx="1.8" ry="2.2" fill="#34286e" transform="rotate(66 120.6 632.3)"/>
<ellipse cx="124.0" cy="634.0" rx="2.0" ry="1.6" fill="#34286e" transform="rotate(164 124.0 633.8)"/>
<ellipse cx="131.9" cy="632.2" rx="1.5" ry="1.4" fill="#52448e" transform="rotate(115 131.9 632.2)"/>
<ellipse cx="137.0" cy="632.4" rx="1.7" ry="1.7" fill="#463c8c" transform="rotate(81 137.2 632.7)"/>
<ellipse cx="143.2" cy="631.5" rx="1.8" ry="1.7" fill="#463c8c" transform="rotate(105 142.8 631.2)"/>
<ellipse cx="150.5" cy="635.3" rx="1.9" ry="1.8" fill="#52448e" transform="rotate(147 150.8 635.0)"/>
<ellipse cx="154.9" cy="633.8" rx="1.6" ry="1.4" fill="#463c8c" transform="rotate(165 155.3 633.4)"/>
<ellipse cx="160.0" cy="632.3" rx="1.7" ry="1.3" fill="#34286e" transform="rotate(8 159.6 631.9)"/>
<ellipse cx="166.8" cy="632.0" rx="2.0" ry="1.5" fill="#52448e" transform="rotate(135 166.3 632.0)"/>
<ellipse cx="173.0" cy="630.8" rx="2.1" ry="1.7" fill="#463c8c" transform="rotate(174 172.7 631.0)"/>
<ellipse cx="174.7" cy="634.0" rx="1.5" ry="1.2" fill="#52448e" transform="rotate(32 175.2 633.7)"/>
<ellipse cx="120.6" cy="638.5" rx="1.9" ry="1.5" fill="#3c3482" transform="rotate(64 120.4 638.7)"/>
<ellipse cx="124.2" cy="638.8" rx="1.7" ry="2.0" fill="#3c3482" transform="rotate(49 124.6 639.0)"/>
<ellipse cx="128.2" cy="636.6" rx="1.8" ry="1.7" fill="#3c3482" transform="rotate(80 128.7 636.8)"/>
<ellipse cx="133.3" cy="637.8" rx="2.0" ry="1.8" fill="#463c8c" transform="rotate(105 133.3 638.1)"/>
<ellipse cx="139.8" cy="637.8" rx="1.9" ry="2.0" fill="#3c3482" transform="rotate(107 140.3 637.8)"/>
<ellipse cx="146.4" cy="636.4" rx="1.8" ry="1.3" fill="#52448e" transform="rotate(86 146.0 636.7)"/>
<ellipse cx="153.0" cy="639.9" rx="1.8" ry="2.0" fill="#52448e" transform="rotate(129 153.3 639.6)"/>
<ellipse cx="159.6" cy="638.5" rx="1.7" ry="1.5" fill="#463c8c" transform="rotate(56 159.8 638.2)"/>
<ellipse cx="164.4" cy="638.4" rx="1.9" ry="1.9" fill="#34286e" transform="rotate(57 164.8 638.3)"/>
<ellipse cx="169.8" cy="637.5" rx="1.8" ry="1.7" fill="#3c3482" transform="rotate(54 169.4 637.9)"/>
<ellipse cx="173.4" cy="636.7" rx="2.0" ry="1.6" fill="#463c8c" transform="rotate(115 173.5 636.5)"/>
<ellipse cx="123.2" cy="643.2" rx="2.0" ry="1.8" fill="#3c3482" transform="rotate(47 122.7 642.8)"/>
<ellipse cx="127.1" cy="644.7" rx="2.1" ry="1.9" fill="#52448e" transform="rotate(95 127.5 644.5)"/>
<ellipse cx="132.8" cy="642.2" rx="1.3" ry="1.2" fill="#3c3482" transform="rotate(31 133.3 642.5)"/>
<ellipse cx="137.2" cy="642.4" rx="1.9" ry="1.7" fill="#463c8c" transform="rotate(110 137.4 642.1)"/>
<ellipse cx="142.6" cy="642.5" rx="1.7" ry="1.6" fill="#52448e" transform="rotate(82 142.9 642.5)"/>
<ellipse cx="149.0" cy="644.4" rx="2.0" ry="2.2" fill="#52448e" transform="rotate(103 149.4 644.4)"/>
<ellipse cx="156.2" cy="643.5" rx="1.6" ry="1.4" fill="#52448e" transform="rotate(16 156.6 643.0)"/>
<ellipse cx="160.9" cy="643.9" rx="1.2" ry="0.9" fill="#34286e" transform="rotate(176 161.1 643.4)"/>
<ellipse cx="165.8" cy="644.0" rx="2.1" ry="2.4" fill="#34286e" transform="rotate(162 166.2 643.7)"/>
<ellipse cx="172.7" cy="643.4" rx="1.6" ry="1.6" fill="#463c8c" transform="rotate(98 173.1 643.2)"/>
<ellipse cx="120.7" cy="646.8" rx="2.0" ry="1.5" fill="#52448e" transform="rotate(77 121.0 646.8)"/>
<ellipse cx="123.4" cy="649.1" rx="1.8" ry="1.6" fill="#463c8c" transform="rotate(152 123.6 649.3)"/>
<ellipse cx="130.2" cy="646.9" rx="1.5" ry="1.1" fill="#52448e" transform="rotate(8 129.9 647.1)"/>
<ellipse cx="134.2" cy="647.0" rx="1.9" ry="1.5" fill="#34286e" transform="rotate(18 134.6 647.1)"/>
<ellipse cx="140.4" cy="648.3" rx="1.9" ry="2.1" fill="#463c8c" transform="rotate(114 140.8 648.3)"/>
<ellipse cx="146.1" cy="649.2" rx="1.7" ry="1.5" fill="#52448e" transform="rotate(137 146.1 648.9)"/>
<ellipse cx="153.3" cy="648.9" rx="2.0" ry="1.8" fill="#34286e" transform="rotate(66 153.5 648.8)"/>
<ellipse cx="157.7" cy="647.9" rx="1.6" ry="1.9" fill="#463c8c" transform="rotate(148 158.0 648.2)"/>
<ellipse cx="162.2" cy="646.7" rx="1.4" ry="1.4" fill="#52448e" transform="rotate(166 162.4 646.9)"/>
<ellipse cx="170.7" cy="647.5" rx="1.8" ry="2.0" fill="#3c3482" transform="rotate(114 171.1 647.5)"/>
<ellipse cx="174.5" cy="649.1" rx="1.4" ry="1.4" fill="#34286e" transform="rotate(149 174.8 649.5)"/>
<ellipse cx="120.8" cy="652.7" rx="1.8" ry="1.8" fill="#34286e" transform="rotate(170 120.7 653.1)"/>
<ellipse cx="124.8" cy="653.2" rx="1.7" ry="1.3" fill="#34286e" transform="rotate(52 125.1 653.4)"/>
<ellipse cx="131.2" cy="652.5" rx="1.7" ry="1.5" fill="#463c8c" transform="rotate(95 130.9 652.2)"/>
<ellipse cx="136.5" cy="654.1" rx="1.9" ry="1.9" fill="#3c3482" transform="rotate(16 136.8 653.8)"/>
<ellipse cx="143.0" cy="652.9" rx="1.6" ry="1.6" fill="#52448e" transform="rotate(167 142.8 653.2)"/>
<ellipse cx="149.4" cy="653.9" rx="1.8" ry="1.6" fill="#34286e" transform="rotate(13 149.5 654.1)"/>
<ellipse cx="155.0" cy="653.5" rx="1.8" ry="1.9" fill="#34286e" transform="rotate(93 155.1 653.9)"/>
<ellipse cx="160.9" cy="652.3" rx="1.7" ry="2.0" fill="#52448e" transform="rotate(108 161.2 652.8)"/>
<ellipse cx="166.7" cy="650.7" rx="2.0" ry="2.2" fill="#52448e" transform="rotate(33 166.7 650.8)"/>
<ellipse cx="172.0" cy="652.7" rx="1.4" ry="1.1" fill="#463c8c" transform="rotate(159 171.8 652.3)"/>
<ellipse cx="173.9" cy="654.6" rx="2.0" ry="2.0" fill="#463c8c" transform="rotate(17 174.3 654.9)"/>
<ellipse cx="119.9" cy="657.5" rx="1.7" ry="1.3" fill="#463c8c" transform="rotate(123 120.1 657.2)"/>
<ellipse cx="122.4" cy="659.4" rx="1.7" ry="1.8" fill="#52448e" transform="rotate(41 122.8 659.2)"/>
<ellipse cx="127.9" cy="657.6" rx="1.7" ry="1.4" fill="#463c8c" transform="rotate(121 127.8 657.5)"/>
<ellipse cx="133.1" cy="657.3" rx="1.7" ry="1.6" fill="#3c3482" transform="rotate(31 133.2 657.3)"/>
<ellipse cx="141.1" cy="658.0" rx="1.8" ry="1.9" fill="#463c8c" transform="rotate(9 141.6 658.0)"/>
<ellipse cx="146.9" cy="659.5" rx="2.0" ry="2.3" fill="#3c3482" transform="rotate(78 147.0 659.5)"/>
<ellipse cx="153.6" cy="658.7" rx="1.7" ry="1.6" fill="#463c8c" transform="rotate(112 153.7 658.5)"/>
<ellipse cx="158.6" cy="658.1" rx="1.5" ry="1.6" fill="#52448e" transform="rotate(117 158.6 658.2)"/>
<ellipse cx="164.1" cy="657.9" rx="2.0" ry="1.9" fill="#52448e" transform="rotate(23 164.5 658.3)"/>
<ellipse cx="169.1" cy="657.5" rx="1.9" ry="2.2" fill="#3c3482" transform="rotate(80 169.5 657.8)"/>
<ellipse cx="174.2" cy="660.3" rx="1.9" ry="2.0" fill="#3c3482" transform="rotate(34 174.0 659.9)"/>
<ellipse cx="119.8" cy="661.5" rx="2.0" ry="2.0" fill="#3c3482" transform="rotate(42 120.1 661.0)"/>
<ellipse cx="121.4" cy="663.4" rx="1.7" ry="1.8" fill="#463c8c" transform="rotate(40 121.8 663.5)"/>
<ellipse cx="127.5" cy="661.9" rx="1.7" ry="1.5" fill="#34286e" transform="rotate(122 127.1 662.0)"/>
<ellipse cx="130.8" cy="661.8" rx="1.5" ry="1.2" fill="#463c8c" transform="rotate(41 131.0 662.2)"/>
<ellipse cx="136.4" cy="661.3" rx="2.1" ry="2.3" fill="#34286e" transform="rotate(29 136.0 661.7)"/>
<ellipse cx="142.5" cy="663.0" rx="1.7" ry="1.6" fill="#34286e" transform="rotate(176 142.0 663.1)"/>
<ellipse cx="149.9" cy="663.2" rx="1.6" ry="1.5" fill="#52448e" transform="rotate(94 149.7 663.4)"/>
<ellipse cx="154.9" cy="662.9" rx="1.7" ry="1.4" fill="#34286e" transform="rotate(12 154.6 663.0)"/>
<ellipse cx="161.2" cy="662.5" rx="2.0" ry="2.2" fill="#34286e" transform="rotate(169 161.4 662.1)"/>
<ellipse cx="167.3" cy="663.2" rx="1.8" ry="1.9" fill="#3c3482" transform="rotate(106 167.6 663.4)"/>
<ellipse cx="171.3" cy="663.1" rx="1.5" ry="1.6" fill="#3c3482" transform="rotate(5 171.6 663.3)"/>
<ellipse cx="175.0" cy="663.1" rx="1.6" ry="1.6" fill="#34286e" transform="rotate(105 175.2 663.1)"/>
<ellipse cx="124.2" cy="664.9" rx="1.8" ry="1.7" fill="#463c8c" transform="rotate(34 124.5 664.8)"/>
<ellipse cx="130.2" cy="664.6" rx="2.1" ry="1.6" fill="#463c8c" transform="rotate(37 130.0 664.7)"/>
<ellipse cx="135.0" cy="665.3" rx="2.0" ry="1.6" fill="#52448e" transform="rotate(143 134.7 664.9)"/>
<ellipse cx="138.1" cy="664.7" rx="1.9" ry="1.9" fill="#52448e" transform="rotate(42 138.0 664.7)"/>
<ellipse cx="146.2" cy="664.3" rx="1.7" ry="1.3" fill="#3c3482" transform="rotate(26 146.3 664.6)"/>
<ellipse cx="161.4" cy="664.3" rx="1.9" ry="2.0" fill="#463c8c" transform="rotate(129 161.7 664.6)"/>
<ellipse cx="174.4" cy="663.8" rx="1.9" ry="2.0" fill="#463c8c" transform="rotate(122 174.4 664.2)"/>
<ellipse cx="152.0" cy="627.2" rx="1.8" ry="2.2" fill="#9a3050" opacity="0.9"/>
<ellipse cx="126.6" cy="649.3" rx="1.0" ry="1.4" fill="#d0a070" opacity="0.9"/>
<ellipse cx="132.7" cy="628.3" rx="1.2" ry="1.4" fill="#f2ecf2" opacity="0.9"/>
<ellipse cx="161.1" cy="636.0" rx="0.9" ry="1.0" fill="#f2ecf2" opacity="0.9"/>
<ellipse cx="140.8" cy="653.8" rx="1.4" ry="1.2" fill="#f2ecf2" opacity="0.9"/>
<ellipse cx="160.5" cy="657.4" rx="0.9" ry="0.9" fill="#c06070" opacity="0.9"/>
<ellipse cx="133.8" cy="635.0" rx="1.7" ry="2.3" fill="#f2ecf2" opacity="0.9"/>
<ellipse cx="160.0" cy="633.5" rx="1.3" ry="1.4" fill="#9a3050" opacity="0.9"/>
<ellipse cx="159.7" cy="648.4" rx="1.6" ry="1.8" fill="#eee4ee" opacity="0.9"/>
<ellipse cx="142.2" cy="655.6" rx="1.6" ry="2.1" fill="#9a3050" opacity="0.9"/>
<ellipse cx="161.6" cy="635.0" rx="1.9" ry="2.3" fill="#9a3050" opacity="0.9"/>
<ellipse cx="148.3" cy="629.6" rx="1.9" ry="1.4" fill="#b04a60" opacity="0.9"/>
<ellipse cx="127.9" cy="648.1" rx="1.0" ry="1.4" fill="#f2ecf2" opacity="0.9"/>
<ellipse cx="124.5" cy="628.4" rx="1.6" ry="1.8" fill="#f2ecf2" opacity="0.9"/>
<ellipse cx="126.1" cy="628.6" rx="1.8" ry="2.2" fill="#c06070" opacity="0.9"/>
<ellipse cx="156.1" cy="654.9" rx="1.9" ry="1.2" fill="#f2ecf2" opacity="0.9"/>
<ellipse cx="161.2" cy="630.6" rx="1.0" ry="0.7" fill="#b04a60" opacity="0.9"/>
<ellipse cx="161.4" cy="658.0" rx="1.7" ry="1.1" fill="#f2ecf2" opacity="0.9"/>
<ellipse cx="148.7" cy="643.2" rx="1.0" ry="1.2" fill="#f2ecf2" opacity="0.9"/>
<ellipse cx="131.6" cy="637.9" rx="1.3" ry="0.8" fill="#d0a070" opacity="0.9"/>
<ellipse cx="160.6" cy="628.6" rx="1.7" ry="2.3" fill="#eee4ee" opacity="0.9"/>
<ellipse cx="143.5" cy="655.9" rx="1.5" ry="1.0" fill="#9a3050" opacity="0.9"/>
<ellipse cx="124.6" cy="644.6" rx="0.9" ry="0.9" fill="#b04a60" opacity="0.9"/>
<ellipse cx="144.9" cy="634.4" rx="1.8" ry="1.2" fill="#d0a070" opacity="0.9"/>
<ellipse cx="130.2" cy="627.0" rx="1.0" ry="1.3" fill="#b04a60" opacity="0.9"/>
<ellipse cx="123.6" cy="643.7" rx="1.4" ry="1.7" fill="#c06070" opacity="0.9"/>
<ellipse cx="162.1" cy="647.1" rx="1.9" ry="2.0" fill="#eee4ee" opacity="0.9"/>
<ellipse cx="161.2" cy="636.6" rx="1.1" ry="1.2" fill="#9a3050" opacity="0.9"/>
<ellipse cx="130.0" cy="658.9" rx="1.7" ry="1.7" fill="#f2ecf2" opacity="0.9"/>
<ellipse cx="145.9" cy="630.6" rx="1.2" ry="0.8" fill="#9a3050" opacity="0.9"/>
<ellipse cx="159.1" cy="652.3" rx="1.3" ry="1.5" fill="#d0a070" opacity="0.9"/>
<ellipse cx="131.6" cy="635.9" rx="1.9" ry="1.9" fill="#9a3050" opacity="0.9"/>
<ellipse cx="162.7" cy="648.4" rx="1.9" ry="1.4" fill="#eee4ee" opacity="0.9"/>
<ellipse cx="153.6" cy="652.6" rx="1.6" ry="1.4" fill="#d0a070" opacity="0.9"/>
<ellipse cx="144.3" cy="656.5" rx="1.3" ry="1.4" fill="#d0a070" opacity="0.9"/>
<ellipse cx="130.2" cy="641.9" rx="1.7" ry="1.8" fill="#c06070" opacity="0.9"/>
<ellipse cx="136.8" cy="648.9" rx="1.6" ry="1.6" fill="#d0a070" opacity="0.9"/>
<ellipse cx="135.5" cy="650.9" rx="1.8" ry="1.3" fill="#c06070" opacity="0.9"/>
<ellipse cx="162.4" cy="651.6" rx="1.5" ry="1.3" fill="#c06070" opacity="0.9"/>
<ellipse cx="136.5" cy="633.4" rx="2.0" ry="2.3" fill="#b04a60" opacity="0.9"/>
</g></g>
</g>
<g clip-path="url(#t21)">
<rect x="175.00" y="615.00" width="112.70" height="84.40" fill="#ae96b0"/>
<g>
<rect x="175.00" y="615.00" width="112.70" height="84.40" fill="#000" filter="url(#mliv2)"/>
</g>
<g>
<rect x="175.00" y="615.00" width="112.70" height="84.40" fill="#000" filter="url(#fliv2)"/>
</g>
<g>
<rect x="175.00" y="615.00" width="112.70" height="84.40" fill="#000" filter="url(#fliv2b)"/>
</g>
<g filter="url(#b5)">
<path d="M192.5,670 L200,669.5 L208,668.5 L213.5,667.5 L214,671 L207,674.5 L199,675.5 L193,674 Z" fill="#dce48e"/>
<ellipse cx="222" cy="665" rx="7" ry="4" fill="#c8949a" opacity="0.6"/>
</g>
<g clip-path="url(#i21)"><g filter="url(#b5)">
<rect x="232.10" y="614.00" width="56.60" height="51.60" fill="#b8b2da"/>
<path d="M235.3,614.5 L232.6,614.5 L232.6,617.0Z" fill="#8a82bc" stroke="#b8b2da" stroke-width="0.8"/>
<path d="M239.2,616.5 L243.0,616.0 L242.9,614.5 L236.1,614.5Z" fill="#8a82bc" stroke="#b8b2da" stroke-width="0.8"/>
<path d="M243.0,616.0 L243.2,616.3 L248.8,615.5 L249.4,614.5 L242.9,614.5Z" fill="#7a70ae" stroke="#b8b2da" stroke-width="0.8"/>
<path d="M258.1,614.8 L258.4,614.5 L257.5,614.5Z" fill="#7a70ae" stroke="#b8b2da" stroke-width="0.8"/>
<path d="M263.2,614.5 L258.4,614.5 L258.1,614.8 L259.5,617.5 L260.9,617.7Z" fill="#7a70ae" stroke="#b8b2da" stroke-width="0.8"/>
<path d="M267.3,617.1 L272.9,615.3 L272.6,614.5 L265.4,614.5Z" fill="#7a70ae" stroke="#b8b2da" stroke-width="0.8"/>
<path d="M272.9,615.3 L273.7,615.9 L275.2,614.9 L275.6,614.5 L272.6,614.5Z" fill="#8a82bc" stroke="#b8b2da" stroke-width="0.8"/>
<path d="M275.2,614.9 L280.2,615.3 L280.6,614.5 L275.6,614.5Z" fill="#7a70ae" stroke="#b8b2da" stroke-width="0.8"/>
<path d="M285.5,617.1 L286.4,616.5 L286.3,614.5 L282.2,614.5Z" fill="#7a70ae" stroke="#b8b2da" stroke-width="0.8"/>
<path d="M287.6,616.7 L288.2,616.7 L288.2,614.5 L286.3,614.5 L286.4,616.5Z" fill="#8078b4" stroke="#b8b2da" stroke-width="0.8"/>
<path d="M232.6,617.0 L232.6,618.6 L236.2,620.0 L237.1,619.8 L239.2,616.5 L236.1,614.5 L235.3,614.5Z" fill="#7a70ae" stroke="#b8b2da" stroke-width="0.8"/>
<path d="M243.4,617.8 L243.2,616.3 L243.0,616.0 L239.2,616.5 L237.1,619.8 L240.2,622.7Z" fill="#8a82bc" stroke="#b8b2da" stroke-width="0.8"/>
<path d="M250.7,619.1 L248.8,615.5 L243.2,616.3 L243.4,617.8 L246.8,621.9Z" fill="#8078b4" stroke="#b8b2da" stroke-width="0.8"/>
<path d="M248.8,615.5 L250.7,619.1 L253.3,619.8 L254.0,619.1 L254.5,614.5 L249.4,614.5Z" fill="#8078b4" stroke="#b8b2da" stroke-width="0.8"/>
<path d="M258.1,614.8 L257.5,614.5 L254.5,614.5 L254.0,619.1 L257.8,619.1 L259.5,617.5Z" fill="#7a70ae" stroke="#b8b2da" stroke-width="0.8"/>
<path d="M260.9,617.7 L263.3,620.4 L266.6,619.2 L267.3,617.1 L265.4,614.5 L263.2,614.5Z" fill="#8078b4" stroke="#b8b2da" stroke-width="0.8"/>
<path d="M275.2,619.6 L273.7,615.9 L272.9,615.3 L267.3,617.1 L266.6,619.2 L269.5,622.9Z" fill="#8078b4" stroke="#b8b2da" stroke-width="0.8"/>
<path d="M280.3,619.6 L280.2,615.3 L275.2,614.9 L273.7,615.9 L275.2,619.6 L275.9,620.1Z" fill="#8a82bc" stroke="#b8b2da" stroke-width="0.8"/>
<path d="M280.3,619.6 L283.0,620.4 L285.5,617.1 L282.2,614.5 L280.6,614.5 L280.2,615.3Z" fill="#8a82bc" stroke="#b8b2da" stroke-width="0.8"/>
<path d="M287.6,616.7 L288.2,619.1 L288.2,616.7Z" fill="#7a70ae" stroke="#b8b2da" stroke-width="0.8"/>
<path d="M235.4,624.4 L236.2,620.0 L232.6,618.6 L232.6,622.8Z" fill="#8078b4" stroke="#b8b2da" stroke-width="0.8"/>
<path d="M235.4,624.4 L235.4,624.5 L240.3,623.8 L240.2,622.7 L237.1,619.8 L236.2,620.0Z" fill="#8078b4" stroke="#b8b2da" stroke-width="0.8"/>
<path d="M240.5,624.1 L246.8,623.2 L246.8,621.9 L243.4,617.8 L240.2,622.7 L240.3,623.8Z" fill="#8078b4" stroke="#b8b2da" stroke-width="0.8"/>
<path d="M253.8,624.4 L253.3,619.8 L250.7,619.1 L246.8,621.9 L246.8,623.2 L247.8,625.5 L252.5,625.6Z" fill="#8078b4" stroke="#b8b2da" stroke-width="0.8"/>
<path d="M257.8,619.1 L254.0,619.1 L253.3,619.8 L253.8,624.4 L259.8,625.2Z" fill="#8078b4" stroke="#b8b2da" stroke-width="0.8"/>
<path d="M262.4,622.9 L263.3,620.4 L260.9,617.7 L259.5,617.5 L257.8,619.1 L259.8,625.2 L259.9,625.2Z" fill="#8078b4" stroke="#b8b2da" stroke-width="0.8"/>
<path d="M268.4,625.4 L269.2,624.5 L269.5,622.9 L266.6,619.2 L263.3,620.4 L262.4,622.9Z" fill="#8078b4" stroke="#b8b2da" stroke-width="0.8"/>
<path d="M273.9,626.7 L276.1,622.0 L275.9,620.1 L275.2,619.6 L269.5,622.9 L269.2,624.5Z" fill="#8078b4" stroke="#b8b2da" stroke-width="0.8"/>
<path d="M278.9,626.1 L283.6,625.1 L284.1,623.1 L283.0,620.4 L280.3,619.6 L275.9,620.1 L276.1,622.0Z" fill="#8078b4" stroke="#b8b2da" stroke-width="0.8"/>
<path d="M287.6,616.7 L286.4,616.5 L285.5,617.1 L283.0,620.4 L284.1,623.1 L286.9,623.0 L288.2,620.5 L288.2,619.1Z" fill="#7a70ae" stroke="#b8b2da" stroke-width="0.8"/>
<path d="M286.9,623.0 L288.2,623.2 L288.2,620.5Z" fill="#8a82bc" stroke="#b8b2da" stroke-width="0.8"/>
<path d="M234.5,628.5 L234.6,628.4 L235.4,624.5 L235.4,624.4 L232.6,622.8 L232.6,628.5Z" fill="#7a70ae" stroke="#b8b2da" stroke-width="0.8"/>
<path d="M235.4,624.5 L234.6,628.4 L240.8,628.8 L241.2,628.3 L240.5,624.1 L240.3,623.8Z" fill="#8078b4" stroke="#b8b2da" stroke-width="0.8"/>
<path d="M241.2,628.3 L246.6,627.6 L247.8,625.5 L246.8,623.2 L240.5,624.1Z" fill="#7a70ae" stroke="#b8b2da" stroke-width="0.8"/>
<path d="M247.8,625.5 L246.6,627.6 L248.0,632.4 L253.3,630.5 L253.3,630.4 L252.5,625.6Z" fill="#8a82bc" stroke="#b8b2da" stroke-width="0.8"/>
<path d="M259.8,625.2 L253.8,624.4 L252.5,625.6 L253.3,630.4 L257.0,628.9 L260.2,626.4 L259.9,625.2Z" fill="#8078b4" stroke="#b8b2da" stroke-width="0.8"/>
<path d="M257.0,628.9 L257.8,634.0 L261.3,628.0 L260.2,626.4Z" fill="#7a70ae" stroke="#b8b2da" stroke-width="0.8"/>
<path d="M260.2,626.4 L261.3,628.0 L265.8,630.2 L266.9,630.1 L268.4,625.4 L262.4,622.9 L259.9,625.2Z" fill="#8078b4" stroke="#b8b2da" stroke-width="0.8"/>
<path d="M268.4,625.4 L266.9,630.1 L269.7,632.2 L270.5,632.1 L274.7,629.0 L273.9,626.7 L269.2,624.5Z" fill="#7a70ae" stroke="#b8b2da" stroke-width="0.8"/>
<path d="M274.7,629.0 L277.0,629.5 L278.9,626.1 L276.1,622.0 L273.9,626.7Z" fill="#8a82bc" stroke="#b8b2da" stroke-width="0.8"/>
<path d="M278.9,626.1 L277.0,629.5 L277.2,629.7 L283.5,629.4 L284.7,628.5 L283.6,625.1Z" fill="#8a82bc" stroke="#b8b2da" stroke-width="0.8"/>
<path d="M286.9,623.0 L284.1,623.1 L283.6,625.1 L284.7,628.5 L288.2,630.5 L288.2,623.2Z" fill="#8078b4" stroke="#b8b2da" stroke-width="0.8"/>
<path d="M235.4,633.5 L234.5,628.5 L232.6,628.5 L232.6,634.7Z" fill="#7a70ae" stroke="#b8b2da" stroke-width="0.8"/>
<path d="M241.2,634.9 L240.8,628.8 L234.6,628.4 L234.5,628.5 L235.4,633.5 L239.6,635.7Z" fill="#7a70ae" stroke="#b8b2da" stroke-width="0.8"/>
<path d="M240.8,628.8 L241.2,634.9 L244.3,635.7 L246.8,635.0 L248.0,632.4 L246.6,627.6 L241.2,628.3Z" fill="#8a82bc" stroke="#b8b2da" stroke-width="0.8"/>
<path d="M251.3,637.7 L255.6,633.9 L253.3,630.5 L248.0,632.4 L246.8,635.0 L250.5,637.8Z" fill="#8078b4" stroke="#b8b2da" stroke-width="0.8"/>
<path d="M253.3,630.4 L253.3,630.5 L255.6,633.9 L257.7,634.3 L257.8,634.0 L257.0,628.9Z" fill="#8a82bc" stroke="#b8b2da" stroke-width="0.8"/>
<path d="M257.8,634.0 L257.7,634.3 L259.1,635.9 L261.8,636.4 L265.8,630.2 L261.3,628.0Z" fill="#7a70ae" stroke="#b8b2da" stroke-width="0.8"/>
<path d="M265.8,630.2 L261.8,636.4 L262.7,637.4 L269.4,634.4 L269.7,632.2 L266.9,630.1Z" fill="#8a82bc" stroke="#b8b2da" stroke-width="0.8"/>
<path d="M276.5,636.3 L279.0,636.0 L277.2,629.7 L277.0,629.5 L274.7,629.0 L270.5,632.1Z" fill="#8a82bc" stroke="#b8b2da" stroke-width="0.8"/>
<path d="M279.0,636.0 L279.1,636.0 L280.6,635.0 L283.5,629.4 L277.2,629.7Z" fill="#7a70ae" stroke="#b8b2da" stroke-width="0.8"/>
<path d="M284.7,628.5 L283.5,629.4 L280.6,635.0 L287.3,634.5 L288.1,634.0 L288.2,632.2 L288.2,630.5Z" fill="#8078b4" stroke="#b8b2da" stroke-width="0.8"/>
<path d="M288.1,634.0 L288.2,634.2 L288.2,632.2Z" fill="#7a70ae" stroke="#b8b2da" stroke-width="0.8"/>
<path d="M232.6,637.9 L232.6,642.5 L235.7,640.1 L235.9,639.8Z" fill="#8078b4" stroke="#b8b2da" stroke-width="0.8"/>
<path d="M235.9,639.8 L238.4,638.2 L239.6,635.7 L235.4,633.5 L232.6,634.7 L232.6,637.9Z" fill="#8a82bc" stroke="#b8b2da" stroke-width="0.8"/>
<path d="M241.3,643.5 L244.5,640.4 L244.3,635.7 L241.2,634.9 L239.6,635.7 L238.4,638.2Z" fill="#8078b4" stroke="#b8b2da" stroke-width="0.8"/>
<path d="M250.5,637.8 L246.8,635.0 L244.3,635.7 L244.5,640.4 L248.7,643.8Z" fill="#8a82bc" stroke="#b8b2da" stroke-width="0.8"/>
<path d="M255.5,641.0 L256.4,641.2 L259.1,635.9 L257.7,634.3 L255.6,633.9 L251.3,637.7Z" fill="#7a70ae" stroke="#b8b2da" stroke-width="0.8"/>
<path d="M259.1,635.9 L256.4,641.2 L257.4,642.6 L263.8,639.6 L262.7,637.4 L261.8,636.4Z" fill="#7a70ae" stroke="#b8b2da" stroke-width="0.8"/>
<path d="M263.8,639.6 L264.7,640.4 L268.2,640.7 L269.8,638.8 L269.4,634.4 L262.7,637.4Z" fill="#8078b4" stroke="#b8b2da" stroke-width="0.8"/>
<path d="M269.4,634.4 L269.8,638.8 L273.3,638.9 L276.5,636.3 L270.5,632.1 L269.7,632.2Z" fill="#8078b4" stroke="#b8b2da" stroke-width="0.8"/>
<path d="M276.7,644.9 L280.1,638.4 L279.1,636.0 L279.0,636.0 L276.5,636.3 L273.3,638.9 L275.8,644.4 L276.5,644.9Z" fill="#8a82bc" stroke="#b8b2da" stroke-width="0.8"/>
<path d="M280.6,635.0 L279.1,636.0 L280.1,638.4 L284.1,640.5 L287.3,634.5Z" fill="#8078b4" stroke="#b8b2da" stroke-width="0.8"/>
<path d="M288.2,640.8 L288.2,634.2 L288.1,634.0 L287.3,634.5 L284.1,640.5 L284.4,641.0 L286.8,642.1Z" fill="#7a70ae" stroke="#b8b2da" stroke-width="0.8"/>
<path d="M232.6,642.5 L232.6,645.4 L234.5,646.5 L237.0,644.6 L235.7,640.1Z" fill="#8078b4" stroke="#b8b2da" stroke-width="0.8"/>
<path d="M235.7,640.1 L237.0,644.6 L241.2,645.1 L241.3,643.5 L238.4,638.2 L235.9,639.8Z" fill="#8a82bc" stroke="#b8b2da" stroke-width="0.8"/>
<path d="M241.5,645.6 L244.6,646.3 L248.9,644.5 L248.7,643.8 L244.5,640.4 L241.3,643.5 L241.2,645.1Z" fill="#7a70ae" stroke="#b8b2da" stroke-width="0.8"/>
<path d="M249.8,645.2 L255.5,641.0 L251.3,637.7 L250.5,637.8 L248.7,643.8 L248.9,644.5Z" fill="#7a70ae" stroke="#b8b2da" stroke-width="0.8"/>
<path d="M251.4,647.6 L257.6,646.8 L258.2,646.0 L257.4,642.6 L256.4,641.2 L255.5,641.0 L249.8,645.2Z" fill="#8a82bc" stroke="#b8b2da" stroke-width="0.8"/>
<path d="M260.6,645.8 L262.7,645.1 L264.7,640.4 L263.8,639.6 L257.4,642.6 L258.2,646.0Z" fill="#8a82bc" stroke="#b8b2da" stroke-width="0.8"/>
<path d="M269.2,643.1 L268.2,640.7 L264.7,640.4 L262.7,645.1 L266.4,647.8 L268.4,647.2Z" fill="#8078b4" stroke="#b8b2da" stroke-width="0.8"/>
<path d="M273.3,638.9 L269.8,638.8 L268.2,640.7 L269.2,643.1 L275.8,644.4Z" fill="#8a82bc" stroke="#b8b2da" stroke-width="0.8"/>
<path d="M284.1,640.5 L280.1,638.4 L276.7,644.9 L280.3,647.3 L284.4,641.0Z" fill="#8a82bc" stroke="#b8b2da" stroke-width="0.8"/>
<path d="M288.1,645.0 L286.8,642.1 L284.4,641.0 L280.3,647.3 L280.5,647.7 L283.5,647.5Z" fill="#7a70ae" stroke="#b8b2da" stroke-width="0.8"/>
<path d="M286.8,642.1 L288.1,645.0 L288.2,645.1 L288.2,640.8Z" fill="#8078b4" stroke="#b8b2da" stroke-width="0.8"/>
<path d="M235.4,650.5 L234.5,646.5 L232.6,645.4 L232.6,652.0Z" fill="#8078b4" stroke="#b8b2da" stroke-width="0.8"/>
<path d="M234.5,646.5 L235.4,650.5 L235.9,650.7 L240.2,649.1 L241.5,645.6 L241.2,645.1 L237.0,644.6Z" fill="#7a70ae" stroke="#b8b2da" stroke-width="0.8"/>
<path d="M245.6,651.4 L244.6,646.3 L241.5,645.6 L240.2,649.1 L243.2,652.9Z" fill="#7a70ae" stroke="#b8b2da" stroke-width="0.8"/>
<path d="M244.6,646.3 L245.6,651.4 L248.6,651.7 L251.0,649.4 L251.4,647.6 L249.8,645.2 L248.9,644.5Z" fill="#7a70ae" stroke="#b8b2da" stroke-width="0.8"/>
<path d="M253.2,651.8 L258.2,650.0 L257.6,646.8 L251.4,647.6 L251.0,649.4Z" fill="#7a70ae" stroke="#b8b2da" stroke-width="0.8"/>
<path d="M258.4,650.6 L263.2,650.6 L260.6,645.8 L258.2,646.0 L257.6,646.8 L258.2,650.0Z" fill="#8a82bc" stroke="#b8b2da" stroke-width="0.8"/>
<path d="M262.7,645.1 L260.6,645.8 L263.2,650.6 L264.7,651.4 L266.4,647.8Z" fill="#8a82bc" stroke="#b8b2da" stroke-width="0.8"/>
<path d="M271.8,649.6 L272.9,649.1 L276.5,644.9 L275.8,644.4 L269.2,643.1 L268.4,647.2Z" fill="#8a82bc" stroke="#b8b2da" stroke-width="0.8"/>
<path d="M280.5,648.2 L280.5,647.7 L280.3,647.3 L276.7,644.9 L276.5,644.9 L272.9,649.1 L276.2,651.3Z" fill="#8078b4" stroke="#b8b2da" stroke-width="0.8"/>
<path d="M283.5,647.5 L280.5,647.7 L280.5,648.2 L281.3,651.5 L287.3,651.0Z" fill="#8078b4" stroke="#b8b2da" stroke-width="0.8"/>
<path d="M288.1,645.0 L283.5,647.5 L287.3,651.0 L288.2,651.3 L288.2,645.1Z" fill="#8a82bc" stroke="#b8b2da" stroke-width="0.8"/>
<path d="M239.1,656.2 L235.9,650.7 L235.4,650.5 L232.6,652.0 L232.6,657.6Z" fill="#7a70ae" stroke="#b8b2da" stroke-width="0.8"/>
<path d="M243.2,652.9 L240.2,649.1 L235.9,650.7 L239.1,656.2 L239.6,656.4 L242.6,654.5Z" fill="#8078b4" stroke="#b8b2da" stroke-width="0.8"/>
<path d="M248.6,651.7 L245.6,651.4 L243.2,652.9 L242.6,654.5 L246.1,657.2 L249.7,657.0Z" fill="#7a70ae" stroke="#b8b2da" stroke-width="0.8"/>
<path d="M254.4,654.7 L253.2,651.8 L251.0,649.4 L248.6,651.7 L249.7,657.0 L250.3,657.5Z" fill="#8a82bc" stroke="#b8b2da" stroke-width="0.8"/>
<path d="M258.3,655.2 L258.4,650.6 L258.2,650.0 L253.2,651.8 L254.4,654.7Z" fill="#8078b4" stroke="#b8b2da" stroke-width="0.8"/>
<path d="M264.7,651.4 L263.2,650.6 L258.4,650.6 L258.3,655.2 L258.7,655.7 L262.2,656.4 L263.9,656.3 L265.2,654.4Z" fill="#8078b4" stroke="#b8b2da" stroke-width="0.8"/>
<path d="M266.4,647.8 L264.7,651.4 L265.2,654.4 L271.1,653.5 L271.8,649.6 L268.4,647.2Z" fill="#8078b4" stroke="#b8b2da" stroke-width="0.8"/>
<path d="M276.2,651.3 L272.9,649.1 L271.8,649.6 L271.1,653.5 L272.3,655.1 L276.6,653.8Z" fill="#8a82bc" stroke="#b8b2da" stroke-width="0.8"/>
<path d="M280.5,648.2 L276.2,651.3 L276.6,653.8 L279.9,654.9 L281.1,653.1 L281.3,651.5Z" fill="#8a82bc" stroke="#b8b2da" stroke-width="0.8"/>
<path d="M287.3,651.0 L281.3,651.5 L281.1,653.1 L287.8,655.1 L288.2,654.7 L288.2,651.3Z" fill="#8078b4" stroke="#b8b2da" stroke-width="0.8"/>
<path d="M233.2,661.7 L237.7,662.5 L240.2,661.1 L239.6,656.4 L239.1,656.2 L232.6,657.6 L232.6,660.7Z" fill="#8078b4" stroke="#b8b2da" stroke-width="0.8"/>
<path d="M239.6,656.4 L240.2,661.1 L240.5,661.2 L244.5,660.1 L246.1,657.2 L242.6,654.5Z" fill="#8a82bc" stroke="#b8b2da" stroke-width="0.8"/>
<path d="M250.3,657.5 L249.7,657.0 L246.1,657.2 L244.5,660.1 L247.7,662.8 L249.0,662.4 L250.8,659.2Z" fill="#7a70ae" stroke="#b8b2da" stroke-width="0.8"/>
<path d="M256.2,660.7 L258.7,655.7 L258.3,655.2 L254.4,654.7 L250.3,657.5 L250.8,659.2 L254.5,660.9Z" fill="#8a82bc" stroke="#b8b2da" stroke-width="0.8"/>
<path d="M262.2,656.4 L258.7,655.7 L256.2,660.7 L259.5,664.4Z" fill="#8078b4" stroke="#b8b2da" stroke-width="0.8"/>
<path d="M264.2,656.9 L265.3,664.0 L271.1,659.7Z" fill="#8a82bc" stroke="#b8b2da" stroke-width="0.8"/>
<path d="M272.3,655.1 L271.1,653.5 L265.2,654.4 L263.9,656.3 L264.2,656.9 L271.1,659.7 L272.8,659.5Z" fill="#7a70ae" stroke="#b8b2da" stroke-width="0.8"/>
<path d="M272.3,655.1 L272.8,659.5 L273.0,659.7 L278.3,659.6 L280.1,657.9 L279.9,654.9 L276.6,653.8Z" fill="#8a82bc" stroke="#b8b2da" stroke-width="0.8"/>
<path d="M281.1,653.1 L279.9,654.9 L280.1,657.9 L284.7,659.3 L286.0,659.3 L287.8,655.1Z" fill="#8a82bc" stroke="#b8b2da" stroke-width="0.8"/>
<path d="M287.8,655.1 L286.0,659.3 L288.2,662.3 L288.2,654.7Z" fill="#8078b4" stroke="#b8b2da" stroke-width="0.8"/>
<path d="M233.2,661.7 L232.6,660.7 L232.6,663.5Z" fill="#8a82bc" stroke="#b8b2da" stroke-width="0.8"/>
<path d="M237.7,662.5 L233.2,661.7 L232.6,663.5 L232.6,665.1 L237.5,665.1Z" fill="#8a82bc" stroke="#b8b2da" stroke-width="0.8"/>
<path d="M241.8,663.2 L240.5,661.2 L240.2,661.1 L237.7,662.5 L237.5,665.1 L241.3,665.1Z" fill="#8078b4" stroke="#b8b2da" stroke-width="0.8"/>
<path d="M247.7,662.8 L244.5,660.1 L240.5,661.2 L241.8,663.2 L245.2,665.1 L245.6,665.1Z" fill="#8078b4" stroke="#b8b2da" stroke-width="0.8"/>
<path d="M254.5,660.9 L250.8,659.2 L249.0,662.4 L250.9,665.1 L253.4,665.1Z" fill="#8a82bc" stroke="#b8b2da" stroke-width="0.8"/>
<path d="M259.5,664.4 L256.2,660.7 L254.5,660.9 L253.4,665.1 L259.8,665.1Z" fill="#8a82bc" stroke="#b8b2da" stroke-width="0.8"/>
<path d="M265.3,664.1 L265.3,664.0 L264.2,656.9 L263.9,656.3 L262.2,656.4 L259.5,664.4 L259.8,665.1 L262.5,665.1Z" fill="#8078b4" stroke="#b8b2da" stroke-width="0.8"/>
<path d="M272.9,662.7 L273.0,659.7 L272.8,659.5 L271.1,659.7 L265.3,664.0 L265.3,664.1 L266.3,665.1 L270.9,665.1Z" fill="#7a70ae" stroke="#b8b2da" stroke-width="0.8"/>
<path d="M272.9,662.7 L275.2,665.1 L277.1,665.1 L279.0,662.7 L278.3,659.6 L273.0,659.7Z" fill="#7a70ae" stroke="#b8b2da" stroke-width="0.8"/>
<path d="M279.0,662.7 L281.6,664.5 L284.7,659.3 L280.1,657.9 L278.3,659.6Z" fill="#7a70ae" stroke="#b8b2da" stroke-width="0.8"/>
<path d="M288.2,663.6 L288.2,663.6 L288.2,662.3 L286.0,659.3 L284.7,659.3 L281.6,664.5 L281.9,665.1 L287.3,665.1Z" fill="#8a82bc" stroke="#b8b2da" stroke-width="0.8"/>
<path d="M288.2,663.6 L288.2,663.6 L288.2,663.6Z" fill="#7a70ae" stroke="#b8b2da" stroke-width="0.8"/>
<path d="M241.8,663.2 L241.3,665.1 L245.2,665.1Z" fill="#8a82bc" stroke="#b8b2da" stroke-width="0.8"/>
<path d="M247.7,662.8 L245.6,665.1 L250.9,665.1 L249.0,662.4Z" fill="#8a82bc" stroke="#b8b2da" stroke-width="0.8"/>
<path d="M265.3,664.1 L262.5,665.1 L266.3,665.1Z" fill="#8078b4" stroke="#b8b2da" stroke-width="0.8"/>
<path d="M272.9,662.7 L270.9,665.1 L275.2,665.1Z" fill="#8078b4" stroke="#b8b2da" stroke-width="0.8"/>
<path d="M279.0,662.7 L277.1,665.1 L281.9,665.1 L281.6,664.5Z" fill="#7a70ae" stroke="#b8b2da" stroke-width="0.8"/>
<path d="M288.2,663.6 L287.3,665.1 L288.2,665.1 L288.2,663.6Z" fill="#7a70ae" stroke="#b8b2da" stroke-width="0.8"/>
<ellipse cx="233.2" cy="615.2" rx="2.0" ry="1.8" fill="#3e3684" transform="rotate(95 233.5 615.3)"/>
<ellipse cx="240.3" cy="615.5" rx="1.8" ry="2.1" fill="#3e3684" transform="rotate(169 240.1 615.3)"/>
<ellipse cx="246.2" cy="615.2" rx="1.7" ry="1.7" fill="#48408c" transform="rotate(121 245.7 615.2)"/>
<ellipse cx="258.2" cy="614.9" rx="1.4" ry="1.6" fill="#48408c" transform="rotate(73 258.0 614.6)"/>
<ellipse cx="260.8" cy="615.6" rx="1.6" ry="1.8" fill="#524894" transform="rotate(114 260.4 615.8)"/>
<ellipse cx="269.3" cy="615.4" rx="1.9" ry="1.5" fill="#524894" transform="rotate(27 268.9 615.4)"/>
<ellipse cx="273.9" cy="615.0" rx="1.8" ry="1.7" fill="#3e3684" transform="rotate(139 273.9 615.0)"/>
<ellipse cx="278.5" cy="614.8" rx="1.4" ry="1.0" fill="#48408c" transform="rotate(140 278.2 614.8)"/>
<ellipse cx="284.5" cy="615.4" rx="1.8" ry="2.1" fill="#48408c" transform="rotate(50 284.9 615.5)"/>
<ellipse cx="287.5" cy="615.3" rx="1.6" ry="1.4" fill="#524894" transform="rotate(1 287.3 615.6)"/>
<ellipse cx="235.8" cy="617.4" rx="1.4" ry="1.1" fill="#48408c" transform="rotate(54 235.7 617.3)"/>
<ellipse cx="240.3" cy="619.3" rx="1.6" ry="1.2" fill="#48408c" transform="rotate(174 240.4 618.9)"/>
<ellipse cx="247.0" cy="618.8" rx="1.8" ry="1.9" fill="#48408c" transform="rotate(107 247.0 618.3)"/>
<ellipse cx="251.5" cy="616.9" rx="1.8" ry="2.0" fill="#48408c" transform="rotate(170 251.9 616.7)"/>
<ellipse cx="256.4" cy="616.4" rx="1.5" ry="1.4" fill="#3e3684" transform="rotate(169 256.5 616.9)"/>
<ellipse cx="263.8" cy="617.4" rx="1.9" ry="2.0" fill="#524894" transform="rotate(57 264.2 617.4)"/>
<ellipse cx="270.7" cy="618.7" rx="1.8" ry="1.5" fill="#3e3684" transform="rotate(5 270.9 618.9)"/>
<ellipse cx="277.5" cy="617.6" rx="1.9" ry="1.6" fill="#3e3684" transform="rotate(167 277.3 617.4)"/>
<ellipse cx="282.1" cy="617.8" rx="1.4" ry="1.3" fill="#524894" transform="rotate(129 282.3 617.4)"/>
<ellipse cx="288.4" cy="618.0" rx="1.1" ry="1.2" fill="#524894" transform="rotate(157 288.0 617.5)"/>
<ellipse cx="234.3" cy="621.2" rx="1.5" ry="1.8" fill="#48408c" transform="rotate(142 234.2 621.4)"/>
<ellipse cx="237.8" cy="622.5" rx="1.4" ry="1.2" fill="#524894" transform="rotate(176 237.6 622.4)"/>
<ellipse cx="243.0" cy="621.4" rx="1.6" ry="1.6" fill="#524894" transform="rotate(169 243.5 621.6)"/>
<ellipse cx="250.8" cy="623.1" rx="1.9" ry="1.8" fill="#524894" transform="rotate(79 250.5 622.7)"/>
<ellipse cx="256.6" cy="622.3" rx="1.6" ry="1.5" fill="#3e3684" transform="rotate(153 256.2 622.1)"/>
<ellipse cx="260.7" cy="621.3" rx="1.7" ry="1.9" fill="#3e3684" transform="rotate(4 260.5 620.9)"/>
<ellipse cx="266.4" cy="622.1" rx="1.9" ry="2.0" fill="#3e3684" transform="rotate(148 266.2 622.3)"/>
<ellipse cx="272.6" cy="623.2" rx="1.8" ry="1.4" fill="#48408c" transform="rotate(7 273.0 623.2)"/>
<ellipse cx="279.7" cy="622.5" rx="1.7" ry="1.8" fill="#48408c" transform="rotate(124 280.1 622.6)"/>
<ellipse cx="286.1" cy="619.8" rx="1.5" ry="1.7" fill="#524894" transform="rotate(15 285.9 620.1)"/>
<ellipse cx="288.0" cy="622.6" rx="1.1" ry="1.1" fill="#3e3684" transform="rotate(170 287.8 622.2)"/>
<ellipse cx="233.9" cy="626.3" rx="1.6" ry="1.6" fill="#3e3684" transform="rotate(171 233.8 625.9)"/>
<ellipse cx="238.5" cy="626.5" rx="1.9" ry="2.0" fill="#3e3684" transform="rotate(84 238.0 626.4)"/>
<ellipse cx="244.5" cy="625.8" rx="1.7" ry="1.6" fill="#3e3684" transform="rotate(46 244.1 625.7)"/>
<ellipse cx="249.8" cy="628.1" rx="1.7" ry="1.5" fill="#524894" transform="rotate(70 249.9 628.6)"/>
<ellipse cx="256.1" cy="627.4" rx="2.0" ry="1.9" fill="#3e3684" transform="rotate(72 255.8 626.9)"/>
<ellipse cx="259.0" cy="629.8" rx="1.4" ry="1.5" fill="#524894" transform="rotate(74 258.9 629.6)"/>
<ellipse cx="264.3" cy="626.2" rx="1.7" ry="1.8" fill="#48408c" transform="rotate(82 264.2 626.5)"/>
<ellipse cx="270.5" cy="628.7" rx="1.7" ry="1.3" fill="#48408c" transform="rotate(89 270.6 628.5)"/>
<ellipse cx="276.3" cy="625.8" rx="1.4" ry="1.1" fill="#3e3684" transform="rotate(94 276.3 626.3)"/>
<ellipse cx="280.7" cy="628.1" rx="1.6" ry="1.5" fill="#48408c" transform="rotate(115 281.1 627.7)"/>
<ellipse cx="285.8" cy="625.8" rx="1.9" ry="1.8" fill="#48408c" transform="rotate(85 286.2 626.2)"/>
<ellipse cx="233.7" cy="631.1" rx="1.7" ry="1.6" fill="#3e3684" transform="rotate(173 233.7 631.5)"/>
<ellipse cx="238.4" cy="631.9" rx="1.8" ry="1.5" fill="#48408c" transform="rotate(51 238.1 631.7)"/>
<ellipse cx="244.6" cy="632.0" rx="1.9" ry="1.6" fill="#3e3684" transform="rotate(133 244.2 631.6)"/>
<ellipse cx="251.6" cy="633.9" rx="2.0" ry="2.2" fill="#524894" transform="rotate(129 251.2 634.1)"/>
<ellipse cx="256.4" cy="631.4" rx="1.3" ry="1.1" fill="#524894" transform="rotate(3 255.9 631.6)"/>
<ellipse cx="261.3" cy="632.7" rx="1.6" ry="1.3" fill="#48408c" transform="rotate(37 261.6 632.4)"/>
<ellipse cx="265.9" cy="633.7" rx="1.7" ry="1.5" fill="#3e3684" transform="rotate(19 266.0 633.7)"/>
<ellipse cx="275.2" cy="632.6" rx="1.8" ry="1.5" fill="#524894" transform="rotate(11 275.3 632.6)"/>
<ellipse cx="280.1" cy="632.1" rx="1.7" ry="1.7" fill="#48408c" transform="rotate(108 280.1 632.0)"/>
<ellipse cx="284.8" cy="632.4" rx="1.9" ry="1.6" fill="#3e3684" transform="rotate(16 284.9 632.2)"/>
<ellipse cx="288.2" cy="633.0" rx="1.8" ry="2.1" fill="#48408c" transform="rotate(81 288.2 633.5)"/>
<ellipse cx="234.1" cy="640.0" rx="1.5" ry="1.4" fill="#524894" transform="rotate(137 233.7 640.1)"/>
<ellipse cx="236.2" cy="636.9" rx="2.0" ry="2.3" fill="#48408c" transform="rotate(130 235.7 636.6)"/>
<ellipse cx="242.1" cy="638.2" rx="1.7" ry="1.3" fill="#3e3684" transform="rotate(104 241.7 638.7)"/>
<ellipse cx="246.9" cy="638.5" rx="1.7" ry="1.5" fill="#524894" transform="rotate(91 247.2 638.9)"/>
<ellipse cx="255.2" cy="637.5" rx="1.8" ry="2.1" fill="#3e3684" transform="rotate(162 255.5 637.3)"/>
<ellipse cx="259.4" cy="638.9" rx="1.8" ry="2.1" fill="#48408c" transform="rotate(135 259.9 639.2)"/>
<ellipse cx="266.8" cy="637.8" rx="1.8" ry="1.8" fill="#524894" transform="rotate(53 266.7 638.0)"/>
<ellipse cx="272.3" cy="636.2" rx="1.6" ry="1.3" fill="#48408c" transform="rotate(69 272.1 635.9)"/>
<ellipse cx="276.5" cy="640.3" rx="1.9" ry="2.0" fill="#3e3684" transform="rotate(174 276.8 639.8)"/>
<ellipse cx="283.5" cy="637.2" rx="1.7" ry="1.9" fill="#524894" transform="rotate(172 283.1 637.0)"/>
<ellipse cx="287.0" cy="638.7" rx="2.0" ry="2.3" fill="#524894" transform="rotate(171 286.7 638.7)"/>
<ellipse cx="235.1" cy="643.2" rx="1.6" ry="1.2" fill="#524894" transform="rotate(148 234.7 643.6)"/>
<ellipse cx="238.8" cy="642.2" rx="1.7" ry="1.4" fill="#3e3684" transform="rotate(3 238.5 642.1)"/>
<ellipse cx="244.8" cy="644.1" rx="1.5" ry="1.7" fill="#3e3684" transform="rotate(143 244.7 643.7)"/>
<ellipse cx="251.6" cy="641.8" rx="1.6" ry="1.5" fill="#524894" transform="rotate(75 251.5 641.4)"/>
<ellipse cx="254.5" cy="645.1" rx="1.9" ry="1.9" fill="#3e3684" transform="rotate(24 254.4 644.7)"/>
<ellipse cx="261.3" cy="643.1" rx="1.7" ry="1.6" fill="#524894" transform="rotate(170 261.0 643.1)"/>
<ellipse cx="265.9" cy="643.7" rx="2.0" ry="1.7" fill="#3e3684" transform="rotate(106 266.2 644.0)"/>
<ellipse cx="271.7" cy="641.5" rx="1.6" ry="1.8" fill="#3e3684" transform="rotate(60 271.8 641.5)"/>
<ellipse cx="280.8" cy="642.6" rx="1.8" ry="1.7" fill="#524894" transform="rotate(58 280.5 642.8)"/>
<ellipse cx="284.8" cy="645.0" rx="1.9" ry="1.6" fill="#524894" transform="rotate(59 284.4 644.7)"/>
<ellipse cx="287.9" cy="642.8" rx="2.0" ry="1.7" fill="#3e3684" transform="rotate(25 287.7 642.7)"/>
<ellipse cx="233.2" cy="649.0" rx="1.9" ry="1.5" fill="#524894" transform="rotate(25 233.7 648.8)"/>
<ellipse cx="237.6" cy="647.8" rx="1.9" ry="1.5" fill="#3e3684" transform="rotate(148 237.8 647.4)"/>
<ellipse cx="243.2" cy="649.2" rx="1.8" ry="1.6" fill="#3e3684" transform="rotate(89 243.0 649.1)"/>
<ellipse cx="248.3" cy="648.3" rx="1.7" ry="2.0" fill="#3e3684" transform="rotate(162 247.9 648.2)"/>
<ellipse cx="254.1" cy="649.5" rx="1.5" ry="1.4" fill="#524894" transform="rotate(94 254.6 649.1)"/>
<ellipse cx="259.9" cy="648.6" rx="1.3" ry="1.2" fill="#48408c" transform="rotate(140 260.0 648.5)"/>
<ellipse cx="263.2" cy="647.7" rx="1.3" ry="1.1" fill="#524894" transform="rotate(135 263.6 648.0)"/>
<ellipse cx="271.7" cy="646.4" rx="1.6" ry="1.8" fill="#524894" transform="rotate(104 272.0 646.1)"/>
<ellipse cx="277.0" cy="647.7" rx="1.5" ry="1.2" fill="#524894" transform="rotate(139 276.8 648.1)"/>
<ellipse cx="283.2" cy="649.7" rx="1.5" ry="1.2" fill="#48408c" transform="rotate(113 283.2 649.6)"/>
<ellipse cx="286.2" cy="647.6" rx="1.8" ry="1.5" fill="#3e3684" transform="rotate(12 286.6 648.0)"/>
<ellipse cx="234.9" cy="654.3" rx="2.0" ry="1.8" fill="#48408c" transform="rotate(137 235.2 654.3)"/>
<ellipse cx="239.5" cy="652.4" rx="1.7" ry="1.9" fill="#48408c" transform="rotate(111 239.7 652.6)"/>
<ellipse cx="246.6" cy="654.5" rx="2.0" ry="1.6" fill="#524894" transform="rotate(80 246.4 654.4)"/>
<ellipse cx="251.5" cy="653.4" rx="1.8" ry="1.9" fill="#524894" transform="rotate(130 251.2 653.5)"/>
<ellipse cx="256.1" cy="652.7" rx="1.6" ry="1.4" fill="#524894" transform="rotate(114 256.2 652.7)"/>
<ellipse cx="261.4" cy="653.5" rx="1.9" ry="2.2" fill="#48408c" transform="rotate(12 261.6 653.4)"/>
<ellipse cx="267.7" cy="651.4" rx="1.6" ry="1.6" fill="#48408c" transform="rotate(114 268.1 651.0)"/>
<ellipse cx="273.7" cy="652.1" rx="1.4" ry="1.4" fill="#524894" transform="rotate(158 273.6 652.2)"/>
<ellipse cx="278.8" cy="651.5" rx="1.5" ry="1.4" fill="#524894" transform="rotate(76 279.0 651.8)"/>
<ellipse cx="284.7" cy="653.2" rx="1.7" ry="1.8" fill="#48408c" transform="rotate(140 285.2 652.8)"/>
<ellipse cx="236.9" cy="659.5" rx="1.8" ry="1.5" fill="#48408c" transform="rotate(66 236.5 659.4)"/>
<ellipse cx="242.9" cy="657.7" rx="1.7" ry="1.6" fill="#48408c" transform="rotate(104 242.5 658.0)"/>
<ellipse cx="248.0" cy="659.2" rx="1.8" ry="1.3" fill="#524894" transform="rotate(177 247.8 659.6)"/>
<ellipse cx="254.4" cy="657.6" rx="1.6" ry="1.5" fill="#48408c" transform="rotate(24 254.6 657.7)"/>
<ellipse cx="259.5" cy="659.9" rx="1.5" ry="1.7" fill="#3e3684" transform="rotate(105 259.2 659.5)"/>
<ellipse cx="266.4" cy="659.7" rx="1.4" ry="1.4" fill="#524894" transform="rotate(121 266.9 660.2)"/>
<ellipse cx="269.1" cy="656.1" rx="2.0" ry="1.9" fill="#3e3684" transform="rotate(99 269.0 656.4)"/>
<ellipse cx="276.3" cy="656.7" rx="1.7" ry="1.5" fill="#524894" transform="rotate(41 276.2 656.9)"/>
<ellipse cx="283.3" cy="655.8" rx="1.7" ry="1.7" fill="#48408c" transform="rotate(149 283.5 656.3)"/>
<ellipse cx="287.4" cy="659.1" rx="1.9" ry="1.9" fill="#524894" transform="rotate(143 287.5 658.6)"/>
<ellipse cx="233.0" cy="662.0" rx="1.7" ry="1.7" fill="#48408c" transform="rotate(177 232.8 662.0)"/>
<ellipse cx="235.4" cy="663.2" rx="1.9" ry="1.6" fill="#48408c" transform="rotate(22 235.1 663.6)"/>
<ellipse cx="239.7" cy="663.7" rx="1.5" ry="1.6" fill="#524894" transform="rotate(107 239.7 663.4)"/>
<ellipse cx="244.3" cy="662.4" rx="1.5" ry="1.1" fill="#524894" transform="rotate(111 244.2 662.5)"/>
<ellipse cx="251.3" cy="662.1" rx="1.6" ry="1.9" fill="#524894" transform="rotate(117 251.8 662.3)"/>
<ellipse cx="255.7" cy="663.3" rx="1.6" ry="1.9" fill="#48408c" transform="rotate(135 256.2 663.3)"/>
<ellipse cx="263.0" cy="661.0" rx="1.7" ry="1.6" fill="#524894" transform="rotate(64 262.6 661.3)"/>
<ellipse cx="269.4" cy="662.8" rx="1.9" ry="2.1" fill="#48408c" transform="rotate(19 269.8 662.8)"/>
<ellipse cx="275.4" cy="662.5" rx="1.9" ry="1.5" fill="#3e3684" transform="rotate(47 275.9 662.1)"/>
<ellipse cx="281.3" cy="661.1" rx="1.5" ry="1.5" fill="#524894" transform="rotate(32 281.2 660.8)"/>
<ellipse cx="285.0" cy="662.4" rx="1.8" ry="1.7" fill="#3e3684" transform="rotate(84 285.2 662.7)"/>
<ellipse cx="288.3" cy="663.7" rx="1.7" ry="1.7" fill="#48408c" transform="rotate(98 288.2 663.6)"/>
<ellipse cx="243.0" cy="664.4" rx="1.7" ry="1.3" fill="#3e3684" transform="rotate(153 242.8 664.5)"/>
<ellipse cx="248.0" cy="664.3" rx="2.0" ry="2.3" fill="#524894" transform="rotate(143 248.4 664.1)"/>
<ellipse cx="265.2" cy="664.4" rx="1.9" ry="1.5" fill="#524894" transform="rotate(46 264.7 664.8)"/>
<ellipse cx="272.6" cy="664.1" rx="1.8" ry="1.3" fill="#524894" transform="rotate(179 273.0 664.3)"/>
<ellipse cx="279.8" cy="664.7" rx="2.0" ry="1.7" fill="#48408c" transform="rotate(3 279.5 664.3)"/>
<ellipse cx="288.0" cy="665.1" rx="2.0" ry="2.4" fill="#524894" transform="rotate(68 287.9 664.6)"/>
<ellipse cx="273.1" cy="622.0" rx="8" ry="6" fill="#b8d8b8" opacity="0.6" filter="url(#b15)"/>
</g></g>
</g>
<g clip-path="url(#t22)">
<rect x="287.70" y="615.00" width="113.10" height="84.40" fill="url(#g22)"/>
<g>
<rect x="287.70" y="615.00" width="113.10" height="84.40" fill="#000" filter="url(#mlung2)"/>
</g>
<g>
<rect x="287.70" y="615.00" width="113.10" height="84.40" fill="#000" filter="url(#flung2)"/>
</g>
<g filter="url(#b5)">
<path d="M286,614 L298.3,614 C299,640 299.5,670 300.5,700 L286,700 Z" fill="#e4e6b0"/>
<path d="M298.8,614 C299.5,640 300,670 301,700" stroke="#8a7aa0" stroke-width="1.5" fill="none" opacity="0.6"/>
<path d="M402,660 C398,672 394,686 391,700 L402,700 Z" fill="#e6e8b2"/>
<ellipse cx="341" cy="673" rx="3.5" ry="5" fill="#e6e8b0"/>
<ellipse cx="343.5" cy="688" rx="3" ry="4" fill="#e6e8b0"/>
<ellipse cx="365" cy="677" rx="3" ry="3" fill="#e6e8b0"/>
<ellipse cx="368.5" cy="693" rx="2.5" ry="4.5" fill="#e6e8b0"/>
<ellipse cx="331" cy="625.5" rx="2.2" ry="2" fill="#e6e8b0"/>
<ellipse cx="332" cy="634" rx="2.5" ry="1.8" fill="#e6e8b0"/>
<ellipse cx="318" cy="660" rx="1.5" ry="1.2" fill="#e6e8b0"/>
<ellipse cx="324" cy="644" rx="1.3" ry="1" fill="#e6e8b0"/>
</g>
<g clip-path="url(#i22)"><g filter="url(#b5)">
<rect x="345.20" y="614.00" width="56.60" height="51.60" fill="#c0bade"/>
<path d="M351.6,614.5 L347.0,614.5 L351.9,616.0 L352.3,615.5Z" fill="#8a82bc" stroke="#c0bade" stroke-width="0.8"/>
<path d="M352.3,615.5 L354.0,614.9 L354.1,614.5 L351.6,614.5Z" fill="#8a82bc" stroke="#c0bade" stroke-width="0.8"/>
<path d="M354.0,614.9 L356.8,615.4 L358.3,614.5 L354.1,614.5Z" fill="#9890c4" stroke="#c0bade" stroke-width="0.8"/>
<path d="M364.9,617.4 L365.4,617.2 L366.2,614.5 L361.0,614.5Z" fill="#8a82bc" stroke="#c0bade" stroke-width="0.8"/>
<path d="M371.5,616.6 L372.1,614.5 L368.3,614.5Z" fill="#9890c4" stroke="#c0bade" stroke-width="0.8"/>
<path d="M379.4,615.7 L380.1,615.9 L385.1,614.7 L385.0,614.5 L378.8,614.5Z" fill="#8a82bc" stroke="#c0bade" stroke-width="0.8"/>
<path d="M385.1,614.7 L388.2,616.2 L388.8,616.0 L389.7,614.5 L385.0,614.5Z" fill="#8a82bc" stroke="#c0bade" stroke-width="0.8"/>
<path d="M400.2,615.4 L400.3,614.5 L397.5,614.5 L398.5,615.3Z" fill="#9890c4" stroke="#c0bade" stroke-width="0.8"/>
<path d="M400.2,615.4 L401.0,615.8 L401.3,615.8 L401.3,614.5 L400.3,614.5Z" fill="#8a82bc" stroke="#c0bade" stroke-width="0.8"/>
<path d="M347.0,614.5 L345.7,614.5 L345.7,619.6 L346.4,619.7 L351.2,617.5 L351.9,616.0Z" fill="#9890c4" stroke="#c0bade" stroke-width="0.8"/>
<path d="M351.9,616.0 L351.2,617.5 L354.1,624.7 L355.2,624.5 L359.1,620.0 L356.8,615.4 L354.0,614.9 L352.3,615.5Z" fill="#8a82bc" stroke="#c0bade" stroke-width="0.8"/>
<path d="M356.8,615.4 L359.1,620.0 L362.4,620.9 L364.9,617.4 L361.0,614.5 L358.3,614.5Z" fill="#9890c4" stroke="#c0bade" stroke-width="0.8"/>
<path d="M365.4,617.2 L371.3,619.8 L371.5,616.6 L368.3,614.5 L366.2,614.5Z" fill="#9890c4" stroke="#c0bade" stroke-width="0.8"/>
<path d="M371.5,616.6 L371.3,619.8 L371.5,620.1 L372.9,620.8 L377.2,618.9 L379.4,615.7 L378.8,614.5 L372.1,614.5Z" fill="#8a82bc" stroke="#c0bade" stroke-width="0.8"/>
<path d="M384.6,622.1 L380.1,615.9 L379.4,615.7 L377.2,618.9 L380.8,623.4Z" fill="#8a82bc" stroke="#c0bade" stroke-width="0.8"/>
<path d="M388.2,616.2 L385.1,614.7 L380.1,615.9 L384.6,622.1 L385.8,622.3Z" fill="#8a82bc" stroke="#c0bade" stroke-width="0.8"/>
<path d="M393.8,619.6 L398.5,615.3 L397.5,614.5 L389.7,614.5 L388.8,616.0Z" fill="#9890c4" stroke="#c0bade" stroke-width="0.8"/>
<path d="M393.8,619.6 L393.8,621.0 L399.5,621.5 L401.0,615.8 L400.2,615.4 L398.5,615.3Z" fill="#8a82bc" stroke="#c0bade" stroke-width="0.8"/>
<path d="M348.1,626.1 L346.4,619.7 L345.7,619.6 L345.7,626.9Z" fill="#8a82bc" stroke="#c0bade" stroke-width="0.8"/>
<path d="M346.4,619.7 L348.1,626.1 L349.9,626.9 L352.3,626.9 L354.1,624.7 L351.2,617.5Z" fill="#9890c4" stroke="#c0bade" stroke-width="0.8"/>
<path d="M355.2,624.5 L359.8,626.7 L363.4,623.3 L362.4,620.9 L359.1,620.0Z" fill="#8a82bc" stroke="#c0bade" stroke-width="0.8"/>
<path d="M366.2,624.8 L371.5,620.1 L371.3,619.8 L365.4,617.2 L364.9,617.4 L362.4,620.9 L363.4,623.3Z" fill="#9890c4" stroke="#c0bade" stroke-width="0.8"/>
<path d="M366.4,625.6 L372.7,627.5 L374.7,626.7 L372.9,620.8 L371.5,620.1 L366.2,624.8Z" fill="#8a82bc" stroke="#c0bade" stroke-width="0.8"/>
<path d="M377.2,618.9 L372.9,620.8 L374.7,626.7 L375.0,626.9 L380.0,624.8 L380.8,623.4Z" fill="#8a82bc" stroke="#c0bade" stroke-width="0.8"/>
<path d="M385.8,622.3 L384.6,622.1 L380.8,623.4 L380.0,624.8 L383.5,630.3 L384.4,630.5 L386.8,623.6Z" fill="#9890c4" stroke="#c0bade" stroke-width="0.8"/>
<path d="M388.2,616.2 L385.8,622.3 L386.8,623.6 L390.4,624.3 L393.4,622.6 L393.8,621.0 L393.8,619.6 L388.8,616.0Z" fill="#8a82bc" stroke="#c0bade" stroke-width="0.8"/>
<path d="M399.5,621.5 L393.8,621.0 L393.4,622.6 L397.3,625.9 L399.9,624.1Z" fill="#9890c4" stroke="#c0bade" stroke-width="0.8"/>
<path d="M399.5,621.5 L399.9,624.1 L401.3,624.3 L401.3,615.8 L401.0,615.8Z" fill="#9890c4" stroke="#c0bade" stroke-width="0.8"/>
<path d="M348.1,626.1 L345.7,626.9 L345.7,633.3 L347.4,632.5 L349.9,626.9Z" fill="#9890c4" stroke="#c0bade" stroke-width="0.8"/>
<path d="M360.8,631.1 L359.8,626.7 L355.2,624.5 L354.1,624.7 L352.3,626.9 L353.7,630.7Z" fill="#8a82bc" stroke="#c0bade" stroke-width="0.8"/>
<path d="M363.2,632.0 L365.2,631.5 L365.5,631.0 L366.4,625.6 L366.2,624.8 L363.4,623.3 L359.8,626.7 L360.8,631.1 L361.8,632.0Z" fill="#8a82bc" stroke="#c0bade" stroke-width="0.8"/>
<path d="M372.7,627.5 L366.4,625.6 L365.5,631.0 L370.8,629.7Z" fill="#8a82bc" stroke="#c0bade" stroke-width="0.8"/>
<path d="M374.6,634.8 L375.6,628.2 L375.0,626.9 L374.7,626.7 L372.7,627.5 L370.8,629.7 L372.3,634.3Z" fill="#9890c4" stroke="#c0bade" stroke-width="0.8"/>
<path d="M383.5,630.3 L380.0,624.8 L375.0,626.9 L375.6,628.2 L380.7,630.9Z" fill="#9890c4" stroke="#c0bade" stroke-width="0.8"/>
<path d="M384.4,630.5 L385.6,631.9 L391.4,628.6 L390.4,624.3 L386.8,623.6Z" fill="#9890c4" stroke="#c0bade" stroke-width="0.8"/>
<path d="M390.4,624.3 L391.4,628.6 L394.9,630.8 L397.0,630.3 L397.3,625.9 L393.4,622.6Z" fill="#9890c4" stroke="#c0bade" stroke-width="0.8"/>
<path d="M397.3,625.9 L397.0,630.3 L397.8,630.9 L401.3,629.3 L401.3,624.3 L399.9,624.1Z" fill="#8a82bc" stroke="#c0bade" stroke-width="0.8"/>
<path d="M397.8,630.9 L399.4,633.7 L401.3,632.9 L401.3,629.3Z" fill="#9890c4" stroke="#c0bade" stroke-width="0.8"/>
<path d="M347.4,632.5 L345.7,633.3 L345.7,633.8 L351.3,638.3 L353.0,634.3 L352.9,633.9Z" fill="#8a82bc" stroke="#c0bade" stroke-width="0.8"/>
<path d="M353.7,630.7 L352.3,626.9 L349.9,626.9 L347.4,632.5 L352.9,633.9Z" fill="#9890c4" stroke="#c0bade" stroke-width="0.8"/>
<path d="M353.0,634.3 L359.0,636.2 L361.8,632.0 L360.8,631.1 L353.7,630.7 L352.9,633.9Z" fill="#8a82bc" stroke="#c0bade" stroke-width="0.8"/>
<path d="M368.2,634.6 L365.2,631.5 L363.2,632.0 L364.6,641.2 L366.1,641.5Z" fill="#8a82bc" stroke="#c0bade" stroke-width="0.8"/>
<path d="M368.2,634.6 L370.0,634.8 L372.3,634.3 L370.8,629.7 L365.5,631.0 L365.2,631.5Z" fill="#9890c4" stroke="#c0bade" stroke-width="0.8"/>
<path d="M376.2,636.6 L377.2,636.3 L380.7,630.9 L375.6,628.2 L374.6,634.8Z" fill="#9890c4" stroke="#c0bade" stroke-width="0.8"/>
<path d="M385.6,631.9 L384.4,630.5 L383.5,630.3 L380.7,630.9 L377.2,636.3 L382.5,637.3 L385.8,632.4Z" fill="#9890c4" stroke="#c0bade" stroke-width="0.8"/>
<path d="M394.9,630.8 L391.4,628.6 L385.6,631.9 L385.8,632.4 L390.8,636.4Z" fill="#8a82bc" stroke="#c0bade" stroke-width="0.8"/>
<path d="M395.8,639.2 L400.1,636.9 L399.4,633.7 L397.8,630.9 L397.0,630.3 L394.9,630.8 L390.8,636.4 L390.9,637.0Z" fill="#9890c4" stroke="#c0bade" stroke-width="0.8"/>
<path d="M400.1,636.9 L401.2,637.4 L401.3,637.4 L401.3,632.9 L399.4,633.7Z" fill="#9890c4" stroke="#c0bade" stroke-width="0.8"/>
<path d="M349.8,641.3 L349.9,640.8 L345.7,637.7 L345.7,642.1Z" fill="#9890c4" stroke="#c0bade" stroke-width="0.8"/>
<path d="M349.9,640.8 L351.2,639.0 L351.3,638.3 L345.7,633.8 L345.7,637.7Z" fill="#8a82bc" stroke="#c0bade" stroke-width="0.8"/>
<path d="M351.3,638.3 L351.2,639.0 L358.7,640.6 L359.3,640.3 L359.0,636.2 L353.0,634.3Z" fill="#9890c4" stroke="#c0bade" stroke-width="0.8"/>
<path d="M363.2,632.0 L361.8,632.0 L359.0,636.2 L359.3,640.3 L362.5,641.5 L364.6,641.2Z" fill="#9890c4" stroke="#c0bade" stroke-width="0.8"/>
<path d="M370.8,640.1 L370.0,634.8 L368.2,634.6 L366.1,641.5 L367.2,642.2Z" fill="#8a82bc" stroke="#c0bade" stroke-width="0.8"/>
<path d="M370.8,640.1 L375.5,639.3 L376.2,636.6 L374.6,634.8 L372.3,634.3 L370.0,634.8Z" fill="#8a82bc" stroke="#c0bade" stroke-width="0.8"/>
<path d="M382.5,637.3 L377.2,636.3 L376.2,636.6 L375.5,639.3 L376.1,640.9 L381.3,642.8 L384.0,641.2Z" fill="#9890c4" stroke="#c0bade" stroke-width="0.8"/>
<path d="M390.8,636.4 L385.8,632.4 L382.5,637.3 L384.0,641.2 L385.0,641.6 L388.3,641.1 L390.9,637.0Z" fill="#9890c4" stroke="#c0bade" stroke-width="0.8"/>
<path d="M395.8,639.2 L390.9,637.0 L388.3,641.1 L391.2,645.6 L395.9,643.3Z" fill="#8a82bc" stroke="#c0bade" stroke-width="0.8"/>
<path d="M400.6,643.9 L401.2,637.4 L400.1,636.9 L395.8,639.2 L395.9,643.3 L397.7,644.7Z" fill="#8a82bc" stroke="#c0bade" stroke-width="0.8"/>
<path d="M401.2,637.4 L400.6,643.9 L401.3,644.2 L401.3,637.4Z" fill="#8a82bc" stroke="#c0bade" stroke-width="0.8"/>
<path d="M346.7,648.6 L350.2,645.6 L350.8,644.5 L349.8,641.3 L345.7,642.1 L345.7,648.1Z" fill="#8a82bc" stroke="#c0bade" stroke-width="0.8"/>
<path d="M350.8,644.5 L355.8,645.8 L358.7,640.6 L351.2,639.0 L349.9,640.8 L349.8,641.3Z" fill="#9890c4" stroke="#c0bade" stroke-width="0.8"/>
<path d="M359.3,640.3 L358.7,640.6 L355.8,645.8 L357.5,649.0 L357.9,649.1 L361.4,646.1 L362.5,641.5Z" fill="#8a82bc" stroke="#c0bade" stroke-width="0.8"/>
<path d="M367.2,642.2 L366.1,641.5 L364.6,641.2 L362.5,641.5 L361.4,646.1 L364.2,647.8 L368.5,645.5Z" fill="#9890c4" stroke="#c0bade" stroke-width="0.8"/>
<path d="M370.0,647.0 L374.4,646.1 L376.1,640.9 L375.5,639.3 L370.8,640.1 L367.2,642.2 L368.5,645.5Z" fill="#8a82bc" stroke="#c0bade" stroke-width="0.8"/>
<path d="M380.2,648.2 L381.3,642.8 L376.1,640.9 L374.4,646.1 L376.9,647.9Z" fill="#8a82bc" stroke="#c0bade" stroke-width="0.8"/>
<path d="M384.0,641.2 L381.3,642.8 L380.2,648.2 L381.6,649.6 L385.4,648.2 L385.0,641.6Z" fill="#8a82bc" stroke="#c0bade" stroke-width="0.8"/>
<path d="M391.2,645.6 L388.3,641.1 L385.0,641.6 L385.4,648.2 L388.5,648.9 L390.7,648.1Z" fill="#9890c4" stroke="#c0bade" stroke-width="0.8"/>
<path d="M395.9,643.3 L391.2,645.6 L390.7,648.1 L393.5,650.5 L396.7,650.1 L397.9,649.2 L397.7,644.7Z" fill="#9890c4" stroke="#c0bade" stroke-width="0.8"/>
<path d="M397.9,649.2 L401.3,649.8 L401.3,644.2 L400.6,643.9 L397.7,644.7Z" fill="#9890c4" stroke="#c0bade" stroke-width="0.8"/>
<path d="M346.6,653.4 L347.3,652.0 L346.7,648.6 L345.7,648.1 L345.7,653.6Z" fill="#9890c4" stroke="#c0bade" stroke-width="0.8"/>
<path d="M350.2,645.6 L346.7,648.6 L347.3,652.0 L352.8,651.5Z" fill="#9890c4" stroke="#c0bade" stroke-width="0.8"/>
<path d="M355.8,645.8 L350.8,644.5 L350.2,645.6 L352.8,651.5 L353.4,651.8 L357.5,649.0Z" fill="#9890c4" stroke="#c0bade" stroke-width="0.8"/>
<path d="M361.4,646.1 L357.9,649.1 L362.2,654.2 L364.2,647.8Z" fill="#8a82bc" stroke="#c0bade" stroke-width="0.8"/>
<path d="M364.2,647.8 L362.2,654.2 L362.4,654.5 L367.1,653.5 L369.4,652.0 L370.0,647.0 L368.5,645.5Z" fill="#8a82bc" stroke="#c0bade" stroke-width="0.8"/>
<path d="M373.3,654.2 L375.0,653.2 L376.9,647.9 L374.4,646.1 L370.0,647.0 L369.4,652.0Z" fill="#9890c4" stroke="#c0bade" stroke-width="0.8"/>
<path d="M381.6,649.6 L380.2,648.2 L376.9,647.9 L375.0,653.2 L380.1,654.0 L381.6,652.3Z" fill="#9890c4" stroke="#c0bade" stroke-width="0.8"/>
<path d="M385.4,648.2 L381.6,649.6 L381.6,652.3 L385.2,654.6 L387.8,651.9 L388.5,648.9Z" fill="#9890c4" stroke="#c0bade" stroke-width="0.8"/>
<path d="M390.7,648.1 L388.5,648.9 L387.8,651.9 L391.1,655.8 L391.4,655.9 L392.5,655.6 L393.5,650.5Z" fill="#9890c4" stroke="#c0bade" stroke-width="0.8"/>
<path d="M396.7,650.1 L398.5,656.2 L401.3,655.0 L401.3,649.8 L397.9,649.2Z" fill="#9890c4" stroke="#c0bade" stroke-width="0.8"/>
<path d="M345.9,661.3 L348.1,656.3 L346.6,653.4 L345.7,653.6 L345.7,661.2Z" fill="#9890c4" stroke="#c0bade" stroke-width="0.8"/>
<path d="M353.4,651.8 L352.8,651.5 L347.3,652.0 L346.6,653.4 L348.1,656.3 L351.7,656.8 L353.8,656.0Z" fill="#8a82bc" stroke="#c0bade" stroke-width="0.8"/>
<path d="M357.9,649.1 L357.5,649.0 L353.4,651.8 L353.8,656.0 L357.9,658.2 L361.4,656.6 L362.4,654.5 L362.2,654.2Z" fill="#8a82bc" stroke="#c0bade" stroke-width="0.8"/>
<path d="M362.4,654.5 L361.4,656.6 L364.5,661.2 L366.6,662.0 L369.7,659.7 L367.1,653.5Z" fill="#9890c4" stroke="#c0bade" stroke-width="0.8"/>
<path d="M369.7,659.7 L373.9,659.5 L374.2,659.2 L373.3,654.2 L369.4,652.0 L367.1,653.5Z" fill="#8a82bc" stroke="#c0bade" stroke-width="0.8"/>
<path d="M374.2,659.2 L379.3,659.6 L379.4,659.6 L380.1,654.0 L375.0,653.2 L373.3,654.2Z" fill="#8a82bc" stroke="#c0bade" stroke-width="0.8"/>
<path d="M381.6,652.3 L380.1,654.0 L379.4,659.6 L385.0,659.8 L386.1,656.9 L385.2,654.6Z" fill="#8a82bc" stroke="#c0bade" stroke-width="0.8"/>
<path d="M385.2,654.6 L386.1,656.9 L391.1,655.8 L387.8,651.9Z" fill="#8a82bc" stroke="#c0bade" stroke-width="0.8"/>
<path d="M393.5,650.5 L392.5,655.6 L395.9,658.2 L397.8,657.2 L398.5,656.2 L396.7,650.1Z" fill="#9890c4" stroke="#c0bade" stroke-width="0.8"/>
<path d="M397.8,657.2 L401.3,659.9 L401.3,655.0 L398.5,656.2Z" fill="#9890c4" stroke="#c0bade" stroke-width="0.8"/>
<path d="M346.1,661.7 L345.9,661.3 L345.7,661.2 L345.7,662.0Z" fill="#9890c4" stroke="#c0bade" stroke-width="0.8"/>
<path d="M351.7,656.8 L348.1,656.3 L345.9,661.3 L346.1,661.7 L349.2,663.9 L351.1,663.1Z" fill="#8a82bc" stroke="#c0bade" stroke-width="0.8"/>
<path d="M357.0,660.6 L357.9,658.2 L353.8,656.0 L351.7,656.8 L351.1,663.1 L354.6,663.1Z" fill="#9890c4" stroke="#c0bade" stroke-width="0.8"/>
<path d="M361.4,656.6 L357.9,658.2 L357.0,660.6 L360.8,665.1 L361.5,665.1 L364.5,661.2Z" fill="#9890c4" stroke="#c0bade" stroke-width="0.8"/>
<path d="M373.2,664.8 L373.9,659.5 L369.7,659.7 L366.6,662.0 L367.3,663.6 L371.7,665.1 L372.8,665.1Z" fill="#8a82bc" stroke="#c0bade" stroke-width="0.8"/>
<path d="M373.2,664.8 L374.8,665.1 L379.4,665.1 L379.3,659.6 L374.2,659.2 L373.9,659.5Z" fill="#8a82bc" stroke="#c0bade" stroke-width="0.8"/>
<path d="M385.3,660.2 L385.0,659.8 L379.4,659.6 L379.3,659.6 L379.4,665.1 L382.6,665.1Z" fill="#8a82bc" stroke="#c0bade" stroke-width="0.8"/>
<path d="M391.1,655.8 L386.1,656.9 L385.0,659.8 L385.3,660.2 L387.8,662.3 L389.4,662.0 L391.4,655.9Z" fill="#8a82bc" stroke="#c0bade" stroke-width="0.8"/>
<path d="M389.4,662.0 L393.8,663.0 L395.2,662.3 L395.9,658.2 L392.5,655.6 L391.4,655.9Z" fill="#9890c4" stroke="#c0bade" stroke-width="0.8"/>
<path d="M397.8,657.2 L395.9,658.2 L395.2,662.3 L399.4,665.1 L400.5,665.1 L400.5,665.1 L401.3,663.2 L401.3,659.9Z" fill="#9890c4" stroke="#c0bade" stroke-width="0.8"/>
<path d="M400.5,665.1 L400.6,665.1 L401.3,665.1 L401.3,663.2Z" fill="#8a82bc" stroke="#c0bade" stroke-width="0.8"/>
<path d="M349.2,663.9 L346.1,661.7 L345.7,662.0 L345.7,665.1 L349.1,665.1Z" fill="#8a82bc" stroke="#c0bade" stroke-width="0.8"/>
<path d="M354.6,663.1 L351.1,663.1 L349.2,663.9 L349.1,665.1 L355.5,665.1Z" fill="#8a82bc" stroke="#c0bade" stroke-width="0.8"/>
<path d="M357.0,660.6 L354.6,663.1 L355.5,665.1 L360.8,665.1Z" fill="#9890c4" stroke="#c0bade" stroke-width="0.8"/>
<path d="M366.6,662.0 L364.5,661.2 L361.5,665.1 L366.9,665.1 L367.3,663.6Z" fill="#9890c4" stroke="#c0bade" stroke-width="0.8"/>
<path d="M367.3,663.6 L366.9,665.1 L371.7,665.1Z" fill="#8a82bc" stroke="#c0bade" stroke-width="0.8"/>
<path d="M373.2,664.8 L372.8,665.1 L374.8,665.1Z" fill="#9890c4" stroke="#c0bade" stroke-width="0.8"/>
<path d="M382.6,665.1 L387.2,665.1 L387.8,662.3 L385.3,660.2Z" fill="#9890c4" stroke="#c0bade" stroke-width="0.8"/>
<path d="M393.8,663.0 L389.4,662.0 L387.8,662.3 L387.2,665.1 L393.2,665.1Z" fill="#8a82bc" stroke="#c0bade" stroke-width="0.8"/>
<path d="M395.2,662.3 L393.8,663.0 L393.2,665.1 L399.4,665.1Z" fill="#8a82bc" stroke="#c0bade" stroke-width="0.8"/>
<path d="M400.5,665.1 L400.5,665.1 L400.6,665.1Z" fill="#9890c4" stroke="#c0bade" stroke-width="0.8"/>
<ellipse cx="350.2" cy="614.8" rx="1.9" ry="1.7" fill="#483e92" transform="rotate(98 350.3 615.0)"/>
<ellipse cx="352.9" cy="614.4" rx="2.3" ry="2.4" fill="#3c3488" transform="rotate(5 352.8 614.9)"/>
<ellipse cx="356.0" cy="615.3" rx="2.1" ry="1.7" fill="#322a7c" transform="rotate(72 356.1 614.8)"/>
<ellipse cx="364.3" cy="615.3" rx="2.0" ry="1.8" fill="#483e92" transform="rotate(173 364.1 615.6)"/>
<ellipse cx="370.7" cy="615.6" rx="2.1" ry="1.6" fill="#3c3488" transform="rotate(47 370.7 615.2)"/>
<ellipse cx="381.1" cy="615.0" rx="1.9" ry="2.2" fill="#483e92" transform="rotate(55 381.4 615.0)"/>
<ellipse cx="387.5" cy="615.5" rx="2.3" ry="2.7" fill="#322a7c" transform="rotate(90 387.6 615.1)"/>
<ellipse cx="399.4" cy="614.8" rx="1.9" ry="1.8" fill="#483e92" transform="rotate(161 399.1 614.9)"/>
<ellipse cx="401.3" cy="614.7" rx="1.9" ry="1.8" fill="#3c3488" transform="rotate(63 400.8 615.1)"/>
<ellipse cx="348.3" cy="616.4" rx="2.3" ry="2.4" fill="#3c3488" transform="rotate(85 348.1 616.9)"/>
<ellipse cx="354.5" cy="619.5" rx="2.4" ry="2.4" fill="#3c3488" transform="rotate(51 355.0 619.3)"/>
<ellipse cx="360.6" cy="617.3" rx="2.0" ry="1.5" fill="#3c3488" transform="rotate(62 360.7 617.4)"/>
<ellipse cx="368.2" cy="616.5" rx="1.6" ry="1.3" fill="#322a7c" transform="rotate(147 368.6 616.8)"/>
<ellipse cx="375.2" cy="617.0" rx="2.2" ry="2.4" fill="#322a7c" transform="rotate(128 374.8 617.1)"/>
<ellipse cx="381.1" cy="619.7" rx="2.1" ry="1.8" fill="#3c3488" transform="rotate(123 380.6 619.8)"/>
<ellipse cx="384.7" cy="617.5" rx="2.3" ry="2.7" fill="#322a7c" transform="rotate(133 384.5 617.9)"/>
<ellipse cx="393.8" cy="616.7" rx="2.0" ry="2.0" fill="#322a7c" transform="rotate(50 393.5 616.3)"/>
<ellipse cx="397.5" cy="619.0" rx="2.0" ry="1.7" fill="#483e92" transform="rotate(3 397.7 618.7)"/>
<ellipse cx="346.3" cy="623.5" rx="2.0" ry="1.5" fill="#3c3488" transform="rotate(171 346.6 623.7)"/>
<ellipse cx="350.7" cy="622.4" rx="2.3" ry="2.3" fill="#483e92" transform="rotate(41 350.2 622.6)"/>
<ellipse cx="359.2" cy="623.0" rx="1.8" ry="1.6" fill="#3c3488" transform="rotate(112 359.6 623.3)"/>
<ellipse cx="366.8" cy="620.5" rx="2.0" ry="1.9" fill="#322a7c" transform="rotate(109 366.4 620.9)"/>
<ellipse cx="370.6" cy="624.3" rx="1.9" ry="1.8" fill="#322a7c" transform="rotate(179 370.9 624.2)"/>
<ellipse cx="376.8" cy="622.9" rx="2.3" ry="2.2" fill="#483e92" transform="rotate(41 376.6 622.9)"/>
<ellipse cx="383.4" cy="625.9" rx="1.9" ry="1.9" fill="#483e92" transform="rotate(26 383.6 625.6)"/>
<ellipse cx="390.0" cy="620.4" rx="2.3" ry="2.0" fill="#322a7c" transform="rotate(115 389.8 620.7)"/>
<ellipse cx="396.9" cy="623.3" rx="1.4" ry="1.1" fill="#483e92" transform="rotate(30 396.9 623.0)"/>
<ellipse cx="400.4" cy="620.3" rx="2.1" ry="1.8" fill="#3c3488" transform="rotate(49 400.6 620.7)"/>
<ellipse cx="347.0" cy="629.4" rx="1.8" ry="1.8" fill="#3c3488" transform="rotate(151 347.3 629.2)"/>
<ellipse cx="356.0" cy="628.1" rx="1.9" ry="2.1" fill="#322a7c" transform="rotate(47 356.4 628.1)"/>
<ellipse cx="363.1" cy="628.2" rx="2.1" ry="2.0" fill="#322a7c" transform="rotate(46 363.2 627.9)"/>
<ellipse cx="368.6" cy="628.3" rx="1.6" ry="1.8" fill="#483e92" transform="rotate(164 368.5 628.3)"/>
<ellipse cx="373.7" cy="630.6" rx="2.0" ry="2.1" fill="#322a7c" transform="rotate(162 373.4 630.7)"/>
<ellipse cx="379.3" cy="628.3" rx="2.0" ry="2.2" fill="#3c3488" transform="rotate(18 379.4 628.0)"/>
<ellipse cx="388.0" cy="628.1" rx="1.9" ry="1.9" fill="#322a7c" transform="rotate(105 387.9 627.6)"/>
<ellipse cx="394.0" cy="627.0" rx="2.3" ry="2.2" fill="#322a7c" transform="rotate(149 394.0 626.8)"/>
<ellipse cx="399.4" cy="627.7" rx="2.3" ry="1.9" fill="#322a7c" transform="rotate(1 399.2 627.5)"/>
<ellipse cx="400.3" cy="632.0" rx="1.9" ry="2.3" fill="#483e92" transform="rotate(82 399.9 631.5)"/>
<ellipse cx="349.9" cy="634.7" rx="1.5" ry="1.5" fill="#483e92" transform="rotate(83 349.7 634.8)"/>
<ellipse cx="350.7" cy="630.8" rx="2.1" ry="2.2" fill="#322a7c" transform="rotate(121 350.9 630.5)"/>
<ellipse cx="357.1" cy="633.4" rx="2.0" ry="1.9" fill="#3c3488" transform="rotate(10 357.2 633.1)"/>
<ellipse cx="365.9" cy="636.2" rx="1.8" ry="1.4" fill="#322a7c" transform="rotate(169 365.5 636.1)"/>
<ellipse cx="369.4" cy="632.3" rx="1.5" ry="1.2" fill="#483e92" transform="rotate(22 369.1 632.4)"/>
<ellipse cx="376.7" cy="632.7" rx="2.1" ry="1.8" fill="#3c3488" transform="rotate(161 377.1 632.4)"/>
<ellipse cx="382.0" cy="634.3" rx="2.0" ry="2.1" fill="#3c3488" transform="rotate(126 381.8 633.8)"/>
<ellipse cx="390.6" cy="632.2" rx="2.1" ry="1.9" fill="#322a7c" transform="rotate(22 390.4 632.2)"/>
<ellipse cx="396.0" cy="634.7" rx="2.0" ry="1.5" fill="#3c3488" transform="rotate(153 395.8 635.0)"/>
<ellipse cx="400.2" cy="634.7" rx="1.9" ry="2.0" fill="#483e92" transform="rotate(100 400.6 635.1)"/>
<ellipse cx="347.5" cy="640.0" rx="1.8" ry="1.8" fill="#483e92" transform="rotate(160 347.2 640.3)"/>
<ellipse cx="348.1" cy="637.5" rx="1.7" ry="1.5" fill="#3c3488" transform="rotate(56 348.2 637.6)"/>
<ellipse cx="355.9" cy="637.8" rx="2.1" ry="1.8" fill="#322a7c" transform="rotate(149 355.4 637.6)"/>
<ellipse cx="361.6" cy="637.0" rx="1.9" ry="2.0" fill="#3c3488" transform="rotate(103 361.8 637.2)"/>
<ellipse cx="368.3" cy="638.9" rx="1.5" ry="1.6" fill="#322a7c" transform="rotate(46 368.6 638.5)"/>
<ellipse cx="372.6" cy="637.4" rx="1.9" ry="2.0" fill="#483e92" transform="rotate(150 373.0 637.2)"/>
<ellipse cx="379.4" cy="639.6" rx="1.9" ry="1.5" fill="#3c3488" transform="rotate(122 379.6 639.4)"/>
<ellipse cx="386.5" cy="637.6" rx="1.8" ry="1.9" fill="#3c3488" transform="rotate(0 386.5 637.5)"/>
<ellipse cx="392.6" cy="641.3" rx="2.3" ry="2.6" fill="#322a7c" transform="rotate(70 392.3 641.2)"/>
<ellipse cx="398.7" cy="641.2" rx="1.8" ry="2.1" fill="#483e92" transform="rotate(49 398.5 640.9)"/>
<ellipse cx="400.6" cy="641.4" rx="2.2" ry="2.5" fill="#322a7c" transform="rotate(174 401.1 641.5)"/>
<ellipse cx="347.7" cy="644.9" rx="2.2" ry="2.0" fill="#3c3488" transform="rotate(18 347.9 644.6)"/>
<ellipse cx="354.1" cy="642.2" rx="2.1" ry="1.7" fill="#3c3488" transform="rotate(20 353.9 642.2)"/>
<ellipse cx="359.5" cy="644.2" rx="2.0" ry="2.0" fill="#483e92" transform="rotate(70 359.2 644.5)"/>
<ellipse cx="365.1" cy="644.6" rx="1.8" ry="1.6" fill="#322a7c" transform="rotate(14 364.7 644.4)"/>
<ellipse cx="372.2" cy="643.4" rx="2.0" ry="2.2" fill="#3c3488" transform="rotate(67 371.9 643.1)"/>
<ellipse cx="377.5" cy="644.3" rx="1.9" ry="2.0" fill="#322a7c" transform="rotate(179 377.9 644.7)"/>
<ellipse cx="383.1" cy="645.6" rx="1.8" ry="1.7" fill="#3c3488" transform="rotate(118 383.0 645.6)"/>
<ellipse cx="387.8" cy="645.2" rx="2.4" ry="2.0" fill="#322a7c" transform="rotate(69 387.8 645.2)"/>
<ellipse cx="394.4" cy="647.1" rx="1.9" ry="1.8" fill="#322a7c" transform="rotate(108 394.7 647.1)"/>
<ellipse cx="399.6" cy="646.4" rx="2.2" ry="1.7" fill="#483e92" transform="rotate(16 399.6 646.8)"/>
<ellipse cx="346.4" cy="650.8" rx="1.9" ry="1.8" fill="#483e92" transform="rotate(112 346.3 651.0)"/>
<ellipse cx="349.2" cy="649.6" rx="1.6" ry="1.8" fill="#483e92" transform="rotate(131 349.5 649.4)"/>
<ellipse cx="353.3" cy="647.4" rx="1.9" ry="1.5" fill="#3c3488" transform="rotate(151 353.7 647.9)"/>
<ellipse cx="361.9" cy="649.5" rx="1.9" ry="1.8" fill="#483e92" transform="rotate(154 361.4 649.6)"/>
<ellipse cx="366.7" cy="650.6" rx="2.2" ry="1.9" fill="#3c3488" transform="rotate(12 366.4 650.2)"/>
<ellipse cx="372.7" cy="650.3" rx="2.1" ry="1.9" fill="#3c3488" transform="rotate(53 373.0 649.9)"/>
<ellipse cx="378.7" cy="650.7" rx="1.8" ry="1.8" fill="#3c3488" transform="rotate(132 378.6 651.0)"/>
<ellipse cx="385.1" cy="651.4" rx="1.9" ry="1.8" fill="#3c3488" transform="rotate(12 384.9 651.1)"/>
<ellipse cx="390.5" cy="651.8" rx="1.9" ry="1.4" fill="#483e92" transform="rotate(106 390.7 651.8)"/>
<ellipse cx="398.8" cy="652.1" rx="2.0" ry="1.6" fill="#483e92" transform="rotate(97 399.3 652.4)"/>
<ellipse cx="346.7" cy="656.7" rx="2.2" ry="2.1" fill="#322a7c" transform="rotate(173 346.6 656.8)"/>
<ellipse cx="350.9" cy="653.8" rx="2.2" ry="2.2" fill="#483e92" transform="rotate(93 350.5 654.1)"/>
<ellipse cx="357.5" cy="653.7" rx="2.3" ry="2.2" fill="#3c3488" transform="rotate(48 357.6 653.9)"/>
<ellipse cx="365.4" cy="657.7" rx="1.9" ry="1.9" fill="#322a7c" transform="rotate(46 365.6 657.6)"/>
<ellipse cx="371.1" cy="655.9" rx="1.9" ry="1.6" fill="#3c3488" transform="rotate(25 370.8 656.1)"/>
<ellipse cx="376.9" cy="656.5" rx="2.1" ry="2.2" fill="#483e92" transform="rotate(88 376.7 656.4)"/>
<ellipse cx="382.6" cy="657.0" rx="1.9" ry="1.5" fill="#3c3488" transform="rotate(53 382.6 656.6)"/>
<ellipse cx="388.2" cy="655.1" rx="1.5" ry="1.3" fill="#322a7c" transform="rotate(15 387.8 654.7)"/>
<ellipse cx="395.0" cy="654.4" rx="2.3" ry="2.5" fill="#483e92" transform="rotate(128 395.5 654.1)"/>
<ellipse cx="399.9" cy="657.5" rx="1.8" ry="1.4" fill="#483e92" transform="rotate(82 400.0 657.3)"/>
<ellipse cx="345.9" cy="662.1" rx="1.5" ry="1.2" fill="#322a7c" transform="rotate(79 345.8 661.6)"/>
<ellipse cx="348.7" cy="660.3" rx="2.1" ry="2.0" fill="#322a7c" transform="rotate(166 349.1 660.0)"/>
<ellipse cx="354.4" cy="659.6" rx="2.1" ry="1.7" fill="#3c3488" transform="rotate(144 354.1 659.7)"/>
<ellipse cx="360.3" cy="660.8" rx="2.2" ry="2.3" fill="#322a7c" transform="rotate(128 360.7 660.7)"/>
<ellipse cx="371.0" cy="662.0" rx="2.0" ry="1.8" fill="#3c3488" transform="rotate(29 370.7 662.2)"/>
<ellipse cx="376.1" cy="662.5" rx="2.3" ry="1.8" fill="#322a7c" transform="rotate(154 376.4 662.3)"/>
<ellipse cx="382.0" cy="662.3" rx="2.0" ry="2.0" fill="#483e92" transform="rotate(0 381.7 662.1)"/>
<ellipse cx="387.9" cy="658.5" rx="1.6" ry="1.6" fill="#3c3488" transform="rotate(52 388.2 658.9)"/>
<ellipse cx="392.3" cy="659.2" rx="1.9" ry="2.3" fill="#3c3488" transform="rotate(22 392.8 659.6)"/>
<ellipse cx="398.3" cy="661.1" rx="2.0" ry="1.6" fill="#322a7c" transform="rotate(4 398.4 661.2)"/>
<ellipse cx="400.7" cy="664.7" rx="2.3" ry="2.5" fill="#3c3488" transform="rotate(40 401.0 664.5)"/>
<ellipse cx="347.4" cy="664.3" rx="2.2" ry="1.7" fill="#322a7c" transform="rotate(84 347.1 663.8)"/>
<ellipse cx="352.7" cy="663.9" rx="1.9" ry="1.8" fill="#322a7c" transform="rotate(77 352.3 664.2)"/>
<ellipse cx="357.7" cy="663.8" rx="2.0" ry="2.4" fill="#483e92" transform="rotate(23 357.3 663.5)"/>
<ellipse cx="365.0" cy="663.9" rx="2.2" ry="1.9" fill="#483e92" transform="rotate(174 364.8 663.6)"/>
<ellipse cx="368.6" cy="664.4" rx="1.7" ry="1.4" fill="#483e92" transform="rotate(19 368.6 664.6)"/>
<ellipse cx="374.1" cy="664.6" rx="1.8" ry="2.0" fill="#3c3488" transform="rotate(7 373.6 665.0)"/>
<ellipse cx="385.8" cy="663.2" rx="1.6" ry="1.3" fill="#3c3488" transform="rotate(23 385.5 663.2)"/>
<ellipse cx="389.9" cy="663.8" rx="1.9" ry="1.7" fill="#3c3488" transform="rotate(150 390.3 663.7)"/>
<ellipse cx="395.3" cy="664.1" rx="1.9" ry="1.9" fill="#322a7c" transform="rotate(126 395.7 664.1)"/>
<ellipse cx="401.0" cy="665.3" rx="2.1" ry="2.0" fill="#483e92" transform="rotate(91 400.5 665.1)"/>
</g></g>
</g>
<rect x="0.7" y="0.7" width="518.6" height="705.6" fill="none" stroke="#000" stroke-width="1.4"/>
</svg>
</body></html>
